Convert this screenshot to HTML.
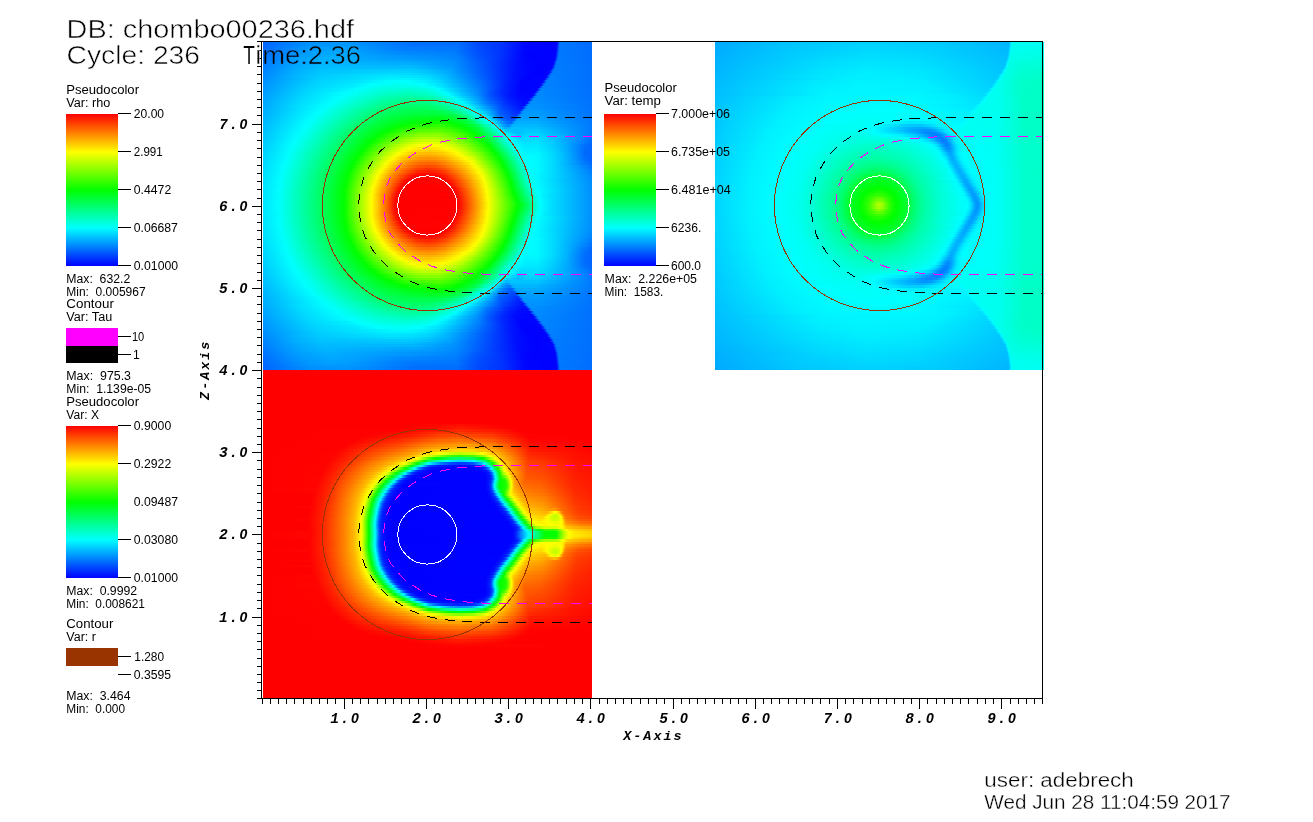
<!DOCTYPE html>
<html><head><meta charset="utf-8"><title>VisIt</title>
<style>
html,body{margin:0;padding:0;background:#fff}
body{width:1313px;height:822px;position:relative;overflow:hidden;font-family:"Liberation Sans",sans-serif}
.f{position:absolute;width:329px;height:328px;overflow:hidden}
.f i{position:absolute;left:0;width:329px;display:block}
svg{position:absolute;left:0;top:0;will-change:transform}
.s{font-family:"Liberation Sans",sans-serif;fill:#000}
.z{font-family:"Liberation Sans",sans-serif;font-size:14px;letter-spacing:0}
.m{font-family:"Liberation Mono",monospace;font-weight:bold;font-style:italic;fill:#000;letter-spacing:1.6px}
</style></head><body>
<div class="f" style="left:263px;top:42px"><i style="top:0px;height:3px;background:linear-gradient(90deg,#0067ff 0.5px,#0093ff 48.5px,#0096ff 85.5px,#006fff 151.5px,#006eff 194.5px,#0048ff 216.5px,#0032ff 239.5px,#0006ff 261.5px,#0000ff 291.5px,#0004ff 293.5px,#0019ff 294.5px,#006cff 296.5px,#0077ff 297.5px,#006dff 328.5px)"></i><i style="top:3px;height:2px;background:linear-gradient(90deg,#0068ff 0.5px,#0096ff 47.5px,#009aff 85.5px,#0073ff 148.5px,#0072ff 194.5px,#004bff 215.5px,#0033ff 238.5px,#0005ff 262.5px,#0000ff 291.5px,#0006ff 293.5px,#001eff 294.5px,#004dff 295.5px,#006eff 296.5px,#0078ff 297.5px,#006dff 328.5px)"></i><i style="top:5px;height:3px;background:linear-gradient(90deg,#006aff 0.5px,#009aff 46.5px,#00a1ff 66.5px,#009eff 85.5px,#007bff 141.5px,#0076ff 193.5px,#004eff 214.5px,#0034ff 237.5px,#0004ff 262.5px,#0000ff 290.5px,#0001ff 292.5px,#000aff 293.5px,#002bff 294.5px,#0059ff 295.5px,#0073ff 296.5px,#0078ff 297.5px,#006eff 328.5px)"></i><i style="top:8px;height:2px;background:linear-gradient(90deg,#006dff 0.5px,#0097ff 37.5px,#00a5ff 66.5px,#00a0ff 90.5px,#0082ff 142.5px,#007bff 191.5px,#0051ff 213.5px,#0034ff 237.5px,#0005ff 261.5px,#0000ff 290.5px,#0002ff 292.5px,#0010ff 293.5px,#0065ff 295.5px,#0077ff 296.5px,#006eff 328.5px)"></i><i style="top:10px;height:3px;background:linear-gradient(90deg,#0070ff 0.5px,#009bff 37.5px,#00a9ff 66.5px,#00a5ff 87.5px,#008cff 135.5px,#007fff 191.5px,#0053ff 213.5px,#0034ff 237.5px,#0007ff 259.5px,#0000ff 268.5px,#0004ff 292.5px,#001aff 293.5px,#006dff 295.5px,#0079ff 296.5px,#006eff 328.5px)"></i><i style="top:13px;height:2px;background:linear-gradient(90deg,#0073ff 0.5px,#009dff 35.5px,#00adff 65.5px,#0085ff 186.5px,#007eff 195.5px,#0058ff 212.5px,#0039ff 234.5px,#0006ff 259.5px,#0000ff 267.5px,#0001ff 291.5px,#0008ff 292.5px,#0027ff 293.5px,#0056ff 294.5px,#0073ff 295.5px,#0079ff 296.5px,#006eff 328.5px)"></i><i style="top:15px;height:3px;background:linear-gradient(90deg,#0076ff 0.5px,#00a2ff 36.5px,#00b1ff 65.5px,#008dff 180.5px,#0083ff 194.5px,#005dff 211.5px,#003eff 232.5px,#0008ff 258.5px,#0000ff 270.5px,#0003ff 291.5px,#0015ff 292.5px,#0068ff 294.5px,#0078ff 295.5px,#007aff 296.5px,#006eff 328.5px)"></i><i style="top:18px;height:2px;background:linear-gradient(90deg,#0079ff 0.5px,#00a3ff 34.5px,#00b4ff 61.5px,#009fff 157.5px,#008aff 192.5px,#0009ff 257.5px,#0000ff 272.5px,#0002ff 290.5px,#000eff 291.5px,#0061ff 293.5px,#0077ff 294.5px,#007bff 295.5px,#006eff 328.5px)"></i><i style="top:20px;height:3px;background:linear-gradient(90deg,#007cff 0.5px,#00a7ff 34.5px,#00b8ff 60.5px,#00abff 153.5px,#008fff 191.5px,#000aff 256.5px,#0000ff 273.5px,#0001ff 289.5px,#000aff 290.5px,#002aff 291.5px,#0058ff 292.5px,#0074ff 293.5px,#007bff 294.5px,#006eff 328.5px)"></i><i style="top:23px;height:3px;background:linear-gradient(90deg,#0080ff 0.5px,#00abff 34.5px,#00bcff 58.5px,#00b9ff 150.5px,#0095ff 190.5px,#000dff 254.5px,#0000ff 273.5px,#0001ff 288.5px,#000aff 289.5px,#0028ff 290.5px,#0056ff 291.5px,#0074ff 292.5px,#007cff 293.5px,#006fff 328.5px)"></i><i style="top:26px;height:2px;background:linear-gradient(90deg,#0083ff 0.5px,#00afff 35.5px,#00c0ff 57.5px,#00c4ff 149.5px,#009eff 187.5px,#000eff 253.5px,#0000ff 272.5px,#0002ff 287.5px,#000eff 288.5px,#002fff 289.5px,#005bff 290.5px,#0075ff 291.5px,#007cff 292.5px,#006fff 328.5px)"></i><i style="top:28px;height:3px;background:linear-gradient(90deg,#0086ff 0.5px,#00b2ff 35.5px,#00c3ff 56.5px,#00d2ff 130.5px,#00cfff 148.5px,#00c0ff 167.5px,#00a8ff 185.5px,#000fff 252.5px,#0000ff 271.5px,#0001ff 285.5px,#0008ff 286.5px,#001fff 287.5px,#006aff 289.5px,#007aff 290.5px,#007eff 291.5px,#006fff 328.5px)"></i><i style="top:31px;height:2px;background:linear-gradient(90deg,#0088ff 0.5px,#00b7ff 36.5px,#00c7ff 56.5px,#00ddff 128.5px,#00d9ff 149.5px,#00cbff 166.5px,#00b0ff 184.5px,#0011ff 251.5px,#0000ff 269.5px,#0002ff 284.5px,#0010ff 285.5px,#005dff 287.5px,#0077ff 288.5px,#007eff 289.5px,#006fff 328.5px)"></i><i style="top:33px;height:3px;background:linear-gradient(90deg,#008bff 0.5px,#00baff 36.5px,#00cbff 55.5px,#00e7ff 126.5px,#00e5ff 148.5px,#00d7ff 165.5px,#00bbff 182.5px,#0014ff 249.5px,#0000ff 267.5px,#0002ff 282.5px,#000bff 283.5px,#0025ff 284.5px,#006eff 286.5px,#007dff 287.5px,#0080ff 288.5px,#006fff 328.5px)"></i><i style="top:36px;height:2px;background:linear-gradient(90deg,#008eff 0.5px,#00ceff 54.5px,#00dfff 99.5px,#00f2ff 126.5px,#00f1ff 148.5px,#00e3ff 164.5px,#00ceff 176.5px,#00adff 191.5px,#0018ff 247.5px,#0006ff 257.5px,#0000ff 266.5px,#0005ff 281.5px,#0019ff 282.5px,#0068ff 284.5px,#007cff 285.5px,#0081ff 286.5px,#006fff 328.5px)"></i><i style="top:38px;height:3px;background:linear-gradient(90deg,#0091ff 0.5px,#00d1ff 53.5px,#00e4ff 95.5px,#00fdff 123.5px,#00ffff 143.5px,#00f1ff 161.5px,#00dcff 174.5px,#006eff 217.5px,#001fff 244.5px,#0002ff 259.5px,#0004ff 279.5px,#0013ff 280.5px,#005cff 282.5px,#0077ff 283.5px,#0081ff 284.5px,#006fff 328.5px)"></i><i style="top:41px;height:3px;background:linear-gradient(90deg,#0094ff 0.5px,#00d1ff 48.5px,#00e9ff 90.5px,#00ffff 109.5px,#00fff0 135.5px,#00fffe 160.5px,#00dcff 179.5px,#0076ff 216.5px,#0022ff 242.5px,#0002ff 258.5px,#0005ff 277.5px,#0015ff 278.5px,#005fff 280.5px,#0079ff 281.5px,#0082ff 282.5px,#0070ff 328.5px)"></i><i style="top:44px;height:2px;background:linear-gradient(90deg,#0097ff 0.5px,#00d4ff 47.5px,#00eeff 87.5px,#00fffe 100.5px,#00ffea 120.5px,#00ffe4 134.5px,#00ffea 154.5px,#00fffd 169.5px,#007eff 215.5px,#0024ff 241.5px,#0001ff 257.5px,#0003ff 275.5px,#0010ff 276.5px,#005cff 278.5px,#0079ff 279.5px,#0083ff 280.5px,#0070ff 328.5px)"></i><i style="top:46px;height:3px;background:linear-gradient(90deg,#0099ff 0.5px,#00d6ff 46.5px,#00f1ff 83.5px,#00fffe 93.5px,#00ffdf 119.5px,#00ffd5 144.5px,#00ffe1 163.5px,#00fffd 175.5px,#0082ff 215.5px,#002bff 238.5px,#0002ff 257.5px,#0004ff 273.5px,#0011ff 274.5px,#0076ff 277.5px,#0083ff 278.5px,#0086ff 279.5px,#0070ff 328.5px)"></i><i style="top:49px;height:2px;background:linear-gradient(90deg,#009cff 0.5px,#00d7ff 44.5px,#00fffe 87.5px,#00ffd8 114.5px,#00ffc4 144.5px,#00ffd2 165.5px,#00fffe 180.5px,#00b8ff 199.5px,#0086ff 215.5px,#0057ff 225.5px,#0029ff 238.5px,#0005ff 255.5px,#0002ff 271.5px,#000dff 272.5px,#002aff 273.5px,#0056ff 274.5px,#0078ff 275.5px,#0085ff 276.5px,#0087ff 277.5px,#0070ff 328.5px)"></i><i style="top:51px;height:3px;background:linear-gradient(90deg,#009eff 0.5px,#00d8ff 42.5px,#00fffe 82.5px,#00ffd0 111.5px,#00ffba 131.5px,#00ffb4 146.5px,#00ffc4 167.5px,#00fffe 185.5px,#00c8ff 198.5px,#0093ff 213.5px,#0051ff 227.5px,#0025ff 240.5px,#0008ff 253.5px,#0003ff 269.5px,#000dff 270.5px,#0029ff 271.5px,#0074ff 273.5px,#0084ff 274.5px,#0088ff 275.5px,#0070ff 328.5px)"></i><i style="top:54px;height:2px;background:linear-gradient(90deg,#00a1ff 0.5px,#00d7ff 39.5px,#00ffff 77.5px,#00ffb5 122.5px,#00ffa4 147.5px,#00ffb4 168.5px,#00ffd0 178.5px,#00fffc 189.5px,#00d1ff 199.5px,#009dff 213.5px,#005bff 226.5px,#0020ff 243.5px,#000aff 253.5px,#0002ff 267.5px,#000bff 268.5px,#0025ff 269.5px,#0075ff 271.5px,#0087ff 272.5px,#008bff 273.5px,#0070ff 328.5px)"></i><i style="top:56px;height:3px;background:linear-gradient(90deg,#00a3ff 0.5px,#00d8ff 37.5px,#00ffff 73.5px,#00ffab 119.5px,#00ff9a 135.5px,#00ff94 149.5px,#00ff99 162.5px,#00ffa6 170.5px,#00ffcf 183.5px,#00fffb 193.5px,#00a7ff 213.5px,#006aff 224.5px,#0023ff 244.5px,#000aff 256.5px,#0006ff 265.5px,#0011ff 266.5px,#002cff 267.5px,#0075ff 269.5px,#0087ff 270.5px,#008cff 271.5px,#0071ff 328.5px)"></i><i style="top:59px;height:3px;background:linear-gradient(90deg,#00a6ff 0.5px,#00d9ff 35.5px,#00ffff 68.5px,#00ff9d 118.5px,#00ff87 136.5px,#00ff80 152.5px,#00ff86 164.5px,#00ff95 172.5px,#00ffc3 186.5px,#00fdff 199.5px,#0072ff 225.5px,#0027ff 245.5px,#0009ff 260.5px,#000eff 263.5px,#0020ff 264.5px,#0068ff 266.5px,#0083ff 267.5px,#0090ff 269.5px,#0072ff 328.5px)"></i><i style="top:62px;height:2px;background:linear-gradient(90deg,#00a8ff 0.5px,#00daff 33.5px,#00ffff 65.5px,#00ff92 117.5px,#00ff77 137.5px,#00ff6f 153.5px,#00ff75 165.5px,#00ff88 174.5px,#00ffba 189.5px,#00fdff 203.5px,#00d0ff 210.5px,#0086ff 224.5px,#003eff 240.5px,#0020ff 250.5px,#000dff 260.5px,#0010ff 261.5px,#0021ff 262.5px,#0070ff 264.5px,#0089ff 265.5px,#0091ff 266.5px,#0092ff 275.5px,#0073ff 328.5px)"></i><i style="top:64px;height:3px;background:linear-gradient(90deg,#00aaff 0.5px,#00daff 31.5px,#00fffe 62.5px,#00ff85 117.5px,#00ff68 137.5px,#00ff60 153.5px,#00ff66 167.5px,#00ff7b 177.5px,#00ffb1 192.5px,#00fffc 206.5px,#00c7ff 215.5px,#0048ff 239.5px,#0017ff 257.5px,#001bff 259.5px,#002dff 260.5px,#0073ff 262.5px,#008aff 263.5px,#0095ff 265.5px,#0073ff 328.5px)"></i><i style="top:67px;height:2px;background:linear-gradient(90deg,#00adff 0.5px,#00ffff 58.5px,#00ff9c 100.5px,#00ff6a 125.5px,#00ff58 139.5px,#00ff52 155.5px,#00ff58 171.5px,#00ff6f 182.5px,#00ff9c 193.5px,#00fffe 210.5px,#00ceff 217.5px,#0092ff 228.5px,#0056ff 237.5px,#001eff 256.5px,#0020ff 257.5px,#002fff 258.5px,#007aff 260.5px,#0090ff 261.5px,#0096ff 262.5px,#0096ff 275.5px,#0074ff 328.5px)"></i><i style="top:69px;height:3px;background:linear-gradient(90deg,#00afff 0.5px,#00ffff 55.5px,#00ff91 100.5px,#00ff59 127.5px,#00ff4a 141.5px,#00ff43 168.5px,#00ff4b 179.5px,#00ff68 189.5px,#00ff8d 196.5px,#00fffc 213.5px,#00a0ff 228.5px,#0060ff 236.5px,#002aff 254.5px,#002bff 255.5px,#0037ff 256.5px,#0078ff 258.5px,#0090ff 259.5px,#0099ff 261.5px,#0099ff 275.5px,#0074ff 328.5px)"></i><i style="top:72px;height:2px;background:linear-gradient(90deg,#00b1ff 0.5px,#00ffff 52.5px,#00ff51 124.5px,#00ff38 150.5px,#00ff30 173.5px,#00ff3c 184.5px,#00ff58 193.5px,#00ff75 198.5px,#00ffcd 209.5px,#00feff 217.5px,#00aeff 228.5px,#0066ff 236.5px,#0038ff 252.5px,#003fff 254.5px,#0093ff 257.5px,#009cff 259.5px,#009bff 275.5px,#0075ff 328.5px)"></i><i style="top:74px;height:3px;background:linear-gradient(90deg,#00b3ff 0.5px,#00fffe 50.5px,#00ff4a 121.5px,#00ff29 148.5px,#00ff1b 175.5px,#00ff2a 186.5px,#00ff4b 197.5px,#00ff72 203.5px,#00ffd1 213.5px,#00fbff 221.5px,#0070ff 237.5px,#005aff 242.5px,#0045ff 250.5px,#004bff 252.5px,#0093ff 255.5px,#009fff 257.5px,#009fff 274.5px,#0076ff 328.5px)"></i><i style="top:77px;height:2px;background:linear-gradient(90deg,#00b5ff 0.5px,#00ffff 47.5px,#00ff44 118.5px,#00ff1c 145.5px,#00ff05 176.5px,#00ff1c 189.5px,#00ff46 202.5px,#00ff62 206.5px,#00ffca 216.5px,#00feff 224.5px,#0078ff 239.5px,#005dff 244.5px,#0052ff 248.5px,#0055ff 250.5px,#0066ff 251.5px,#009bff 253.5px,#00a6ff 255.5px,#00a6ff 274.5px,#0077ff 328.5px)"></i><i style="top:79px;height:3px;background:linear-gradient(90deg,#00b7ff 0.5px,#00fffe 45.5px,#00fff3 51.5px,#00ff42 114.5px,#00ff14 139.5px,#00ff00 157.5px,#03ff00 166.5px,#12ff00 176.5px,#01ff00 186.5px,#00ff28 200.5px,#00ff4d 208.5px,#00ffca 220.5px,#00fffc 227.5px,#00f8ff 228.5px,#0096ff 238.5px,#0073ff 243.5px,#0062ff 247.5px,#0067ff 248.5px,#0077ff 249.5px,#00a2ff 251.5px,#00abff 252.5px,#00aeff 254.5px,#00aeff 274.5px,#0079ff 328.5px)"></i><i style="top:82px;height:3px;background:linear-gradient(90deg,#00baff 0.5px,#00ffff 42.5px,#00fff8 46.5px,#00ff41 109.5px,#03ff00 140.5px,#1cff00 154.5px,#2eff00 176.5px,#21ff00 184.5px,#00ff02 196.5px,#00ff30 208.5px,#00ff4b 213.5px,#00ffa4 221.5px,#00ffc8 226.5px,#00fffe 231.5px,#00a0ff 240.5px,#0086ff 245.5px,#0089ff 246.5px,#00b3ff 249.5px,#00b7ff 250.5px,#00b8ff 273.5px,#007aff 328.5px)"></i><i style="top:85px;height:2px;background:linear-gradient(90deg,#00bcff 0.5px,#00fffd 41.5px,#00ffc8 61.5px,#00ff36 109.5px,#00ff00 131.5px,#1aff00 140.5px,#37ff00 154.5px,#46ff00 176.5px,#2eff00 188.5px,#01ff00 201.5px,#00ff44 216.5px,#00ff88 222.5px,#00ffb9 228.5px,#00feff 234.5px,#00bbff 240.5px,#00a6ff 243.5px,#00c0ff 248.5px,#00bfff 274.5px,#007aff 328.5px)"></i><i style="top:87px;height:3px;background:linear-gradient(90deg,#00bfff 0.5px,#00fffd 39.5px,#00ffee 46.5px,#00ff39 104.5px,#00ff00 125.5px,#34ff00 140.5px,#53ff00 155.5px,#5eff00 176.5px,#3eff00 190.5px,#00ff00 206.5px,#00ff3a 217.5px,#00ff78 223.5px,#00ffb0 230.5px,#00faff 237.5px,#00dbff 240.5px,#00c7ff 243.5px,#00bfff 254.5px,#00c7ff 262.5px,#00c8ff 274.5px,#0079ff 328.5px)"></i><i style="top:90px;height:2px;background:linear-gradient(90deg,#00c1ff 0.5px,#00fffe 37.5px,#00ffc4 58.5px,#00ff00 120.5px,#4dff00 140.5px,#70ff00 156.5px,#77ff00 175.5px,#4eff00 192.5px,#01ff00 210.5px,#00ff1b 215.5px,#00ffa0 231.5px,#00fffb 239.5px,#00f9ff 240.5px,#00daff 245.5px,#00b9ff 254.5px,#00ceff 262.5px,#00d0ff 274.5px,#0078ff 328.5px)"></i><i style="top:92px;height:3px;background:linear-gradient(90deg,#00c3ff 0.5px,#00fdff 34.5px,#00fff4 40.5px,#00ff03 115.5px,#66ff00 140.5px,#8dff00 157.5px,#91ff00 175.5px,#5cff00 194.5px,#03ff00 213.5px,#00ff93 232.5px,#00ffec 240.5px,#00fcff 243.5px,#00c7ff 255.5px,#00d7ff 263.5px,#00d7ff 274.5px,#00b3ff 297.5px,#0076ff 328.5px)"></i><i style="top:95px;height:2px;background:linear-gradient(90deg,#00c5ff 0.5px,#00feff 33.5px,#00fff2 39.5px,#00ff01 112.5px,#4eff00 128.5px,#7fff00 140.5px,#a9ff00 157.5px,#afff00 167.5px,#abff00 175.5px,#93ff00 185.5px,#66ff00 197.5px,#2dff00 209.5px,#00ff01 216.5px,#00ff76 231.5px,#00ffe2 241.5px,#00fdff 246.5px,#00e0ff 252.5px,#00d2ff 257.5px,#00ddff 263.5px,#00dcff 275.5px,#00b6ff 297.5px,#0072ff 328.5px)"></i><i style="top:97px;height:3px;background:linear-gradient(90deg,#00c7ff 0.5px,#00ffff 32.5px,#00ffbe 54.5px,#01ff00 109.5px,#5fff00 127.5px,#9fff00 142.5px,#c2ff00 155.5px,#cbff00 166.5px,#c3ff00 176.5px,#9eff00 189.5px,#4bff00 207.5px,#00ff01 219.5px,#00ff46 228.5px,#00ffda 242.5px,#00fffe 248.5px,#00dcff 258.5px,#00e1ff 274.5px,#00c8ff 289.5px,#006dff 328.5px)"></i><i style="top:100px;height:2px;background:linear-gradient(90deg,#00caff 0.5px,#00fffe 31.5px,#00ff68 78.5px,#00ff00 106.5px,#11ff00 109.5px,#70ff00 126.5px,#b8ff00 142.5px,#deff00 155.5px,#e8ff00 166.5px,#dbff00 177.5px,#b2ff00 190.5px,#64ff00 206.5px,#00ff02 223.5px,#00ff3a 229.5px,#00ffd0 243.5px,#00fffd 250.5px,#00e3ff 260.5px,#00e5ff 274.5px,#00c9ff 290.5px,#0068ff 328.5px)"></i><i style="top:102px;height:3px;background:linear-gradient(90deg,#00ccff 0.5px,#00ffff 29.5px,#00ffe7 38.5px,#00ff68 76.5px,#00ff02 103.5px,#22ff00 109.5px,#9aff00 130.5px,#e2ff00 146.5px,#ffff00 158.5px,#ffff00 170.5px,#eeff00 180.5px,#c2ff00 192.5px,#89ff00 203.5px,#02ff00 225.5px,#00ff06 226.5px,#00ffc4 244.5px,#00ffdc 247.5px,#00fcff 253.5px,#00e9ff 261.5px,#00e9ff 274.5px,#00ceff 289.5px,#00afff 302.5px,#0071ff 321.5px,#0066ff 328.5px)"></i><i style="top:105px;height:3px;background:linear-gradient(90deg,#00ceff 0.5px,#00fffe 28.5px,#00ff64 75.5px,#00ff03 100.5px,#37ff00 109.5px,#afff00 129.5px,#fdff00 145.5px,#ffe900 155.5px,#ffe200 164.5px,#ffea00 174.5px,#fffd00 183.5px,#e8ff00 190.5px,#b5ff00 200.5px,#01ff00 228.5px,#00ffaa 244.5px,#00ffd6 249.5px,#00feff 255.5px,#00eeff 262.5px,#00eeff 274.5px,#00d4ff 288.5px,#00b3ff 301.5px,#006aff 322.5px,#0066ff 328.5px)"></i><i style="top:108px;height:2px;background:linear-gradient(90deg,#00d0ff 0.5px,#00fffd 27.5px,#00ff65 73.5px,#03ff00 99.5px,#a1ff00 123.5px,#fffe00 140.5px,#ffda00 152.5px,#ffce00 164.5px,#ffd900 176.5px,#fffb00 189.5px,#ecff00 194.5px,#b4ff00 204.5px,#02ff00 230.5px,#00ff07 231.5px,#00ff95 244.5px,#00fffd 256.5px,#00f2ff 262.5px,#00f2ff 274.5px,#00d7ff 288.5px,#00b2ff 302.5px,#006cff 321.5px,#0066ff 328.5px)"></i><i style="top:110px;height:3px;background:linear-gradient(90deg,#00d2ff 0.5px,#00fffd 26.5px,#00ff62 72.5px,#00ff02 96.5px,#11ff00 99.5px,#a2ff00 120.5px,#fdff00 135.5px,#ffca00 150.5px,#ffb900 164.5px,#ffcb00 179.5px,#fffc00 194.5px,#a4ff00 210.5px,#02ff00 232.5px,#00ff95 246.5px,#00ffe1 254.5px,#00ffff 258.5px,#00f6ff 262.5px,#00f6ff 274.5px,#00daff 288.5px,#00b8ff 301.5px,#0069ff 322.5px,#0066ff 328.5px)"></i><i style="top:113px;height:2px;background:linear-gradient(90deg,#00d3ff 0.5px,#00fffd 25.5px,#00ff64 70.5px,#00ff03 94.5px,#1fff00 99.5px,#aeff00 119.5px,#fffd00 132.5px,#ffd700 140.5px,#ffbb00 148.5px,#ffaa00 156.5px,#ffa500 164.5px,#ffaa00 172.5px,#ffba00 180.5px,#fffc00 198.5px,#bcff00 210.5px,#00ff00 234.5px,#00ff82 246.5px,#00ffd3 254.5px,#00fffd 259.5px,#00f9ff 274.5px,#00ddff 288.5px,#00baff 301.5px,#006bff 322.5px,#0066ff 328.5px)"></i><i style="top:115px;height:3px;background:linear-gradient(90deg,#00d5ff 0.5px,#00fffd 24.5px,#00ff63 69.5px,#01ff00 93.5px,#2dff00 99.5px,#bfff00 119.5px,#fffc00 129.5px,#ffcc00 138.5px,#ffaa00 147.5px,#ff9600 156.5px,#ff9000 164.5px,#ff9600 172.5px,#ffa900 181.5px,#fffc00 202.5px,#e1ff00 208.5px,#6aff00 222.5px,#00ff02 236.5px,#00ffcf 255.5px,#00ffff 261.5px,#00f9ff 274.5px,#00dbff 289.5px,#00b7ff 302.5px,#0071ff 321.5px,#0066ff 328.5px)"></i><i style="top:118px;height:2px;background:linear-gradient(90deg,#00d7ff 0.5px,#00fffd 23.5px,#00ff61 68.5px,#00ff02 91.5px,#3aff00 99.5px,#fffd00 126.5px,#ffc300 136.5px,#ff9c00 145.5px,#ff8300 155.5px,#ff7b00 164.5px,#ff8100 172.5px,#ff9900 182.5px,#fffb00 206.5px,#efff00 209.5px,#6bff00 224.5px,#04ff00 237.5px,#00ff07 238.5px,#00ffcb 256.5px,#00fffe 262.5px,#00f9ff 274.5px,#00d6ff 291.5px,#00b8ff 302.5px,#0076ff 321.5px,#0067ff 328.5px)"></i><i style="top:120px;height:3px;background:linear-gradient(90deg,#00d8ff 0.5px,#00fffe 22.5px,#00ff61 67.5px,#00ff00 90.5px,#47ff00 99.5px,#feff00 123.5px,#ffbb00 134.5px,#ff8c00 144.5px,#ff6c00 155.5px,#ff6300 164.5px,#ff6c00 173.5px,#ff8500 182.5px,#ffdd00 203.5px,#fffd00 209.5px,#00ff02 239.5px,#00ffbf 256.5px,#00fffd 263.5px,#00f9ff 274.5px,#00d6ff 291.5px,#007eff 320.5px,#006cff 328.5px)"></i><i style="top:123px;height:3px;background:linear-gradient(90deg,#00daff 0.5px,#00fffe 21.5px,#00ff5f 66.5px,#00ff02 88.5px,#56ff00 99.5px,#fffb00 121.5px,#ffab00 133.5px,#ff7900 143.5px,#ff5400 154.5px,#ff4700 164.5px,#ff4f00 172.5px,#ff6900 181.5px,#ffc200 201.5px,#fff900 211.5px,#f6ff00 213.5px,#05ff00 240.5px,#00ff06 241.5px,#00ffd0 259.5px,#00fff6 263.5px,#00feff 265.5px,#00f9ff 274.5px,#00d7ff 291.5px,#0074ff 328.5px)"></i><i style="top:126px;height:2px;background:linear-gradient(90deg,#00dbff 0.5px,#00ffff 20.5px,#00ff5f 65.5px,#00ff01 87.5px,#61ff00 99.5px,#fffc00 119.5px,#ffa000 132.5px,#ff6a00 142.5px,#ff3e00 154.5px,#ff3000 164.5px,#ff3800 172.5px,#ff5300 181.5px,#ffaf00 200.5px,#fff900 213.5px,#f5ff00 215.5px,#00ff03 242.5px,#00ffc5 259.5px,#00ffed 263.5px,#00feff 266.5px,#00f9ff 274.5px,#00d9ff 290.5px,#007aff 328.5px)"></i><i style="top:128px;height:3px;background:linear-gradient(90deg,#00ddff 0.5px,#00fffc 20.5px,#00ff5f 64.5px,#00ff01 86.5px,#6cff00 99.5px,#fffe00 117.5px,#ff9500 131.5px,#ff5e00 141.5px,#ff2700 154.5px,#ff1a00 164.5px,#ff2500 173.5px,#ff4200 182.5px,#ffad00 202.5px,#fffb00 215.5px,#f3ff00 217.5px,#00ff01 243.5px,#00ffc5 260.5px,#00ffee 264.5px,#00feff 267.5px,#00f8ff 275.5px,#00dcff 289.5px,#007fff 328.5px)"></i><i style="top:131px;height:2px;background:linear-gradient(90deg,#00deff 0.5px,#00fffe 19.5px,#00ff5f 63.5px,#00ff01 85.5px,#77ff00 99.5px,#fdff00 115.5px,#fff900 116.5px,#ff8500 131.5px,#ff2c00 147.5px,#ff1000 154.5px,#ff0700 161.5px,#ff0e00 172.5px,#ff2f00 182.5px,#ff5300 189.5px,#fffe00 217.5px,#f8ff00 218.5px,#00ff00 244.5px,#00ffbc 260.5px,#00fffc 267.5px,#00e2ff 286.5px,#0084ff 328.5px)"></i><i style="top:133px;height:3px;background:linear-gradient(90deg,#00dfff 0.5px,#00ffff 18.5px,#00ff60 62.5px,#00ff01 84.5px,#80ff00 99.5px,#fffe00 114.5px,#ff8400 129.5px,#ff1f00 145.5px,#ff0800 150.5px,#ff0100 155.5px,#ff0100 172.5px,#ff0f00 179.5px,#ff4100 189.5px,#fbff00 219.5px,#01ff00 245.5px,#00ffb2 260.5px,#00ffe7 265.5px,#00fffd 268.5px,#00e8ff 283.5px,#0088ff 328.5px)"></i><i style="top:136px;height:2px;background:linear-gradient(90deg,#00e0ff 0.5px,#00fffd 18.5px,#00ff5d 62.5px,#00ff03 83.5px,#13ff00 86.5px,#89ff00 99.5px,#fffc00 113.5px,#ff7e00 128.5px,#ff0f00 144.5px,#ff0000 149.5px,#ff0000 177.5px,#ff0600 181.5px,#ff3d00 191.5px,#fcff00 220.5px,#00ff00 246.5px,#00ffb5 261.5px,#00ffe9 266.5px,#00fffe 269.5px,#008aff 328.5px)"></i><i style="top:138px;height:3px;background:linear-gradient(90deg,#00e1ff 0.5px,#00ffff 17.5px,#00ff62 60.5px,#00ff04 82.5px,#11ff00 85.5px,#91ff00 99.5px,#fffc00 112.5px,#ff8900 125.5px,#ff4a00 134.5px,#ff0f00 141.5px,#ff0100 145.5px,#ff0500 184.5px,#ff3400 192.5px,#fbff00 221.5px,#00ff01 247.5px,#00ffb6 262.5px,#00ffea 267.5px,#00ffff 270.5px,#008cff 328.5px)"></i><i style="top:141px;height:3px;background:linear-gradient(90deg,#00e2ff 0.5px,#00fffd 17.5px,#00ff5b 61.5px,#00ff00 82.5px,#9aff00 99.5px,#fffb00 111.5px,#ff1100 138.5px,#ff0000 142.5px,#ff0500 187.5px,#faff00 222.5px,#00ff02 248.5px,#00ffaa 262.5px,#00ffe9 268.5px,#00fffe 271.5px,#008eff 328.5px)"></i><i style="top:144px;height:2px;background:linear-gradient(90deg,#00e3ff 0.5px,#00fffc 17.5px,#00ff5d 60.5px,#00ff03 81.5px,#13ff00 84.5px,#a1ff00 99.5px,#fffd00 110.5px,#ff0900 137.5px,#ff0000 140.5px,#ff0400 189.5px,#fffe00 222.5px,#f7ff00 223.5px,#00ff04 249.5px,#00ffaa 263.5px,#00ffe0 268.5px,#00ffff 272.5px,#008fff 328.5px)"></i><i style="top:146px;height:3px;background:linear-gradient(90deg,#00e3ff 0.5px,#00fffe 16.5px,#00ff5f 59.5px,#00ff01 81.5px,#a6ff00 99.5px,#feff00 109.5px,#ff4b00 129.5px,#ff0d00 135.5px,#ff0000 138.5px,#ff0200 190.5px,#ff1300 193.5px,#fdff00 223.5px,#7dff00 237.5px,#04ff00 249.5px,#00ff06 250.5px,#00ffd5 268.5px,#00ffff 273.5px,#008fff 328.5px)"></i><i style="top:149px;height:2px;background:linear-gradient(90deg,#00e4ff 0.5px,#00fffd 16.5px,#00ff62 58.5px,#01ff00 81.5px,#aaff00 99.5px,#fffb00 109.5px,#ff4b00 128.5px,#ff0b00 134.5px,#ff0000 137.5px,#ff0100 191.5px,#ff1200 194.5px,#fffd00 223.5px,#f8ff00 224.5px,#79ff00 238.5px,#02ff00 250.5px,#00ff3d 256.5px,#00ffd6 269.5px,#00ffff 274.5px,#008fff 328.5px)"></i><i style="top:151px;height:3px;background:linear-gradient(90deg,#00e4ff 0.5px,#00fffc 16.5px,#00ff64 57.5px,#00ff03 80.5px,#0aff00 82.5px,#aeff00 99.5px,#fdff00 108.5px,#ff5600 126.5px,#ff0b00 133.5px,#ff0000 136.5px,#ff0400 193.5px,#fcff00 224.5px,#00ff00 251.5px,#00ff3e 257.5px,#00ffe1 271.5px,#00feff 275.5px,#00eeff 280.5px,#0090ff 328.5px)"></i><i style="top:154px;height:2px;background:linear-gradient(90deg,#00e4ff 0.5px,#00fffc 16.5px,#00ff63 57.5px,#00ff02 80.5px,#0cff00 82.5px,#b1ff00 99.5px,#ffff00 108.5px,#ffbf00 115.5px,#ff0d00 132.5px,#ff0000 135.5px,#ff0100 193.5px,#ff0b00 195.5px,#ffff00 224.5px,#00ff02 252.5px,#00ff8b 265.5px,#00ffe3 272.5px,#00fcff 276.5px,#00e8ff 283.5px,#0090ff 328.5px)"></i><i style="top:156px;height:3px;background:linear-gradient(90deg,#00e5ff 0.5px,#00ffff 15.5px,#00ff66 56.5px,#00ff02 80.5px,#0cff00 82.5px,#b2ff00 99.5px,#fffd00 108.5px,#ffbe00 115.5px,#ff0700 132.5px,#ff0000 134.5px,#ff0200 194.5px,#ff8200 210.5px,#fffc00 224.5px,#f9ff00 225.5px,#00ff03 253.5px,#00ff7e 265.5px,#00ffdc 272.5px,#00fffe 276.5px,#00e4ff 285.5px,#0090ff 328.5px)"></i><i style="top:159px;height:2px;background:linear-gradient(90deg,#00e5ff 0.5px,#00fffe 15.5px,#00ff66 56.5px,#00ff03 80.5px,#0cff00 82.5px,#b3ff00 99.5px,#fffd00 108.5px,#ffbe00 115.5px,#ff0d00 131.5px,#ff0000 134.5px,#ff0100 194.5px,#ff0c00 196.5px,#faff00 225.5px,#00ff04 254.5px,#00ff7c 266.5px,#00ffd5 272.5px,#00fdff 277.5px,#00e0ff 287.5px,#0090ff 328.5px)"></i><i style="top:161px;height:3px;background:linear-gradient(90deg,#00e5ff 0.5px,#00fffe 15.5px,#00ff66 56.5px,#00ff03 80.5px,#0cff00 82.5px,#b4ff00 99.5px,#fffe00 108.5px,#ffbf00 115.5px,#ff0c00 131.5px,#ff0000 133.5px,#ff0000 194.5px,#ff0a00 196.5px,#fbff00 225.5px,#76ff00 240.5px,#00ff05 255.5px,#00ff64 265.5px,#00ffce 272.5px,#00ffff 277.5px,#00deff 288.5px,#0090ff 328.5px)"></i><i style="top:164px;height:3px;background:linear-gradient(90deg,#00e5ff 0.5px,#00fffe 15.5px,#00ff66 56.5px,#00ff03 80.5px,#0cff00 82.5px,#b4ff00 99.5px,#fffd00 108.5px,#ffbe00 115.5px,#ff0c00 131.5px,#ff0000 133.5px,#ff0100 194.5px,#ff0b00 196.5px,#faff00 225.5px,#01ff00 254.5px,#00ff68 265.5px,#00ffd1 272.5px,#00feff 277.5px,#00deff 288.5px,#0090ff 328.5px)"></i><i style="top:167px;height:2px;background:linear-gradient(90deg,#00e5ff 0.5px,#00fffe 15.5px,#00ff66 56.5px,#00ff02 80.5px,#0cff00 82.5px,#b3ff00 99.5px,#fffd00 108.5px,#ffbe00 115.5px,#ff0f00 131.5px,#ff0000 134.5px,#ff0100 194.5px,#ff8000 210.5px,#fffc00 224.5px,#faff00 225.5px,#02ff00 253.5px,#00ff76 265.5px,#00ffd8 272.5px,#00fffc 276.5px,#00e2ff 286.5px,#0090ff 328.5px)"></i><i style="top:169px;height:3px;background:linear-gradient(90deg,#00e5ff 0.5px,#00fffc 16.5px,#00ff63 57.5px,#00ff02 80.5px,#0cff00 82.5px,#b2ff00 99.5px,#fffe00 108.5px,#ffbe00 115.5px,#ff0900 132.5px,#ff0000 134.5px,#ff0200 194.5px,#fffd00 224.5px,#f8ff00 225.5px,#03ff00 252.5px,#00ff06 253.5px,#00ff83 265.5px,#00ffdf 272.5px,#00ffff 276.5px,#00e4ff 285.5px,#0090ff 328.5px)"></i><i style="top:172px;height:2px;background:linear-gradient(90deg,#00e4ff 0.5px,#00fffc 16.5px,#00ff64 57.5px,#00ff03 80.5px,#0bff00 82.5px,#b0ff00 99.5px,#ffff00 108.5px,#ff5300 126.5px,#ff1000 132.5px,#ff0000 135.5px,#ff0200 193.5px,#feff00 224.5px,#00ff05 252.5px,#00ff91 265.5px,#00ffdc 271.5px,#00fffd 275.5px,#00eaff 282.5px,#0090ff 328.5px)"></i><i style="top:174px;height:3px;background:linear-gradient(90deg,#00e4ff 0.5px,#00fffd 16.5px,#00ff61 58.5px,#00ff04 80.5px,#12ff00 83.5px,#adff00 99.5px,#fcff00 108.5px,#fff900 109.5px,#ff5000 127.5px,#ff0e00 133.5px,#ff0000 136.5px,#ff0100 192.5px,#fbff00 224.5px,#00ff03 251.5px,#00ffda 270.5px,#00fffc 274.5px,#0090ff 328.5px)"></i><i style="top:177px;height:2px;background:linear-gradient(90deg,#00e4ff 0.5px,#00fffe 16.5px,#00ff5e 59.5px,#00ff00 81.5px,#a9ff00 99.5px,#fffd00 109.5px,#ff4e00 128.5px,#ff0f00 134.5px,#ff0000 137.5px,#ff0200 191.5px,#fffe00 223.5px,#80ff00 237.5px,#00ff01 250.5px,#00ffda 269.5px,#00fffc 273.5px,#008fff 328.5px)"></i><i style="top:179px;height:3px;background:linear-gradient(90deg,#00e3ff 0.5px,#00fffe 16.5px,#00ff60 59.5px,#00ff02 81.5px,#16ff00 84.5px,#a4ff00 99.5px,#fcff00 109.5px,#fff900 110.5px,#ff4f00 129.5px,#ff0a00 136.5px,#ff0000 139.5px,#ff0400 190.5px,#fbff00 223.5px,#7aff00 237.5px,#01ff00 249.5px,#00ffda 268.5px,#00fdff 273.5px,#008fff 328.5px)"></i><i style="top:182px;height:2px;background:linear-gradient(90deg,#00e3ff 0.5px,#00fffc 17.5px,#00ff5e 60.5px,#00ff04 81.5px,#11ff00 84.5px,#9eff00 99.5px,#ffff00 110.5px,#ff0f00 137.5px,#ff0000 140.5px,#ff0300 188.5px,#feff00 222.5px,#7dff00 236.5px,#03ff00 248.5px,#00ff08 249.5px,#00ffd9 267.5px,#00fdff 272.5px,#008eff 328.5px)"></i><i style="top:184px;height:3px;background:linear-gradient(90deg,#00e2ff 0.5px,#00fffe 17.5px,#00ff5c 61.5px,#00ff02 82.5px,#15ff00 85.5px,#98ff00 99.5px,#fffe00 111.5px,#ff8900 124.5px,#ff4e00 132.5px,#ff0f00 139.5px,#ff0000 143.5px,#ff0400 186.5px,#ff3700 194.5px,#fffe00 221.5px,#f8ff00 222.5px,#06ff00 247.5px,#00ff05 248.5px,#00ffae 262.5px,#00ffe3 267.5px,#00feff 271.5px,#008eff 328.5px)"></i><i style="top:187px;height:3px;background:linear-gradient(90deg,#00e1ff 0.5px,#00fffc 18.5px,#00ff5b 62.5px,#00ff00 83.5px,#8eff00 99.5px,#ffff00 112.5px,#ff8600 126.5px,#ff1000 142.5px,#ff0000 147.5px,#ff0000 179.5px,#ff0600 183.5px,#ff3a00 192.5px,#fffd00 220.5px,#f8ff00 221.5px,#06ff00 246.5px,#00ff05 247.5px,#00ffba 262.5px,#00ffed 267.5px,#00feff 270.5px,#008cff 328.5px)"></i><i style="top:190px;height:2px;background:linear-gradient(90deg,#00e0ff 0.5px,#00fffe 18.5px,#00ff5e 62.5px,#00ff04 83.5px,#11ff00 86.5px,#86ff00 99.5px,#feff00 113.5px,#ff8300 128.5px,#ff1800 144.5px,#ff0700 147.5px,#ff0100 151.5px,#ff0000 175.5px,#ff0800 180.5px,#ff3d00 190.5px,#fffd00 219.5px,#f8ff00 220.5px,#00ff04 246.5px,#00ffb8 261.5px,#00ffec 266.5px,#00feff 269.5px,#00eaff 282.5px,#0089ff 328.5px)"></i><i style="top:192px;height:3px;background:linear-gradient(90deg,#00dfff 0.5px,#00fffc 19.5px,#00ff5d 63.5px,#00ff03 84.5px,#12ff00 87.5px,#7cff00 99.5px,#fffa00 115.5px,#ff8300 130.5px,#ff2300 146.5px,#ff0c00 151.5px,#ff0300 157.5px,#ff0400 172.5px,#ff1b00 180.5px,#ff4800 189.5px,#ffff00 218.5px,#00ff04 245.5px,#00ffb6 260.5px,#00ffea 265.5px,#00ffff 268.5px,#00e0ff 287.5px,#0086ff 328.5px)"></i><i style="top:195px;height:2px;background:linear-gradient(90deg,#00ddff 0.5px,#00fffe 19.5px,#00ff61 63.5px,#00ff03 85.5px,#13ff00 88.5px,#73ff00 99.5px,#fffe00 116.5px,#ff9900 129.5px,#ff6800 137.5px,#ff2300 151.5px,#ff0e00 161.5px,#ff1400 171.5px,#ff3600 182.5px,#fbff00 217.5px,#00ff04 244.5px,#00ffc0 260.5px,#00ffe9 264.5px,#00fffe 267.5px,#00f8ff 275.5px,#00deff 288.5px,#0082ff 328.5px)"></i><i style="top:197px;height:3px;background:linear-gradient(90deg,#00dcff 0.5px,#00fffd 20.5px,#00ff60 64.5px,#00ff03 86.5px,#0aff00 88.5px,#68ff00 99.5px,#fffb00 118.5px,#ff9c00 131.5px,#ff6500 141.5px,#ff3000 154.5px,#ff2300 164.5px,#ff2d00 173.5px,#ff4b00 182.5px,#ffad00 201.5px,#fff900 214.5px,#f6ff00 216.5px,#05ff00 242.5px,#00ff06 243.5px,#00ffbf 259.5px,#00fff1 264.5px,#00fffe 266.5px,#00f8ff 275.5px,#00dbff 289.5px,#007dff 328.5px)"></i><i style="top:200px;height:2px;background:linear-gradient(90deg,#00dbff 0.5px,#00fffc 21.5px,#00ff60 65.5px,#00ff04 87.5px,#09ff00 89.5px,#5dff00 99.5px,#fdff00 119.5px,#ffa700 132.5px,#ff7200 142.5px,#ff4700 154.5px,#ff3900 164.5px,#ff4300 173.5px,#ff6000 182.5px,#ffb500 200.5px,#fffe00 213.5px,#03ff00 241.5px,#00ff08 242.5px,#00ffbf 258.5px,#00fff1 263.5px,#00fffe 265.5px,#00f9ff 274.5px,#00d9ff 290.5px,#0077ff 328.5px)"></i><i style="top:202px;height:3px;background:linear-gradient(90deg,#00d9ff 0.5px,#00ffff 21.5px,#00ff61 66.5px,#00ff05 88.5px,#08ff00 90.5px,#51ff00 99.5px,#fcff00 121.5px,#ffb200 133.5px,#ff8100 143.5px,#ff5d00 154.5px,#ff5000 164.5px,#ff5800 172.5px,#ff7100 181.5px,#ffc800 201.5px,#ffff00 211.5px,#00ff01 240.5px,#00ffc0 257.5px,#00fffe 264.5px,#00f9ff 274.5px,#00d7ff 291.5px,#0071ff 328.5px)"></i><i style="top:205px;height:3px;background:linear-gradient(90deg,#00d8ff 0.5px,#00ffff 22.5px,#00ff62 67.5px,#00ff03 90.5px,#42ff00 99.5px,#feff00 124.5px,#ffbd00 135.5px,#ff9400 144.5px,#ff7500 155.5px,#ff6d00 164.5px,#ff7400 172.5px,#ff8d00 182.5px,#fffd00 208.5px,#03ff00 238.5px,#00ff08 239.5px,#00ffce 257.5px,#00fff4 261.5px,#00ffff 263.5px,#00f9ff 274.5px,#00d6ff 291.5px,#00b6ff 303.5px,#007cff 320.5px,#006aff 328.5px)"></i><i style="top:208px;height:2px;background:linear-gradient(90deg,#00d6ff 0.5px,#00fffe 23.5px,#00ff63 68.5px,#00ff00 92.5px,#35ff00 99.5px,#fffd00 127.5px,#ffc500 137.5px,#ffa100 146.5px,#ff8b00 155.5px,#ff8300 164.5px,#ff8900 172.5px,#ff9d00 181.5px,#fffd00 205.5px,#efff00 208.5px,#6cff00 223.5px,#00ff03 237.5px,#00ffd1 256.5px,#00fff5 260.5px,#00feff 262.5px,#00f9ff 274.5px,#00d8ff 290.5px,#00b8ff 302.5px,#0074ff 321.5px,#0066ff 328.5px)"></i><i style="top:210px;height:3px;background:linear-gradient(90deg,#00d4ff 0.5px,#00fffe 24.5px,#00ff61 70.5px,#00ff03 93.5px,#28ff00 99.5px,#b1ff00 118.5px,#fffd00 130.5px,#ffcf00 139.5px,#ffb200 147.5px,#ff9f00 155.5px,#ff9800 164.5px,#ff9e00 172.5px,#ffb100 181.5px,#ffff00 201.5px,#d1ff00 209.5px,#63ff00 222.5px,#01ff00 235.5px,#00ffca 254.5px,#00fffd 260.5px,#00f9ff 274.5px,#00dbff 289.5px,#00b7ff 302.5px,#0070ff 321.5px,#0066ff 328.5px)"></i><i style="top:213px;height:2px;background:linear-gradient(90deg,#00d3ff 0.5px,#00fffe 25.5px,#00ff63 71.5px,#00ff02 95.5px,#1aff00 99.5px,#a0ff00 118.5px,#feff00 133.5px,#ffda00 141.5px,#ffc000 149.5px,#ffad00 164.5px,#ffc100 180.5px,#ffff00 197.5px,#b2ff00 210.5px,#03ff00 233.5px,#00ff07 234.5px,#00ff8a 246.5px,#00ffe1 255.5px,#00ffff 259.5px,#00f8ff 262.5px,#00f8ff 274.5px,#00dcff 288.5px,#00b9ff 301.5px,#006aff 322.5px,#0066ff 328.5px)"></i><i style="top:215px;height:3px;background:linear-gradient(90deg,#00d1ff 0.5px,#00fffe 26.5px,#00ff65 72.5px,#00ff01 97.5px,#0bff00 99.5px,#a1ff00 121.5px,#ffff00 137.5px,#ffd000 151.5px,#ffc100 164.5px,#ffd100 178.5px,#fffb00 192.5px,#efff00 196.5px,#aeff00 207.5px,#04ff00 231.5px,#00ff06 232.5px,#00ff89 244.5px,#00fffd 257.5px,#00f4ff 262.5px,#00f4ff 274.5px,#00d9ff 288.5px,#00b3ff 302.5px,#006cff 321.5px,#0066ff 328.5px)"></i><i style="top:218px;height:2px;background:linear-gradient(90deg,#00cfff 0.5px,#00ffff 27.5px,#00ff63 74.5px,#00ff01 99.5px,#41ff00 109.5px,#b7ff00 128.5px,#ffff00 142.5px,#ffe000 153.5px,#ffd600 164.5px,#ffdf00 175.5px,#fffd00 187.5px,#e8ff00 193.5px,#b1ff00 203.5px,#03ff00 229.5px,#00ff06 230.5px,#00ff9d 244.5px,#00ffd4 250.5px,#00feff 256.5px,#00f0ff 262.5px,#00f0ff 274.5px,#00d6ff 288.5px,#00b4ff 301.5px,#0069ff 322.5px,#0066ff 328.5px)"></i><i style="top:220px;height:3px;background:linear-gradient(90deg,#00cdff 0.5px,#00ffff 28.5px,#00ffe7 37.5px,#00ff66 75.5px,#00ff02 101.5px,#30ff00 109.5px,#b1ff00 131.5px,#fdff00 148.5px,#ffea00 164.5px,#fffd00 180.5px,#e6ff00 188.5px,#b7ff00 198.5px,#01ff00 227.5px,#00ffa9 243.5px,#00ffd6 248.5px,#00ffff 254.5px,#00edff 261.5px,#00ecff 274.5px,#00d0ff 289.5px,#00b0ff 302.5px,#006eff 321.5px,#0066ff 328.5px)"></i><i style="top:223px;height:3px;background:linear-gradient(90deg,#00cbff 0.5px,#00fffe 30.5px,#00ff67 77.5px,#00ff02 104.5px,#1bff00 109.5px,#87ff00 128.5px,#c8ff00 142.5px,#edff00 154.5px,#f8ff00 165.5px,#ebff00 177.5px,#c1ff00 190.5px,#70ff00 206.5px,#02ff00 224.5px,#00ff06 225.5px,#00ffc3 243.5px,#00ffdc 246.5px,#00fdff 252.5px,#00e8ff 260.5px,#00e8ff 274.5px,#00cdff 289.5px,#00aeff 302.5px,#0072ff 321.5px,#0066ff 328.5px)"></i><i style="top:226px;height:2px;background:linear-gradient(90deg,#00c9ff 0.5px,#00ffff 31.5px,#00ffbb 54.5px,#00ff01 107.5px,#0aff00 109.5px,#67ff00 126.5px,#aeff00 142.5px,#d3ff00 155.5px,#ddff00 166.5px,#d1ff00 177.5px,#a8ff00 190.5px,#57ff00 207.5px,#01ff00 221.5px,#00ff38 228.5px,#00ffd8 243.5px,#00fcff 250.5px,#00e1ff 259.5px,#00e4ff 274.5px,#00caff 289.5px,#006aff 328.5px)"></i><i style="top:228px;height:3px;background:linear-gradient(90deg,#00c7ff 0.5px,#00fffe 33.5px,#00ffbe 55.5px,#00ff00 110.5px,#57ff00 127.5px,#8dff00 140.5px,#aaff00 149.5px,#bbff00 158.5px,#c0ff00 168.5px,#b9ff00 176.5px,#9bff00 187.5px,#6aff00 199.5px,#39ff00 209.5px,#03ff00 217.5px,#00ff35 225.5px,#00ff75 232.5px,#00ffd8 241.5px,#00fffe 247.5px,#00daff 257.5px,#00deff 275.5px,#00b7ff 297.5px,#006fff 328.5px)"></i><i style="top:231px;height:2px;background:linear-gradient(90deg,#00c4ff 0.5px,#00ffff 34.5px,#00fff1 40.5px,#00ff02 113.5px,#75ff00 140.5px,#9eff00 157.5px,#a0ff00 175.5px,#8bff00 184.5px,#61ff00 196.5px,#2bff00 208.5px,#00ff01 215.5px,#00ff7e 231.5px,#00ffe9 241.5px,#00fdff 245.5px,#00ceff 256.5px,#00dbff 263.5px,#00daff 275.5px,#00b5ff 297.5px,#0074ff 328.5px)"></i><i style="top:233px;height:3px;background:linear-gradient(90deg,#00c2ff 0.5px,#00feff 35.5px,#00fff3 41.5px,#00ff01 117.5px,#5cff00 140.5px,#81ff00 156.5px,#86ff00 175.5px,#57ff00 193.5px,#02ff00 212.5px,#00ff12 215.5px,#00ff9b 232.5px,#00fffe 241.5px,#00d6ff 249.5px,#00c1ff 255.5px,#00d4ff 263.5px,#00d4ff 274.5px,#0077ff 328.5px)"></i><i style="top:236px;height:2px;background:linear-gradient(90deg,#00c0ff 0.5px,#00fffd 38.5px,#00ffc7 58.5px,#00ff00 122.5px,#43ff00 140.5px,#65ff00 156.5px,#6cff00 176.5px,#48ff00 191.5px,#00ff02 209.5px,#00ff31 217.5px,#00ff6a 223.5px,#00ffa9 231.5px,#00fffc 238.5px,#00f7ff 239.5px,#00d4ff 244.5px,#00b7ff 254.5px,#00cbff 262.5px,#00ccff 274.5px,#0079ff 328.5px)"></i><i style="top:238px;height:3px;background:linear-gradient(90deg,#00beff 0.5px,#00ffff 39.5px,#00ffee 47.5px,#00ff3b 105.5px,#00ff00 127.5px,#29ff00 140.5px,#49ff00 155.5px,#54ff00 176.5px,#38ff00 189.5px,#01ff00 204.5px,#00ff40 217.5px,#00ff81 223.5px,#00ffb1 229.5px,#00faff 236.5px,#00cfff 240.5px,#00baff 243.5px,#00c4ff 247.5px,#00c4ff 274.5px,#007aff 328.5px)"></i><i style="top:241px;height:2px;background:linear-gradient(90deg,#00bcff 0.5px,#00ffff 41.5px,#00fff1 48.5px,#00ff3a 109.5px,#00ff02 133.5px,#10ff00 140.5px,#2cff00 154.5px,#3dff00 176.5px,#27ff00 187.5px,#00ff00 199.5px,#00ff47 215.5px,#00ff8c 221.5px,#00ffbc 227.5px,#00fdff 233.5px,#00afff 240.5px,#0099ff 244.5px,#009bff 245.5px,#00bbff 248.5px,#00bcff 249.5px,#00bcff 274.5px,#007aff 328.5px)"></i><i style="top:243px;height:3px;background:linear-gradient(90deg,#00b9ff 0.5px,#00ffff 43.5px,#00fff1 50.5px,#00ff3d 112.5px,#00ff01 142.5px,#0cff00 150.5px,#25ff00 176.5px,#00ff04 194.5px,#00ff2b 205.5px,#00ff49 211.5px,#00ff64 214.5px,#00ffb4 221.5px,#00ffd7 226.5px,#00fdff 230.5px,#00a0ff 239.5px,#0084ff 243.5px,#007aff 246.5px,#0080ff 247.5px,#00a5ff 249.5px,#00b4ff 251.5px,#00b5ff 271.5px,#0079ff 328.5px)"></i><i style="top:246px;height:3px;background:linear-gradient(90deg,#00b6ff 0.5px,#00fffe 46.5px,#00ff42 116.5px,#00ff13 144.5px,#01ff00 170.5px,#09ff00 176.5px,#00ff01 183.5px,#00ff1d 194.5px,#00ff40 204.5px,#00ff65 209.5px,#00ffc6 218.5px,#00ffff 226.5px,#008dff 238.5px,#006bff 243.5px,#005bff 247.5px,#0062ff 249.5px,#00a1ff 252.5px,#00abff 254.5px,#00abff 274.5px,#0078ff 328.5px)"></i><i style="top:249px;height:2px;background:linear-gradient(90deg,#00b4ff 0.5px,#00ffff 48.5px,#00ff45 120.5px,#00ff20 147.5px,#00ff0e 176.5px,#00ff22 188.5px,#00ff47 200.5px,#00ff6a 205.5px,#00ffc7 214.5px,#00fbff 223.5px,#006fff 239.5px,#004dff 249.5px,#0053ff 251.5px,#009bff 254.5px,#00a3ff 256.5px,#00a3ff 274.5px,#0076ff 328.5px)"></i><i style="top:251px;height:3px;background:linear-gradient(90deg,#00b2ff 0.5px,#00fffe 51.5px,#00ff4b 123.5px,#00ff2f 149.5px,#00ff24 175.5px,#00ff35 187.5px,#00ff53 196.5px,#00ff7b 202.5px,#00ffcd 211.5px,#00ffff 219.5px,#0068ff 237.5px,#0040ff 251.5px,#0049ff 253.5px,#0095ff 256.5px,#009dff 258.5px,#009dff 275.5px,#0075ff 328.5px)"></i><i style="top:254px;height:2px;background:linear-gradient(90deg,#00b0ff 0.5px,#00fffe 54.5px,#00ff8f 98.5px,#00ff54 125.5px,#00ff3e 150.5px,#00ff38 172.5px,#00ff41 182.5px,#00ff5c 191.5px,#00ff7d 197.5px,#00ffc8 207.5px,#00fbff 216.5px,#00a8ff 228.5px,#0063ff 236.5px,#0032ff 253.5px,#0033ff 254.5px,#003eff 255.5px,#0081ff 257.5px,#0095ff 258.5px,#009aff 259.5px,#009bff 274.5px,#0075ff 328.5px)"></i><i style="top:256px;height:3px;background:linear-gradient(90deg,#00aeff 0.5px,#00fffe 57.5px,#00ff97 99.5px,#00ff60 126.5px,#00ff4f 140.5px,#00ff4a 161.5px,#00ff4f 175.5px,#00ff69 186.5px,#00ff8e 194.5px,#00fffe 212.5px,#00cdff 219.5px,#009aff 228.5px,#005eff 236.5px,#0025ff 255.5px,#0028ff 256.5px,#003aff 257.5px,#007eff 259.5px,#0092ff 260.5px,#0098ff 261.5px,#0098ff 275.5px,#0074ff 328.5px)"></i><i style="top:259px;height:2px;background:linear-gradient(90deg,#00acff 0.5px,#00fffe 60.5px,#00ff7e 117.5px,#00ff60 136.5px,#00ff57 153.5px,#00ff5e 169.5px,#00ff74 180.5px,#00ffac 194.5px,#00fdff 209.5px,#00ccff 216.5px,#0050ff 238.5px,#001aff 257.5px,#001fff 258.5px,#0034ff 259.5px,#007fff 261.5px,#0091ff 262.5px,#0096ff 263.5px,#0095ff 275.5px,#0074ff 328.5px)"></i><i style="top:261px;height:3px;background:linear-gradient(90deg,#00aaff 0.5px,#00daff 32.5px,#00ffff 63.5px,#00ff8a 117.5px,#00ff6d 138.5px,#00ff66 153.5px,#00ff6c 166.5px,#00ff81 176.5px,#00ffb5 191.5px,#00ffff 205.5px,#00c5ff 214.5px,#0046ff 239.5px,#0013ff 258.5px,#0019ff 260.5px,#002fff 261.5px,#0077ff 263.5px,#008cff 264.5px,#0093ff 265.5px,#0093ff 275.5px,#0073ff 328.5px)"></i><i style="top:264px;height:2px;background:linear-gradient(90deg,#00a7ff 0.5px,#00daff 34.5px,#00ffff 66.5px,#00ff97 117.5px,#00ff7e 136.5px,#00ff76 152.5px,#00ff7c 165.5px,#00ff8d 173.5px,#00ffbe 188.5px,#00ffff 201.5px,#00ceff 209.5px,#0072ff 227.5px,#002eff 244.5px,#000bff 260.5px,#0010ff 262.5px,#0025ff 263.5px,#0075ff 265.5px,#008aff 266.5px,#0091ff 267.5px,#0072ff 328.5px)"></i><i style="top:266px;height:3px;background:linear-gradient(90deg,#00a5ff 0.5px,#00d9ff 36.5px,#00ffff 70.5px,#00ffa2 118.5px,#00ff8e 135.5px,#00ff87 151.5px,#00ff8d 164.5px,#00ff9c 172.5px,#00ffcb 186.5px,#00ffff 197.5px,#00d2ff 205.5px,#00a6ff 215.5px,#0071ff 224.5px,#0025ff 245.5px,#000aff 258.5px,#0008ff 263.5px,#000eff 264.5px,#0023ff 265.5px,#006dff 267.5px,#0085ff 268.5px,#008fff 270.5px,#0072ff 328.5px)"></i><i style="top:269px;height:3px;background:linear-gradient(90deg,#00a2ff 0.5px,#00d8ff 38.5px,#00feff 74.5px,#00ffae 121.5px,#00ff9b 149.5px,#00ffa0 162.5px,#00ffad 170.5px,#00ffd3 182.5px,#00ffff 192.5px,#00d1ff 201.5px,#00a3ff 213.5px,#0067ff 224.5px,#0020ff 244.5px,#000aff 255.5px,#0006ff 266.5px,#0013ff 267.5px,#0078ff 270.5px,#0088ff 271.5px,#008cff 272.5px,#0071ff 328.5px)"></i><i style="top:272px;height:2px;background:linear-gradient(90deg,#00a0ff 0.5px,#00d7ff 40.5px,#00feff 78.5px,#00ffb8 124.5px,#00ffab 147.5px,#00ffbb 168.5px,#00fffb 187.5px,#009dff 212.5px,#0054ff 227.5px,#0021ff 242.5px,#000aff 252.5px,#0002ff 268.5px,#000eff 269.5px,#007bff 272.5px,#0088ff 273.5px,#008aff 274.5px,#0070ff 328.5px)"></i><i style="top:274px;height:3px;background:linear-gradient(90deg,#009eff 0.5px,#00d8ff 43.5px,#00fffe 84.5px,#00ffd3 112.5px,#00ffbb 145.5px,#00ffc9 166.5px,#00fffe 183.5px,#00bfff 199.5px,#008dff 214.5px,#0050ff 227.5px,#0024ff 240.5px,#0008ff 253.5px,#0004ff 270.5px,#0012ff 271.5px,#0079ff 274.5px,#0085ff 275.5px,#0088ff 276.5px,#0070ff 328.5px)"></i><i style="top:277px;height:2px;background:linear-gradient(90deg,#009bff 0.5px,#00d7ff 45.5px,#00ffff 89.5px,#00ffdb 115.5px,#00ffcb 144.5px,#00ffd8 164.5px,#00fffe 178.5px,#00b8ff 198.5px,#0085ff 215.5px,#0058ff 225.5px,#0029ff 238.5px,#0003ff 256.5px,#0003ff 272.5px,#0012ff 273.5px,#0060ff 275.5px,#007cff 276.5px,#0086ff 277.5px,#0070ff 328.5px)"></i><i style="top:279px;height:3px;background:linear-gradient(90deg,#0098ff 0.5px,#00d6ff 47.5px,#00efff 84.5px,#00ffff 95.5px,#00ffe3 120.5px,#00ffdc 143.5px,#00ffe5 160.5px,#00fffe 173.5px,#0081ff 215.5px,#0028ff 239.5px,#0001ff 257.5px,#0006ff 274.5px,#0017ff 275.5px,#0060ff 277.5px,#007aff 278.5px,#0085ff 280.5px,#0070ff 328.5px)"></i><i style="top:282px;height:2px;background:linear-gradient(90deg,#0096ff 0.5px,#00d2ff 47.5px,#00ecff 88.5px,#00ffff 103.5px,#00ffe9 134.5px,#00ffef 152.5px,#00fffe 166.5px,#00e3ff 179.5px,#007cff 215.5px,#0022ff 242.5px,#0002ff 257.5px,#0005ff 276.5px,#0016ff 277.5px,#0064ff 279.5px,#007cff 280.5px,#0084ff 281.5px,#0070ff 328.5px)"></i><i style="top:284px;height:3px;background:linear-gradient(90deg,#0093ff 0.5px,#00d0ff 48.5px,#00e8ff 92.5px,#00ffff 113.5px,#00fff4 135.5px,#00ffff 156.5px,#00ddff 177.5px,#0074ff 216.5px,#0020ff 243.5px,#0002ff 258.5px,#0001ff 277.5px,#0008ff 278.5px,#001dff 279.5px,#0069ff 281.5px,#007dff 282.5px,#0083ff 283.5px,#006fff 328.5px)"></i><i style="top:287px;height:3px;background:linear-gradient(90deg,#0090ff 0.5px,#00cfff 52.5px,#00fbff 138.5px,#00f2ff 156.5px,#00dcff 172.5px,#00aeff 192.5px,#001cff 245.5px,#0002ff 260.5px,#0001ff 279.5px,#0007ff 280.5px,#001bff 281.5px,#0067ff 283.5px,#007bff 284.5px,#0081ff 285.5px,#006fff 328.5px)"></i><i style="top:290px;height:2px;background:linear-gradient(90deg,#008dff 0.5px,#00cdff 55.5px,#00eeff 126.5px,#00ecff 148.5px,#00deff 164.5px,#00c7ff 178.5px,#0016ff 248.5px,#0006ff 257.5px,#0000ff 266.5px,#0001ff 281.5px,#0009ff 282.5px,#0023ff 283.5px,#0070ff 285.5px,#007eff 286.5px,#0081ff 287.5px,#006fff 328.5px)"></i><i style="top:292px;height:3px;background:linear-gradient(90deg,#008aff 0.5px,#00b9ff 36.5px,#00caff 56.5px,#00e3ff 127.5px,#00e0ff 149.5px,#00d1ff 166.5px,#00b6ff 183.5px,#0012ff 250.5px,#0000ff 268.5px,#0003ff 283.5px,#0011ff 284.5px,#0059ff 286.5px,#0075ff 287.5px,#007eff 288.5px,#006fff 328.5px)"></i><i style="top:295px;height:2px;background:linear-gradient(90deg,#0087ff 0.5px,#00b4ff 35.5px,#00c6ff 56.5px,#00d9ff 129.5px,#00d5ff 148.5px,#00c6ff 167.5px,#00acff 185.5px,#0011ff 251.5px,#0000ff 270.5px,#0006ff 285.5px,#001aff 286.5px,#006aff 288.5px,#007bff 289.5px,#007eff 290.5px,#006fff 328.5px)"></i><i style="top:297px;height:3px;background:linear-gradient(90deg,#0084ff 0.5px,#00b1ff 35.5px,#00c2ff 57.5px,#00cbff 148.5px,#00bbff 168.5px,#00a4ff 186.5px,#000fff 252.5px,#0000ff 271.5px,#0002ff 286.5px,#000eff 287.5px,#0072ff 290.5px,#007cff 291.5px,#006fff 328.5px)"></i><i style="top:300px;height:2px;background:linear-gradient(90deg,#0081ff 0.5px,#00adff 34.5px,#00beff 57.5px,#00c0ff 149.5px,#009aff 188.5px,#000dff 254.5px,#0000ff 273.5px,#0005ff 288.5px,#001aff 289.5px,#006bff 291.5px,#007aff 292.5px,#007dff 293.5px,#006fff 328.5px)"></i><i style="top:302px;height:3px;background:linear-gradient(90deg,#007fff 0.5px,#00a9ff 34.5px,#00bbff 59.5px,#00b5ff 151.5px,#0093ff 190.5px,#000cff 255.5px,#0000ff 273.5px,#0005ff 289.5px,#001bff 290.5px,#006dff 292.5px,#007aff 293.5px,#006fff 328.5px)"></i><i style="top:305px;height:3px;background:linear-gradient(90deg,#007bff 0.5px,#00a5ff 34.5px,#00b7ff 60.5px,#00a7ff 154.5px,#008cff 192.5px,#000aff 256.5px,#0000ff 273.5px,#0006ff 290.5px,#001dff 291.5px,#006eff 293.5px,#007aff 294.5px,#006eff 328.5px)"></i><i style="top:308px;height:2px;background:linear-gradient(90deg,#0078ff 0.5px,#00a3ff 35.5px,#00b3ff 64.5px,#0094ff 174.5px,#0087ff 193.5px,#0009ff 257.5px,#0000ff 271.5px,#0001ff 290.5px,#0008ff 291.5px,#0026ff 292.5px,#0054ff 293.5px,#0072ff 294.5px,#007aff 295.5px,#006eff 328.5px)"></i><i style="top:310px;height:3px;background:linear-gradient(90deg,#0075ff 0.5px,#009fff 35.5px,#00afff 65.5px,#008aff 182.5px,#0082ff 194.5px,#005cff 211.5px,#003dff 232.5px,#0008ff 258.5px,#0000ff 269.5px,#0002ff 291.5px,#000eff 292.5px,#0060ff 294.5px,#0076ff 295.5px,#007aff 296.5px,#006eff 328.5px)"></i><i style="top:313px;height:2px;background:linear-gradient(90deg,#0072ff 0.5px,#009cff 36.5px,#00abff 66.5px,#0082ff 190.5px,#0079ff 197.5px,#0055ff 213.5px,#0035ff 236.5px,#0006ff 259.5px,#0000ff 267.5px,#0000ff 291.5px,#0007ff 292.5px,#0021ff 293.5px,#0050ff 294.5px,#0071ff 295.5px,#0079ff 296.5px,#006eff 328.5px)"></i><i style="top:315px;height:3px;background:linear-gradient(90deg,#006fff 0.5px,#0099ff 37.5px,#00a7ff 66.5px,#00a3ff 88.5px,#0087ff 139.5px,#007dff 191.5px,#0052ff 213.5px,#0034ff 237.5px,#0007ff 259.5px,#0000ff 269.5px,#0003ff 292.5px,#0016ff 293.5px,#006aff 295.5px,#0078ff 296.5px,#006eff 328.5px)"></i><i style="top:318px;height:2px;background:linear-gradient(90deg,#006cff 0.5px,#0095ff 37.5px,#00a3ff 66.5px,#009eff 91.5px,#007fff 142.5px,#0079ff 191.5px,#004fff 214.5px,#0034ff 237.5px,#0005ff 261.5px,#0000ff 290.5px,#0001ff 292.5px,#000dff 293.5px,#0061ff 295.5px,#0075ff 296.5px,#0079ff 297.5px,#006eff 328.5px)"></i><i style="top:320px;height:3px;background:linear-gradient(90deg,#006aff 0.5px,#0098ff 46.5px,#009fff 66.5px,#009cff 85.5px,#0077ff 145.5px,#0075ff 193.5px,#004dff 214.5px,#0033ff 238.5px,#0005ff 262.5px,#0000ff 291.5px,#0008ff 293.5px,#0026ff 294.5px,#0054ff 295.5px,#0071ff 296.5px,#0078ff 297.5px,#006eff 328.5px)"></i><i style="top:323px;height:2px;background:linear-gradient(90deg,#0068ff 0.5px,#0094ff 47.5px,#0098ff 85.5px,#0071ff 150.5px,#0070ff 194.5px,#004aff 215.5px,#0032ff 239.5px,#0005ff 262.5px,#0000ff 291.5px,#0005ff 293.5px,#001bff 294.5px,#0049ff 295.5px,#006dff 296.5px,#0077ff 297.5px,#006dff 328.5px)"></i><i style="top:325px;height:3px;background:linear-gradient(90deg,#0066ff 0.5px,#0090ff 47.5px,#0095ff 85.5px,#006eff 151.5px,#006dff 194.5px,#0047ff 216.5px,#0032ff 239.5px,#0006ff 261.5px,#0000ff 291.5px,#0003ff 293.5px,#0017ff 294.5px,#006bff 296.5px,#0077ff 297.5px,#006dff 328.5px)"></i></div>
<div class="f" style="left:715px;top:42px"><i style="top:0px;height:3px;background:linear-gradient(90deg,#00abff 0.5px,#00c8ff 83.5px,#00d3ff 154.5px,#00ccff 220.5px,#00b7ff 292.5px,#00b8ff 293.5px,#00c5ff 294.5px,#00fffc 296.5px,#00fff1 298.5px,#00fff1 328.5px)"></i><i style="top:3px;height:2px;background:linear-gradient(90deg,#00acff 0.5px,#00c8ff 81.5px,#00d5ff 154.5px,#00cdff 221.5px,#00b8ff 292.5px,#00baff 293.5px,#00caff 294.5px,#00eaff 295.5px,#00fff9 296.5px,#00fff0 298.5px,#00ffef 328.5px)"></i><i style="top:5px;height:3px;background:linear-gradient(90deg,#00adff 0.5px,#00c9ff 79.5px,#00d7ff 153.5px,#00cfff 221.5px,#00b9ff 292.5px,#00beff 293.5px,#00d3ff 294.5px,#00f5ff 295.5px,#00fff5 296.5px,#00ffef 298.5px,#00ffed 328.5px)"></i><i style="top:8px;height:2px;background:linear-gradient(90deg,#00aeff 0.5px,#00caff 78.5px,#00daff 154.5px,#00d5ff 201.5px,#00baff 291.5px,#00c3ff 293.5px,#00ffff 295.5px,#00fff1 296.5px,#00ffee 297.5px,#00ffea 328.5px)"></i><i style="top:10px;height:3px;background:linear-gradient(90deg,#00afff 0.5px,#00cbff 76.5px,#00dcff 154.5px,#00d7ff 202.5px,#00bcff 291.5px,#00bdff 292.5px,#00caff 293.5px,#00eaff 294.5px,#00fff7 295.5px,#00ffec 297.5px,#00ffe7 328.5px)"></i><i style="top:13px;height:2px;background:linear-gradient(90deg,#00b0ff 0.5px,#00ccff 74.5px,#00deff 153.5px,#00d9ff 202.5px,#00bdff 291.5px,#00c1ff 292.5px,#00d4ff 293.5px,#00f5ff 294.5px,#00fff2 295.5px,#00ffeb 296.5px,#00ffe6 305.5px,#00ffe4 328.5px)"></i><i style="top:15px;height:3px;background:linear-gradient(90deg,#00b1ff 0.5px,#00d8ff 107.5px,#00e0ff 153.5px,#00dbff 203.5px,#00beff 290.5px,#00caff 292.5px,#00fffa 294.5px,#00ffec 295.5px,#00ffe8 297.5px,#00ffe0 328.5px)"></i><i style="top:18px;height:2px;background:linear-gradient(90deg,#00b2ff 0.5px,#00daff 106.5px,#00e2ff 153.5px,#00ddff 204.5px,#00c0ff 289.5px,#00c7ff 291.5px,#00ffff 293.5px,#00ffed 294.5px,#00ffe7 296.5px,#00ffdd 310.5px,#00ffdd 328.5px)"></i><i style="top:20px;height:3px;background:linear-gradient(90deg,#00b3ff 0.5px,#00dcff 106.5px,#00e5ff 153.5px,#00dfff 204.5px,#00c1ff 289.5px,#00c6ff 290.5px,#00daff 291.5px,#00f9ff 292.5px,#00ffef 293.5px,#00ffe6 295.5px,#00ffdb 307.5px,#00ffd9 328.5px)"></i><i style="top:23px;height:3px;background:linear-gradient(90deg,#00b4ff 0.5px,#00deff 105.5px,#00e7ff 153.5px,#00e2ff 204.5px,#00c3ff 288.5px,#00c8ff 289.5px,#00daff 290.5px,#00f9ff 291.5px,#00ffef 292.5px,#00ffe5 294.5px,#00ffd7 307.5px,#00ffd5 328.5px)"></i><i style="top:26px;height:2px;background:linear-gradient(90deg,#00b5ff 0.5px,#00e0ff 105.5px,#00eaff 153.5px,#00e3ff 206.5px,#00c5ff 286.5px,#00cbff 288.5px,#00fcff 290.5px,#00ffee 291.5px,#00ffe5 293.5px,#00ffd4 307.5px,#00ffd1 328.5px)"></i><i style="top:28px;height:3px;background:linear-gradient(90deg,#00b6ff 0.5px,#00e2ff 104.5px,#00ecff 152.5px,#00e6ff 205.5px,#00c6ff 285.5px,#00d6ff 287.5px,#00fff8 289.5px,#00ffe7 291.5px,#00ffd4 305.5px,#00ffce 328.5px)"></i><i style="top:31px;height:2px;background:linear-gradient(90deg,#00b7ff 0.5px,#00e3ff 103.5px,#00eeff 152.5px,#00e8ff 206.5px,#00c8ff 283.5px,#00cfff 285.5px,#00fcff 287.5px,#00fff0 288.5px,#00ffe7 290.5px,#00ffcf 307.5px,#00ffcc 328.5px)"></i><i style="top:33px;height:3px;background:linear-gradient(90deg,#00b8ff 0.5px,#00e5ff 101.5px,#00f0ff 148.5px,#00eaff 204.5px,#00caff 281.5px,#00ceff 283.5px,#00f1ff 285.5px,#00fff8 286.5px,#00ffe9 288.5px,#00ffd0 304.5px,#00ffc9 328.5px)"></i><i style="top:36px;height:2px;background:linear-gradient(90deg,#00b9ff 0.5px,#00efff 130.5px,#00eeff 197.5px,#00cbff 280.5px,#00d6ff 282.5px,#00eaff 283.5px,#00fffe 284.5px,#00ffec 286.5px,#00ffcd 305.5px,#00ffc7 328.5px)"></i><i style="top:38px;height:3px;background:linear-gradient(90deg,#00baff 0.5px,#00e9ff 101.5px,#00f2ff 144.5px,#00efff 204.5px,#00cdff 278.5px,#00d4ff 280.5px,#00f9ff 282.5px,#00ffec 285.5px,#00ffcc 305.5px,#00ffc6 328.5px)"></i><i style="top:41px;height:3px;background:linear-gradient(90deg,#00bbff 0.5px,#00ebff 101.5px,#00f4ff 143.5px,#00efff 209.5px,#00d0ff 276.5px,#00d7ff 278.5px,#00f9ff 280.5px,#00ffef 283.5px,#00ffca 306.5px,#00ffc5 328.5px)"></i><i style="top:44px;height:2px;background:linear-gradient(90deg,#00bcff 0.5px,#00eeff 102.5px,#00f5ff 142.5px,#00f0ff 214.5px,#00d1ff 274.5px,#00d6ff 276.5px,#00f7ff 278.5px,#00fff2 280.5px,#00ffca 306.5px,#00ffc5 328.5px)"></i><i style="top:46px;height:3px;background:linear-gradient(90deg,#00bdff 0.5px,#00eeff 99.5px,#00f6ff 141.5px,#00f0ff 218.5px,#00d4ff 272.5px,#00d9ff 274.5px,#00f5ff 276.5px,#00fffb 277.5px,#00fff2 279.5px,#00ffc9 307.5px,#00ffc5 328.5px)"></i><i style="top:49px;height:2px;background:linear-gradient(90deg,#00bdff 0.5px,#00f3ff 112.5px,#00f4ff 203.5px,#00d7ff 271.5px,#00daff 272.5px,#00f5ff 274.5px,#00fffb 275.5px,#00ffc9 307.5px,#00ffc5 328.5px)"></i><i style="top:51px;height:3px;background:linear-gradient(90deg,#00beff 0.5px,#00f5ff 114.5px,#00f6ff 201.5px,#00efff 230.5px,#00daff 268.5px,#00ddff 270.5px,#00f5ff 272.5px,#00fffc 273.5px,#00fff3 275.5px,#00ffec 285.5px,#00ffc9 307.5px,#00ffc5 328.5px)"></i><i style="top:54px;height:2px;background:linear-gradient(90deg,#00bfff 0.5px,#00eeff 87.5px,#00f6ff 115.5px,#00f8ff 198.5px,#00efff 233.5px,#00ddff 267.5px,#00e6ff 269.5px,#00f5ff 270.5px,#00fffc 271.5px,#00fff3 273.5px,#00ffed 284.5px,#00ffc8 308.5px,#00ffc5 328.5px)"></i><i style="top:56px;height:3px;background:linear-gradient(90deg,#00c0ff 0.5px,#00efff 84.5px,#00f7ff 115.5px,#00f9ff 195.5px,#00f0ff 235.5px,#00e0ff 264.5px,#00e2ff 266.5px,#00f7ff 268.5px,#00fffc 269.5px,#00fff3 271.5px,#00ffed 284.5px,#00ffc8 308.5px,#00ffc5 328.5px)"></i><i style="top:59px;height:3px;background:linear-gradient(90deg,#00c1ff 0.5px,#00efff 80.5px,#00f7ff 109.5px,#00fcff 188.5px,#00f0ff 238.5px,#00e3ff 262.5px,#00e9ff 264.5px,#00feff 266.5px,#00fff4 268.5px,#00ffef 283.5px,#00ffc8 308.5px,#00ffc5 328.5px)"></i><i style="top:62px;height:2px;background:linear-gradient(90deg,#00c2ff 0.5px,#00efff 78.5px,#00fbff 120.5px,#00fcff 192.5px,#00e6ff 260.5px,#00f5ff 263.5px,#00fffd 264.5px,#00fff3 266.5px,#00ffed 284.5px,#00ffc8 308.5px,#00ffc5 328.5px)"></i><i style="top:64px;height:3px;background:linear-gradient(90deg,#00c3ff 0.5px,#00efff 75.5px,#00fbff 118.5px,#00feff 187.5px,#00e9ff 258.5px,#00f8ff 261.5px,#00fff3 264.5px,#00ffed 284.5px,#00ffc7 309.5px,#00ffc5 328.5px)"></i><i style="top:67px;height:2px;background:linear-gradient(90deg,#00c3ff 0.5px,#00f0ff 73.5px,#00fdff 118.5px,#00ffff 191.5px,#00ecff 256.5px,#00faff 259.5px,#00fff3 262.5px,#00ffef 283.5px,#00ffc7 309.5px,#00ffc5 328.5px)"></i><i style="top:69px;height:3px;background:linear-gradient(90deg,#00c4ff 0.5px,#00efff 70.5px,#00feff 119.5px,#00ffff 198.5px,#00efff 254.5px,#00faff 257.5px,#00fff3 260.5px,#00ffef 283.5px,#00ffc7 309.5px,#00ffc5 328.5px)"></i><i style="top:72px;height:2px;background:linear-gradient(90deg,#00c5ff 0.5px,#00f0ff 68.5px,#00ffff 118.5px,#00fff9 159.5px,#00ffff 202.5px,#00f1ff 252.5px,#00fbff 255.5px,#00fff3 258.5px,#00ffef 283.5px,#00ffc7 309.5px,#00ffc5 328.5px)"></i><i style="top:74px;height:3px;background:linear-gradient(90deg,#00c6ff 0.5px,#00efff 65.5px,#00ffff 113.5px,#00fff8 155.5px,#00ffff 196.5px,#00f2ff 250.5px,#00fcff 253.5px,#00fff3 256.5px,#00fff0 282.5px,#00ffc7 309.5px,#00ffc5 328.5px)"></i><i style="top:77px;height:2px;background:linear-gradient(90deg,#00c6ff 0.5px,#00f0ff 63.5px,#00ffff 109.5px,#00fff7 151.5px,#00ffff 179.5px,#00f4ff 248.5px,#00fcff 251.5px,#00fff3 254.5px,#00fff0 282.5px,#00ffc7 309.5px,#00ffc5 328.5px)"></i><i style="top:79px;height:3px;background:linear-gradient(90deg,#00c7ff 0.5px,#00f0ff 61.5px,#00ffff 105.5px,#00fff6 145.5px,#00ffff 168.5px,#00e8ff 195.5px,#00e9ff 207.5px,#00faff 226.5px,#00f6ff 246.5px,#00feff 249.5px,#00fff3 253.5px,#00fff0 282.5px,#00ffc6 310.5px,#00ffc5 328.5px)"></i><i style="top:82px;height:3px;background:linear-gradient(90deg,#00c8ff 0.5px,#00efff 58.5px,#00faff 87.5px,#00fff4 142.5px,#00fffe 159.5px,#00cbff 192.5px,#00c6ff 206.5px,#00f6ff 227.5px,#00feff 245.5px,#00fff3 250.5px,#00fff1 281.5px,#00ffc6 310.5px,#00ffc5 328.5px)"></i><i style="top:85px;height:2px;background:linear-gradient(90deg,#00c8ff 0.5px,#00f0ff 57.5px,#00fcff 90.5px,#00fff3 142.5px,#00ffff 158.5px,#00b5ff 192.5px,#00a5ff 207.5px,#00b4ff 215.5px,#00eaff 227.5px,#00fffe 235.5px,#00fff3 244.5px,#00fff1 280.5px,#00ffc8 308.5px,#00ffc5 328.5px)"></i><i style="top:87px;height:3px;background:linear-gradient(90deg,#00c9ff 0.5px,#00f0ff 55.5px,#00ffff 94.5px,#00ffef 142.5px,#00ffff 158.5px,#00c6ff 185.5px,#00aeff 193.5px,#008eff 211.5px,#009bff 218.5px,#00e5ff 230.5px,#00feff 237.5px,#00fff3 247.5px,#00fff2 280.5px,#00ffc8 308.5px,#00ffc5 328.5px)"></i><i style="top:90px;height:2px;background:linear-gradient(90deg,#00caff 0.5px,#00f0ff 53.5px,#00ffff 92.5px,#00ffea 142.5px,#00ffff 160.5px,#00d6ff 185.5px,#00aeff 200.5px,#008bff 210.5px,#0081ff 217.5px,#008fff 222.5px,#00e4ff 233.5px,#00ffff 240.5px,#00fff4 249.5px,#00fff2 280.5px,#00ffc9 308.5px,#00ffc6 328.5px)"></i><i style="top:92px;height:3px;background:linear-gradient(90deg,#00caff 0.5px,#00f0ff 52.5px,#00ffff 89.5px,#00ffe5 143.5px,#00ffff 172.5px,#00eeff 186.5px,#00cfff 199.5px,#0085ff 217.5px,#007cff 221.5px,#008cff 226.5px,#00e1ff 235.5px,#00f3ff 238.5px,#00ffff 242.5px,#00fff5 251.5px,#00fff3 280.5px,#00ffca 308.5px,#00ffc7 328.5px)"></i><i style="top:95px;height:2px;background:linear-gradient(90deg,#00cbff 0.5px,#00f0ff 50.5px,#00ffff 87.5px,#00ffe0 144.5px,#00ffec 172.5px,#00ffff 191.5px,#00eeff 200.5px,#00d5ff 207.5px,#00b9ff 213.5px,#0086ff 221.5px,#0079ff 225.5px,#008aff 229.5px,#00e8ff 238.5px,#00ffff 244.5px,#00fff6 253.5px,#00fff4 280.5px,#00ffcb 308.5px,#00ffc8 328.5px)"></i><i style="top:97px;height:3px;background:linear-gradient(90deg,#00cbff 0.5px,#00efff 48.5px,#00ffff 85.5px,#00fff2 114.5px,#00ffdd 140.5px,#00ffdb 156.5px,#00ffe5 185.5px,#00ffff 203.5px,#00d9ff 214.5px,#008aff 224.5px,#007bff 228.5px,#0089ff 231.5px,#00e5ff 239.5px,#00f6ff 242.5px,#00ffff 246.5px,#00fff7 255.5px,#00fff5 280.5px,#00ffcc 308.5px,#00ffc9 328.5px)"></i><i style="top:100px;height:2px;background:linear-gradient(90deg,#00ccff 0.5px,#00f0ff 47.5px,#00ffff 83.5px,#00ffd1 159.5px,#00ffdf 189.5px,#00fffd 210.5px,#00e6ff 217.5px,#00d0ff 220.5px,#0089ff 227.5px,#007dff 230.5px,#008eff 233.5px,#00e3ff 240.5px,#00f6ff 243.5px,#00fcff 246.5px,#00fff6 280.5px,#00ffcd 308.5px,#00ffc9 328.5px)"></i><i style="top:102px;height:3px;background:linear-gradient(90deg,#00cdff 0.5px,#00f0ff 46.5px,#00ffff 81.5px,#00fff3 107.5px,#00ffd1 142.5px,#00ffc9 161.5px,#00ffdd 194.5px,#00fffd 215.5px,#00f7ff 218.5px,#00e4ff 221.5px,#0096ff 228.5px,#0083ff 231.5px,#008fff 234.5px,#00dbff 240.5px,#00edff 242.5px,#00fcff 247.5px,#00fff7 280.5px,#00ffcd 308.5px,#00ffca 328.5px)"></i><i style="top:105px;height:3px;background:linear-gradient(90deg,#00cdff 0.5px,#00efff 44.5px,#00ffff 79.5px,#00fff3 104.5px,#00ffca 141.5px,#00ffc1 161.5px,#00ffcd 184.5px,#00ffea 210.5px,#00fffc 219.5px,#00ecff 223.5px,#0099ff 230.5px,#008bff 233.5px,#00a0ff 236.5px,#00e8ff 242.5px,#00fcff 247.5px,#00fff7 280.5px,#00ffce 308.5px,#00ffcb 328.5px)"></i><i style="top:108px;height:2px;background:linear-gradient(90deg,#00ceff 0.5px,#00f0ff 43.5px,#00ffff 77.5px,#00fff3 102.5px,#00ffc4 140.5px,#00ffba 161.5px,#00ffc9 186.5px,#00ffed 215.5px,#00ffff 222.5px,#00eaff 225.5px,#00a4ff 231.5px,#0099ff 234.5px,#00a4ff 236.5px,#00e8ff 242.5px,#00fcff 247.5px,#00fff7 280.5px,#00ffce 308.5px,#00ffcb 328.5px)"></i><i style="top:110px;height:3px;background:linear-gradient(90deg,#00ceff 0.5px,#00f0ff 42.5px,#00ffff 76.5px,#00fff2 100.5px,#00ffbf 139.5px,#00ffb3 161.5px,#00ffc2 186.5px,#00ffeb 216.5px,#00fffc 223.5px,#00efff 226.5px,#00abff 233.5px,#00a3ff 235.5px,#00aeff 237.5px,#00f1ff 243.5px,#00fdff 247.5px,#00fff7 280.5px,#00ffce 308.5px,#00ffcb 328.5px)"></i><i style="top:113px;height:2px;background:linear-gradient(90deg,#00cfff 0.5px,#00f0ff 42.5px,#00ffff 74.5px,#00fff4 96.5px,#00ffb9 139.5px,#00ffab 161.5px,#00ffbf 188.5px,#00ffec 219.5px,#00fffe 225.5px,#00deff 230.5px,#00b0ff 234.5px,#00a8ff 236.5px,#00b2ff 238.5px,#00ebff 243.5px,#00fdff 247.5px,#00fff7 280.5px,#00ffce 308.5px,#00ffcb 328.5px)"></i><i style="top:115px;height:3px;background:linear-gradient(90deg,#00cfff 0.5px,#00f0ff 41.5px,#00ffff 73.5px,#00fff3 95.5px,#00ffb5 137.5px,#00ffa2 161.5px,#00ffba 189.5px,#00ffea 220.5px,#00fffe 227.5px,#00efff 230.5px,#00b3ff 235.5px,#00abff 237.5px,#00b4ff 239.5px,#00f2ff 245.5px,#00fdff 249.5px,#00fff7 280.5px,#00ffce 308.5px,#00ffcb 328.5px)"></i><i style="top:118px;height:2px;background:linear-gradient(90deg,#00cfff 0.5px,#00f0ff 40.5px,#00ffff 71.5px,#00fff4 93.5px,#00ffa6 143.5px,#00ff99 159.5px,#00ffa6 179.5px,#00ffeb 222.5px,#00fffe 229.5px,#00f1ff 231.5px,#00b7ff 236.5px,#00aeff 238.5px,#00b5ff 240.5px,#00f0ff 246.5px,#00fdff 250.5px,#00fff7 280.5px,#00ffce 308.5px,#00ffcb 328.5px)"></i><i style="top:120px;height:3px;background:linear-gradient(90deg,#00d0ff 0.5px,#00f0ff 39.5px,#00ffff 70.5px,#00fff3 92.5px,#00ff9d 143.5px,#00ff8e 160.5px,#00ff9e 180.5px,#00ffed 225.5px,#00fbff 231.5px,#00bcff 237.5px,#00b0ff 240.5px,#00bbff 242.5px,#00edff 247.5px,#00fcff 251.5px,#00fff7 280.5px,#00ffce 308.5px,#00ffcb 328.5px)"></i><i style="top:123px;height:3px;background:linear-gradient(90deg,#00d0ff 0.5px,#00f0ff 38.5px,#00ffff 69.5px,#00fff3 90.5px,#00ffd6 109.5px,#00ff8a 148.5px,#00ff7d 161.5px,#00ff8c 176.5px,#00ffed 227.5px,#00fffe 232.5px,#00f9ff 233.5px,#00b9ff 239.5px,#00afff 241.5px,#00b5ff 243.5px,#00eeff 249.5px,#00fdff 253.5px,#00fff7 280.5px,#00ffce 308.5px,#00ffcb 328.5px)"></i><i style="top:126px;height:2px;background:linear-gradient(90deg,#00d1ff 0.5px,#00f0ff 37.5px,#00ffff 68.5px,#00fff3 89.5px,#00ffd4 108.5px,#00ff7b 149.5px,#00ff6f 161.5px,#00ff7c 175.5px,#00ffaf 196.5px,#00ffee 229.5px,#00fcff 234.5px,#00bbff 240.5px,#00aeff 243.5px,#00b8ff 245.5px,#00f1ff 251.5px,#00fdff 255.5px,#00fff6 282.5px,#00ffcc 310.5px,#00ffcb 328.5px)"></i><i style="top:128px;height:3px;background:linear-gradient(90deg,#00d1ff 0.5px,#00f0ff 37.5px,#00ffff 67.5px,#00fff3 88.5px,#00ffd5 106.5px,#00ff70 148.5px,#00ff5c 161.5px,#00ff6a 173.5px,#00ffae 198.5px,#00ffee 230.5px,#00feff 235.5px,#00b5ff 242.5px,#00adff 244.5px,#00b4ff 246.5px,#00eeff 252.5px,#00fcff 256.5px,#00fff6 282.5px,#00ffcc 310.5px,#00ffcb 328.5px)"></i><i style="top:131px;height:2px;background:linear-gradient(90deg,#00d1ff 0.5px,#00f0ff 36.5px,#00ffff 66.5px,#00fff3 87.5px,#00ffb0 121.5px,#00ff4f 153.5px,#00ff42 162.5px,#00ff4f 171.5px,#00ffad 200.5px,#00ffed 231.5px,#00fffe 236.5px,#00faff 237.5px,#00b8ff 243.5px,#00acff 246.5px,#00b7ff 248.5px,#00f0ff 254.5px,#00fcff 258.5px,#00fff6 282.5px,#00ffcc 310.5px,#00ffcb 328.5px)"></i><i style="top:133px;height:3px;background:linear-gradient(90deg,#00d2ff 0.5px,#00f1ff 36.5px,#00ffff 65.5px,#00fff2 87.5px,#00ffae 120.5px,#00ff8b 132.5px,#00ff3e 151.5px,#00ff30 161.5px,#00ff3b 172.5px,#00ff8a 191.5px,#00ffaa 201.5px,#00fcff 238.5px,#00b3ff 245.5px,#00aaff 247.5px,#00b1ff 249.5px,#00ecff 255.5px,#00fbff 259.5px,#00fff6 282.5px,#00ffcd 309.5px,#00ffcb 328.5px)"></i><i style="top:136px;height:2px;background:linear-gradient(90deg,#00d2ff 0.5px,#00f0ff 35.5px,#00ffff 64.5px,#00fff2 86.5px,#00ffd5 102.5px,#00ffaf 118.5px,#00ff89 130.5px,#00ff36 148.5px,#00ff25 161.5px,#00ff32 175.5px,#00ff89 193.5px,#00ffab 203.5px,#00ffff 239.5px,#00e5ff 242.5px,#00b5ff 246.5px,#00a8ff 249.5px,#00b3ff 251.5px,#00efff 257.5px,#00fbff 261.5px,#00fff5 283.5px,#00ffcd 309.5px,#00ffcb 328.5px)"></i><i style="top:138px;height:3px;background:linear-gradient(90deg,#00d2ff 0.5px,#00f1ff 35.5px,#00ffff 64.5px,#00fff2 85.5px,#00ffd5 101.5px,#00ff94 125.5px,#00ff6b 135.5px,#00ff2f 146.5px,#00ff1b 162.5px,#00ff1f 170.5px,#00ff2e 178.5px,#00ff89 195.5px,#00ffaa 204.5px,#00fbff 241.5px,#00afff 248.5px,#00a5ff 250.5px,#00adff 252.5px,#00ebff 258.5px,#00fcff 263.5px,#00fff5 283.5px,#00ffcd 309.5px,#00ffcb 328.5px)"></i><i style="top:141px;height:3px;background:linear-gradient(90deg,#00d3ff 0.5px,#00f0ff 34.5px,#00ffff 63.5px,#00fff2 84.5px,#00ffd5 100.5px,#00ff92 124.5px,#00ff69 133.5px,#00ff39 140.5px,#00ff2d 143.5px,#00ff17 153.5px,#00ff0e 162.5px,#00ff15 171.5px,#00ff2b 181.5px,#00ff37 184.5px,#00ff64 190.5px,#00ff84 196.5px,#00ffab 206.5px,#00ffff 242.5px,#00e6ff 245.5px,#00abff 250.5px,#00a4ff 252.5px,#00adff 254.5px,#00ebff 260.5px,#00fdff 266.5px,#00fff4 284.5px,#00ffcd 309.5px,#00ffcb 328.5px)"></i><i style="top:144px;height:2px;background:linear-gradient(90deg,#00d3ff 0.5px,#00f1ff 34.5px,#00ffff 63.5px,#00fff1 84.5px,#00ffd5 99.5px,#00ffac 115.5px,#00ff8d 124.5px,#00ff6b 131.5px,#00ff2f 140.5px,#00ff10 152.5px,#00ff03 162.5px,#00ff0b 171.5px,#00ff2d 184.5px,#00ff72 194.5px,#00ff91 200.5px,#00ffae 208.5px,#00ffd5 223.5px,#00fcff 244.5px,#00ebff 246.5px,#00adff 251.5px,#00a1ff 253.5px,#00afff 256.5px,#00eeff 262.5px,#00ffff 268.5px,#00fff4 284.5px,#00ffcd 309.5px,#00ffcb 328.5px)"></i><i style="top:146px;height:3px;background:linear-gradient(90deg,#00d3ff 0.5px,#00f0ff 33.5px,#00ffff 62.5px,#00fff2 83.5px,#00ffd6 98.5px,#00ffac 114.5px,#00ff90 122.5px,#00ff6e 129.5px,#00ff2f 138.5px,#01ff00 155.5px,#0aff00 163.5px,#00ff00 171.5px,#00ff07 174.5px,#00ff32 187.5px,#00ff70 195.5px,#00ff91 201.5px,#00ffab 208.5px,#00ffd6 224.5px,#00feff 245.5px,#00e4ff 248.5px,#00a7ff 253.5px,#009fff 255.5px,#00a8ff 257.5px,#00e9ff 263.5px,#00ffff 269.5px,#00fff4 284.5px,#00ffcd 309.5px,#00ffcb 328.5px)"></i><i style="top:149px;height:2px;background:linear-gradient(90deg,#00d4ff 0.5px,#00f0ff 33.5px,#00ffff 62.5px,#00fff1 83.5px,#00ffd5 98.5px,#00ff94 120.5px,#00ff68 129.5px,#00ff31 136.5px,#00ff00 151.5px,#1bff00 163.5px,#17ff00 167.5px,#00ff01 175.5px,#00ff2f 188.5px,#00ff70 196.5px,#00ff91 202.5px,#00ffac 209.5px,#00ffd7 225.5px,#00fffe 246.5px,#00e9ff 249.5px,#00a9ff 254.5px,#009dff 256.5px,#00abff 259.5px,#00edff 265.5px,#00feff 269.5px,#00fff4 284.5px,#00ffcd 309.5px,#00ffcb 328.5px)"></i><i style="top:151px;height:3px;background:linear-gradient(90deg,#00d4ff 0.5px,#00f0ff 33.5px,#00ffff 62.5px,#00fff0 83.5px,#00ffd3 98.5px,#00ff91 120.5px,#00ff68 128.5px,#00ff31 135.5px,#01ff00 149.5px,#26ff00 158.5px,#30ff00 163.5px,#28ff00 168.5px,#01ff00 177.5px,#00ff2f 189.5px,#00ff70 197.5px,#00ff8d 202.5px,#00ffad 210.5px,#00ffd6 225.5px,#00fcff 248.5px,#00e2ff 251.5px,#00a3ff 256.5px,#009bff 258.5px,#00a5ff 260.5px,#00ebff 266.5px,#00feff 270.5px,#00fff2 285.5px,#00ffce 308.5px,#00ffcb 328.5px)"></i><i style="top:154px;height:2px;background:linear-gradient(90deg,#00d4ff 0.5px,#00f1ff 33.5px,#00ffff 61.5px,#00fff0 83.5px,#00ffd2 98.5px,#00ff93 119.5px,#00ff6a 127.5px,#00ff31 134.5px,#00ff00 147.5px,#44ff00 160.5px,#4dff00 163.5px,#43ff00 167.5px,#00ff01 179.5px,#00ff2f 190.5px,#00ff6c 197.5px,#00ff8f 203.5px,#00ffab 210.5px,#00ffd7 226.5px,#00feff 249.5px,#00e7ff 252.5px,#00a5ff 257.5px,#0099ff 259.5px,#00a0ff 261.5px,#00eaff 267.5px,#00ffff 271.5px,#00fff2 285.5px,#00ffce 308.5px,#00ffcb 328.5px)"></i><i style="top:156px;height:3px;background:linear-gradient(90deg,#00d4ff 0.5px,#00f1ff 33.5px,#00ffff 61.5px,#00fff1 82.5px,#00ffd4 97.5px,#00ff91 119.5px,#00ff67 127.5px,#00ff33 133.5px,#00ff00 146.5px,#2fff00 154.5px,#68ff00 161.5px,#71ff00 164.5px,#63ff00 167.5px,#2dff00 173.5px,#00ff00 180.5px,#00ff31 191.5px,#00ff6f 198.5px,#00ff8d 203.5px,#00ffaa 210.5px,#00ffd7 226.5px,#00ffff 250.5px,#00e9ff 253.5px,#00a5ff 258.5px,#0097ff 260.5px,#009eff 262.5px,#00ebff 268.5px,#00fffe 272.5px,#00fff2 285.5px,#00ffce 308.5px,#00ffcb 328.5px)"></i><i style="top:159px;height:2px;background:linear-gradient(90deg,#00d4ff 0.5px,#00f0ff 32.5px,#00ffff 61.5px,#00fff1 82.5px,#00ffd4 97.5px,#00ff94 118.5px,#00ff64 127.5px,#00ff31 133.5px,#04ff00 146.5px,#31ff00 153.5px,#89ff00 161.5px,#98ff00 164.5px,#83ff00 167.5px,#2eff00 174.5px,#0eff00 178.5px,#00ff02 181.5px,#00ff2f 191.5px,#00ff6d 198.5px,#00ff91 204.5px,#00ffa9 210.5px,#00ffd6 226.5px,#00fff2 241.5px,#00faff 252.5px,#00deff 255.5px,#00a2ff 259.5px,#0094ff 261.5px,#009dff 263.5px,#00eeff 269.5px,#00ffff 272.5px,#00fff2 285.5px,#00ffce 308.5px,#00ffcb 328.5px)"></i><i style="top:161px;height:3px;background:linear-gradient(90deg,#00d4ff 0.5px,#00f0ff 32.5px,#00ffff 61.5px,#00fff1 82.5px,#00ffd4 97.5px,#00ff94 118.5px,#00ff6a 126.5px,#00ff30 133.5px,#00ff00 145.5px,#35ff00 153.5px,#9eff00 161.5px,#adff00 164.5px,#99ff00 167.5px,#33ff00 174.5px,#11ff00 178.5px,#00ff00 181.5px,#00ff33 192.5px,#00ff6c 198.5px,#00ff90 204.5px,#00ffa5 209.5px,#00ffd6 226.5px,#00fff2 241.5px,#00feff 252.5px,#00e4ff 255.5px,#009bff 260.5px,#0093ff 262.5px,#00a2ff 264.5px,#00eaff 269.5px,#00feff 272.5px,#00fff1 286.5px,#00ffce 308.5px,#00ffcb 328.5px)"></i><i style="top:164px;height:3px;background:linear-gradient(90deg,#00d4ff 0.5px,#00f0ff 32.5px,#00ffff 61.5px,#00fff1 82.5px,#00ffd4 97.5px,#00ff94 118.5px,#00ff6a 126.5px,#00ff30 133.5px,#00ff00 145.5px,#34ff00 153.5px,#98ff00 161.5px,#a7ff00 164.5px,#92ff00 167.5px,#32ff00 174.5px,#10ff00 178.5px,#00ff01 181.5px,#00ff34 192.5px,#00ff6c 198.5px,#00ff90 204.5px,#00ffa9 210.5px,#00ffd6 226.5px,#00fff2 241.5px,#00fdff 252.5px,#00e2ff 255.5px,#009aff 260.5px,#0094ff 262.5px,#00a4ff 264.5px,#00ebff 269.5px,#00ffff 272.5px,#00fff1 286.5px,#00ffce 308.5px,#00ffcb 328.5px)"></i><i style="top:167px;height:2px;background:linear-gradient(90deg,#00d4ff 0.5px,#00f1ff 33.5px,#00ffff 61.5px,#00fff1 82.5px,#00ffd4 97.5px,#00ff94 118.5px,#00ff65 127.5px,#00ff32 133.5px,#03ff00 146.5px,#36ff00 154.5px,#7cff00 161.5px,#88ff00 164.5px,#77ff00 167.5px,#2bff00 174.5px,#0dff00 178.5px,#00ff03 181.5px,#00ff2f 191.5px,#00ff6e 198.5px,#00ff91 204.5px,#00ffad 211.5px,#00ffd8 227.5px,#00feff 251.5px,#00e6ff 254.5px,#009fff 259.5px,#0095ff 261.5px,#00a1ff 263.5px,#00e6ff 268.5px,#00fffe 272.5px,#00fff2 285.5px,#00ffce 308.5px,#00ffcb 328.5px)"></i><i style="top:169px;height:3px;background:linear-gradient(90deg,#00d4ff 0.5px,#00f1ff 33.5px,#00ffff 61.5px,#00fff1 82.5px,#00ffd4 97.5px,#00ff92 119.5px,#00ff68 127.5px,#00ff34 133.5px,#03ff00 147.5px,#17ff00 151.5px,#56ff00 160.5px,#62ff00 164.5px,#56ff00 167.5px,#13ff00 176.5px,#00ff02 180.5px,#00ff32 191.5px,#00ff70 198.5px,#00ff8e 203.5px,#00ffab 210.5px,#00ffd7 226.5px,#00fdff 250.5px,#00e4ff 253.5px,#00a1ff 258.5px,#0097ff 260.5px,#00a2ff 262.5px,#00eeff 268.5px,#00feff 271.5px,#00fff2 285.5px,#00ffce 308.5px,#00ffcb 328.5px)"></i><i style="top:172px;height:2px;background:linear-gradient(90deg,#00d4ff 0.5px,#00f1ff 33.5px,#00ffff 61.5px,#00fff0 83.5px,#00ffd3 98.5px,#00ff94 119.5px,#00ff65 128.5px,#00ff33 134.5px,#02ff00 148.5px,#35ff00 159.5px,#3fff00 163.5px,#38ff00 167.5px,#01ff00 178.5px,#00ff31 190.5px,#00ff6e 197.5px,#00ff90 203.5px,#00ffac 210.5px,#00ffd7 226.5px,#00fbff 249.5px,#00e1ff 252.5px,#00a0ff 257.5px,#0099ff 259.5px,#00a5ff 261.5px,#00edff 267.5px,#00fffe 271.5px,#00fff2 285.5px,#00ffce 308.5px,#00ffcb 328.5px)"></i><i style="top:174px;height:3px;background:linear-gradient(90deg,#00d4ff 0.5px,#00f0ff 33.5px,#00ffff 62.5px,#00fff1 83.5px,#00ffd4 98.5px,#00ff92 120.5px,#00ff6a 128.5px,#00ff33 135.5px,#02ff00 150.5px,#1fff00 158.5px,#28ff00 163.5px,#20ff00 168.5px,#00ff03 177.5px,#00ff31 189.5px,#00ff6c 196.5px,#00ff8f 202.5px,#00ffab 209.5px,#00ffd6 225.5px,#00ffff 247.5px,#00e8ff 250.5px,#00a8ff 255.5px,#009cff 257.5px,#00aaff 260.5px,#00eeff 266.5px,#00ffff 270.5px,#00fff2 285.5px,#00ffce 308.5px,#00ffcb 328.5px)"></i><i style="top:177px;height:2px;background:linear-gradient(90deg,#00d3ff 0.5px,#00f0ff 33.5px,#00ffff 62.5px,#00fff1 83.5px,#00ffd5 98.5px,#00ffaa 114.5px,#00ff8e 122.5px,#00ff6a 129.5px,#00ff2f 137.5px,#02ff00 153.5px,#14ff00 163.5px,#00ff01 174.5px,#00ff32 188.5px,#00ff6c 195.5px,#00ff8e 201.5px,#00ffad 209.5px,#00ffd5 224.5px,#00fdff 246.5px,#00e3ff 249.5px,#00a5ff 254.5px,#009dff 256.5px,#00a7ff 258.5px,#00eaff 264.5px,#00ffff 269.5px,#00fff4 284.5px,#00ffcd 309.5px,#00ffcb 328.5px)"></i><i style="top:179px;height:3px;background:linear-gradient(90deg,#00d3ff 0.5px,#00f1ff 34.5px,#00ffff 62.5px,#00fff1 84.5px,#00ffd7 98.5px,#00ffaa 115.5px,#00ff8e 123.5px,#00ff6c 130.5px,#00ff32 138.5px,#00ff00 157.5px,#05ff00 163.5px,#00ff00 169.5px,#00ff19 179.5px,#00ff30 186.5px,#00ff6e 194.5px,#00ff8e 200.5px,#00ffac 208.5px,#00ffd7 224.5px,#00fbff 245.5px,#00eaff 247.5px,#00acff 252.5px,#00a0ff 254.5px,#00adff 257.5px,#00edff 263.5px,#00feff 268.5px,#00fff4 284.5px,#00ffcd 309.5px,#00ffcb 328.5px)"></i><i style="top:182px;height:2px;background:linear-gradient(90deg,#00d3ff 0.5px,#00f0ff 34.5px,#00ffff 63.5px,#00fff2 84.5px,#00ffd6 99.5px,#00ffad 115.5px,#00ff8f 124.5px,#00ff6e 131.5px,#00ff2e 141.5px,#00ff13 152.5px,#00ff08 162.5px,#00ff11 172.5px,#00ff30 184.5px,#00ff70 193.5px,#00ff8f 199.5px,#00ffac 207.5px,#00ffff 243.5px,#00e5ff 246.5px,#00a9ff 251.5px,#00a2ff 253.5px,#00abff 255.5px,#00ebff 261.5px,#00feff 267.5px,#00fff4 284.5px,#00ffcd 309.5px,#00ffcb 328.5px)"></i><i style="top:184px;height:3px;background:linear-gradient(90deg,#00d3ff 0.5px,#00f0ff 34.5px,#00ffff 63.5px,#00fff1 85.5px,#00ffd3 101.5px,#00ff94 124.5px,#00ff68 134.5px,#00ff39 141.5px,#00ff2d 144.5px,#00ff19 154.5px,#00ff12 162.5px,#00ff19 171.5px,#00ff2c 180.5px,#00ff37 183.5px,#00ff6f 191.5px,#00ffaa 205.5px,#00fcff 242.5px,#00ebff 244.5px,#00afff 249.5px,#00a4ff 251.5px,#00b2ff 254.5px,#00efff 260.5px,#00fdff 265.5px,#00fff5 283.5px,#00ffcd 309.5px,#00ffcb 328.5px)"></i><i style="top:187px;height:3px;background:linear-gradient(90deg,#00d2ff 0.5px,#00f0ff 35.5px,#00ffff 64.5px,#00fff2 85.5px,#00ffd4 102.5px,#00ff93 126.5px,#00ff6b 136.5px,#00ff31 147.5px,#00ff1f 162.5px,#00ff30 177.5px,#00ff71 189.5px,#00ffa8 203.5px,#00feff 240.5px,#00e4ff 243.5px,#00b3ff 247.5px,#00a6ff 250.5px,#00b2ff 252.5px,#00efff 258.5px,#00fbff 262.5px,#00fff5 283.5px,#00ffcd 309.5px,#00ffcb 328.5px)"></i><i style="top:190px;height:2px;background:linear-gradient(90deg,#00d2ff 0.5px,#00f0ff 35.5px,#00ffff 65.5px,#00fff2 86.5px,#00ffd6 102.5px,#00ffae 119.5px,#00ff89 131.5px,#00ff39 149.5px,#00ff29 161.5px,#00ff35 174.5px,#00ff89 192.5px,#00ffaa 202.5px,#00fcff 239.5px,#00b1ff 246.5px,#00a8ff 248.5px,#00afff 250.5px,#00ecff 256.5px,#00fbff 260.5px,#00fff6 282.5px,#00ffcd 309.5px,#00ffcb 328.5px)"></i><i style="top:192px;height:3px;background:linear-gradient(90deg,#00d2ff 0.5px,#00f0ff 36.5px,#00ffff 66.5px,#00fff2 87.5px,#00ffad 121.5px,#00ff8e 132.5px,#00ff44 152.5px,#00ff36 162.5px,#00ff43 172.5px,#00ff8e 191.5px,#00ffad 201.5px,#00ffee 232.5px,#00ffff 237.5px,#00f0ff 239.5px,#00b7ff 244.5px,#00abff 247.5px,#00b6ff 249.5px,#00f0ff 255.5px,#00fcff 259.5px,#00fff6 282.5px,#00ffcd 309.5px,#00ffcb 328.5px)"></i><i style="top:195px;height:2px;background:linear-gradient(90deg,#00d1ff 0.5px,#00f0ff 36.5px,#00ffff 66.5px,#00fff2 88.5px,#00ffaf 122.5px,#00ff59 153.5px,#00ff4d 162.5px,#00ff56 170.5px,#00ffad 199.5px,#00ffee 231.5px,#00fdff 236.5px,#00b4ff 243.5px,#00acff 245.5px,#00b3ff 247.5px,#00eeff 253.5px,#00fcff 257.5px,#00fff6 282.5px,#00ffcc 310.5px,#00ffcb 328.5px)"></i><i style="top:197px;height:3px;background:linear-gradient(90deg,#00d1ff 0.5px,#00f0ff 37.5px,#00ffff 67.5px,#00fff2 89.5px,#00ffd4 107.5px,#00ff73 149.5px,#00ff64 161.5px,#00ff74 175.5px,#00ffad 197.5px,#00ffed 229.5px,#00faff 235.5px,#00b9ff 241.5px,#00adff 244.5px,#00b8ff 246.5px,#00f1ff 252.5px,#00fcff 256.5px,#00fff6 282.5px,#00ffcc 310.5px,#00ffcb 328.5px)"></i><i style="top:200px;height:2px;background:linear-gradient(90deg,#00d0ff 0.5px,#00f0ff 38.5px,#00ffff 68.5px,#00fff3 90.5px,#00ffd6 108.5px,#00ff81 149.5px,#00ff75 161.5px,#00ff82 175.5px,#00ffed 228.5px,#00feff 233.5px,#00b7ff 240.5px,#00aeff 242.5px,#00b5ff 244.5px,#00efff 250.5px,#00fcff 254.5px,#00fff6 282.5px,#00ffcc 310.5px,#00ffcb 328.5px)"></i><i style="top:202px;height:3px;background:linear-gradient(90deg,#00d0ff 0.5px,#00f1ff 39.5px,#00ffff 69.5px,#00fff3 91.5px,#00ff98 142.5px,#00ff83 160.5px,#00ff87 169.5px,#00ff99 181.5px,#00ffec 226.5px,#00fcff 232.5px,#00bdff 238.5px,#00b0ff 241.5px,#00baff 243.5px,#00f2ff 249.5px,#00fdff 253.5px,#00fff7 280.5px,#00ffce 308.5px,#00ffcb 328.5px)"></i><i style="top:205px;height:3px;background:linear-gradient(90deg,#00d0ff 0.5px,#00f1ff 40.5px,#00ffff 71.5px,#00fff4 92.5px,#00ffa1 143.5px,#00ff93 160.5px,#00ffa2 180.5px,#00ffec 224.5px,#00ffff 230.5px,#00b7ff 237.5px,#00afff 239.5px,#00b8ff 241.5px,#00f1ff 247.5px,#00fdff 251.5px,#00fff7 280.5px,#00ffce 308.5px,#00ffcb 328.5px)"></i><i style="top:208px;height:2px;background:linear-gradient(90deg,#00cfff 0.5px,#00f1ff 41.5px,#00ffff 72.5px,#00fff3 94.5px,#00ffb4 135.5px,#00ff9c 159.5px,#00ffa1 172.5px,#00ffb5 188.5px,#00ffea 221.5px,#00fffb 228.5px,#00f6ff 230.5px,#00b3ff 236.5px,#00adff 238.5px,#00b9ff 240.5px,#00edff 245.5px,#00fdff 249.5px,#00fff7 280.5px,#00ffce 308.5px,#00ffcb 328.5px)"></i><i style="top:210px;height:3px;background:linear-gradient(90deg,#00cfff 0.5px,#00f0ff 41.5px,#00ffff 73.5px,#00fff4 95.5px,#00ffb6 138.5px,#00ffa6 161.5px,#00ffbb 188.5px,#00ffec 220.5px,#00fffd 226.5px,#00eaff 230.5px,#00b8ff 234.5px,#00abff 236.5px,#00b0ff 238.5px,#00eeff 244.5px,#00fdff 248.5px,#00fff7 280.5px,#00ffce 308.5px,#00ffcb 328.5px)"></i><i style="top:213px;height:2px;background:linear-gradient(90deg,#00ceff 0.5px,#00efff 41.5px,#00ffff 75.5px,#00fff2 99.5px,#00ffbb 139.5px,#00ffaf 161.5px,#00ffc0 187.5px,#00ffec 218.5px,#00fffc 224.5px,#00f0ff 227.5px,#00a7ff 235.5px,#00adff 237.5px,#00efff 243.5px,#00fdff 247.5px,#00fff7 280.5px,#00ffce 308.5px,#00ffcb 328.5px)"></i><i style="top:215px;height:3px;background:linear-gradient(90deg,#00ceff 0.5px,#00efff 42.5px,#00ffff 77.5px,#00fff2 101.5px,#00ffc0 140.5px,#00ffb6 161.5px,#00ffc6 187.5px,#00ffec 216.5px,#00ffff 223.5px,#00e9ff 226.5px,#00b3ff 231.5px,#00a1ff 234.5px,#00a7ff 236.5px,#00f1ff 243.5px,#00fdff 247.5px,#00fff7 280.5px,#00ffce 308.5px,#00ffcb 328.5px)"></i><i style="top:218px;height:2px;background:linear-gradient(90deg,#00cdff 0.5px,#00efff 43.5px,#00ffff 78.5px,#00fff3 103.5px,#00ffc6 141.5px,#00ffbc 161.5px,#00ffca 185.5px,#00ffec 213.5px,#00fffd 221.5px,#00edff 224.5px,#00a6ff 230.5px,#0093ff 233.5px,#00a3ff 236.5px,#00e8ff 242.5px,#00fcff 247.5px,#00fff7 280.5px,#00ffce 308.5px,#00ffcb 328.5px)"></i><i style="top:220px;height:3px;background:linear-gradient(90deg,#00cdff 0.5px,#00f0ff 45.5px,#00ffff 80.5px,#00fff3 105.5px,#00ffcb 142.5px,#00ffc3 161.5px,#00ffd0 185.5px,#00ffea 209.5px,#00ffff 219.5px,#00e6ff 223.5px,#009cff 229.5px,#0089ff 232.5px,#0096ff 235.5px,#00eaff 242.5px,#00fcff 247.5px,#00fff7 280.5px,#00ffce 308.5px,#00ffcb 328.5px)"></i><i style="top:223px;height:3px;background:linear-gradient(90deg,#00ccff 0.5px,#00efff 46.5px,#00ffff 82.5px,#00fff3 108.5px,#00ffd3 142.5px,#00ffcc 160.5px,#00ffdd 192.5px,#00fffd 214.5px,#00e5ff 220.5px,#008eff 228.5px,#0081ff 231.5px,#0092ff 234.5px,#00e8ff 241.5px,#00fcff 246.5px,#00fff6 280.5px,#00ffcd 308.5px,#00ffca 328.5px)"></i><i style="top:226px;height:2px;background:linear-gradient(90deg,#00ccff 0.5px,#00f0ff 48.5px,#00ffff 83.5px,#00fff3 112.5px,#00ffda 140.5px,#00ffd4 159.5px,#00ffe1 188.5px,#00ffff 209.5px,#00e0ff 217.5px,#008aff 226.5px,#007cff 229.5px,#0088ff 232.5px,#00e7ff 240.5px,#00fdff 246.5px,#00fff7 256.5px,#00fff6 280.5px,#00ffcc 308.5px,#00ffc9 328.5px)"></i><i style="top:228px;height:3px;background:linear-gradient(90deg,#00cbff 0.5px,#00f0ff 49.5px,#00ffff 85.5px,#00ffdd 146.5px,#00ffe7 182.5px,#00fffe 200.5px,#00d6ff 213.5px,#0084ff 224.5px,#007aff 227.5px,#008eff 231.5px,#00e8ff 239.5px,#00feff 245.5px,#00fff6 254.5px,#00fff5 280.5px,#00ffcb 308.5px,#00ffc8 328.5px)"></i><i style="top:231px;height:2px;background:linear-gradient(90deg,#00cbff 0.5px,#00f0ff 51.5px,#00ffff 88.5px,#00ffe2 143.5px,#00fffe 187.5px,#00dcff 203.5px,#00bbff 211.5px,#0081ff 221.5px,#007aff 224.5px,#0089ff 228.5px,#00e5ff 237.5px,#00feff 243.5px,#00fff5 252.5px,#00fff4 280.5px,#00ffca 308.5px,#00ffc7 328.5px)"></i><i style="top:233px;height:3px;background:linear-gradient(90deg,#00caff 0.5px,#00efff 52.5px,#00ffff 90.5px,#00ffe7 142.5px,#00ffff 166.5px,#00e5ff 187.5px,#00c4ff 200.5px,#0089ff 215.5px,#007dff 220.5px,#008cff 225.5px,#00e6ff 235.5px,#00feff 241.5px,#00fff4 250.5px,#00fff3 280.5px,#00ffc9 308.5px,#00ffc6 328.5px)"></i><i style="top:236px;height:2px;background:linear-gradient(90deg,#00c9ff 0.5px,#00f0ff 54.5px,#00ffff 93.5px,#00ffec 142.5px,#00ffff 159.5px,#00d0ff 185.5px,#008dff 208.5px,#0083ff 215.5px,#0091ff 221.5px,#00e3ff 232.5px,#00ffff 239.5px,#00fff4 248.5px,#00fff2 280.5px,#00ffc9 308.5px,#00ffc5 328.5px)"></i><i style="top:238px;height:3px;background:linear-gradient(90deg,#00c9ff 0.5px,#00efff 55.5px,#00fdff 91.5px,#00fff0 142.5px,#00fffe 157.5px,#00adff 193.5px,#0092ff 210.5px,#009fff 217.5px,#00eaff 230.5px,#00fffe 237.5px,#00fff3 246.5px,#00fff1 280.5px,#00ffc8 308.5px,#00ffc5 328.5px)"></i><i style="top:241px;height:2px;background:linear-gradient(90deg,#00c8ff 0.5px,#00efff 57.5px,#00fbff 87.5px,#00fff4 141.5px,#00fffe 157.5px,#00b6ff 193.5px,#00acff 207.5px,#00b9ff 214.5px,#00ebff 226.5px,#00ffff 234.5px,#00fff3 248.5px,#00fff1 280.5px,#00ffc8 308.5px,#00ffc5 328.5px)"></i><i style="top:243px;height:3px;background:linear-gradient(90deg,#00c8ff 0.5px,#00efff 59.5px,#00ffff 103.5px,#00fff5 142.5px,#00ffff 160.5px,#00d0ff 192.5px,#00cdff 205.5px,#00f7ff 227.5px,#00feff 247.5px,#00fff3 251.5px,#00fff0 282.5px,#00ffc6 310.5px,#00ffc5 328.5px)"></i><i style="top:246px;height:3px;background:linear-gradient(90deg,#00c7ff 0.5px,#00f0ff 62.5px,#00ffff 106.5px,#00fff6 146.5px,#00ffff 169.5px,#00ecff 196.5px,#00faff 225.5px,#00f5ff 247.5px,#00ffff 250.5px,#00fff3 253.5px,#00fff0 282.5px,#00ffc6 310.5px,#00ffc5 328.5px)"></i><i style="top:249px;height:2px;background:linear-gradient(90deg,#00c6ff 0.5px,#00f0ff 64.5px,#00ffff 110.5px,#00fff7 152.5px,#00ffff 182.5px,#00f3ff 249.5px,#00fdff 252.5px,#00fff3 255.5px,#00fff0 282.5px,#00ffc7 309.5px,#00ffc5 328.5px)"></i><i style="top:251px;height:3px;background:linear-gradient(90deg,#00c5ff 0.5px,#00efff 66.5px,#00ffff 115.5px,#00fff9 156.5px,#00ffff 198.5px,#00f2ff 251.5px,#00fdff 254.5px,#00fff3 257.5px,#00fff0 282.5px,#00ffc7 309.5px,#00ffc5 328.5px)"></i><i style="top:254px;height:2px;background:linear-gradient(90deg,#00c5ff 0.5px,#00f0ff 69.5px,#00ffff 120.5px,#00fffa 160.5px,#00ffff 200.5px,#00f0ff 253.5px,#00fdff 256.5px,#00fff3 259.5px,#00ffef 283.5px,#00ffc7 309.5px,#00ffc5 328.5px)"></i><i style="top:256px;height:3px;background:linear-gradient(90deg,#00c4ff 0.5px,#00efff 71.5px,#00fdff 117.5px,#00ffff 195.5px,#00edff 255.5px,#00fcff 258.5px,#00fff3 261.5px,#00ffef 283.5px,#00ffc7 309.5px,#00ffc5 328.5px)"></i><i style="top:259px;height:2px;background:linear-gradient(90deg,#00c3ff 0.5px,#00f0ff 74.5px,#00fcff 116.5px,#00ffff 188.5px,#00ebff 257.5px,#00fbff 260.5px,#00fff3 263.5px,#00ffef 283.5px,#00ffc7 309.5px,#00ffc5 328.5px)"></i><i style="top:261px;height:3px;background:linear-gradient(90deg,#00c2ff 0.5px,#00efff 76.5px,#00fbff 117.5px,#00feff 188.5px,#00e8ff 259.5px,#00f9ff 262.5px,#00fff3 265.5px,#00ffed 284.5px,#00ffc7 309.5px,#00ffc5 328.5px)"></i><i style="top:264px;height:2px;background:linear-gradient(90deg,#00c1ff 0.5px,#00efff 79.5px,#00faff 118.5px,#00fcff 192.5px,#00e5ff 261.5px,#00ebff 263.5px,#00f6ff 264.5px,#00fffc 265.5px,#00fff3 267.5px,#00ffed 284.5px,#00ffc8 308.5px,#00ffc5 328.5px)"></i><i style="top:266px;height:3px;background:linear-gradient(90deg,#00c1ff 0.5px,#00efff 82.5px,#00f9ff 119.5px,#00faff 195.5px,#00f0ff 238.5px,#00e2ff 263.5px,#00f4ff 266.5px,#00ffff 267.5px,#00fff4 269.5px,#00ffef 283.5px,#00ffc8 308.5px,#00ffc5 328.5px)"></i><i style="top:269px;height:3px;background:linear-gradient(90deg,#00c0ff 0.5px,#00efff 85.5px,#00f6ff 113.5px,#00f9ff 195.5px,#00f0ff 234.5px,#00dfff 265.5px,#00e2ff 267.5px,#00f8ff 269.5px,#00fff3 272.5px,#00ffed 284.5px,#00ffc8 308.5px,#00ffc5 328.5px)"></i><i style="top:272px;height:2px;background:linear-gradient(90deg,#00bfff 0.5px,#00f5ff 111.5px,#00f7ff 197.5px,#00f0ff 231.5px,#00dcff 268.5px,#00dfff 269.5px,#00f8ff 271.5px,#00fff4 273.5px,#00ffec 285.5px,#00ffc8 308.5px,#00ffc5 328.5px)"></i><i style="top:274px;height:3px;background:linear-gradient(90deg,#00beff 0.5px,#00f3ff 110.5px,#00f6ff 200.5px,#00efff 229.5px,#00d9ff 269.5px,#00ddff 271.5px,#00f8ff 273.5px,#00fff4 275.5px,#00ffeb 286.5px,#00ffc9 307.5px,#00ffc5 328.5px)"></i><i style="top:277px;height:2px;background:linear-gradient(90deg,#00bdff 0.5px,#00efff 97.5px,#00f7ff 140.5px,#00f0ff 220.5px,#00d6ff 271.5px,#00dbff 273.5px,#00f9ff 275.5px,#00fff4 277.5px,#00ffc9 307.5px,#00ffc5 328.5px)"></i><i style="top:279px;height:3px;background:linear-gradient(90deg,#00bcff 0.5px,#00eeff 100.5px,#00f5ff 141.5px,#00f0ff 216.5px,#00d3ff 273.5px,#00daff 275.5px,#00f9ff 277.5px,#00fff3 279.5px,#00ffc9 307.5px,#00ffc5 328.5px)"></i><i style="top:282px;height:2px;background:linear-gradient(90deg,#00bbff 0.5px,#00edff 102.5px,#00f4ff 143.5px,#00f0ff 212.5px,#00d1ff 275.5px,#00d8ff 277.5px,#00fbff 279.5px,#00fff1 281.5px,#00ffca 306.5px,#00ffc5 328.5px)"></i><i style="top:284px;height:3px;background:linear-gradient(90deg,#00baff 0.5px,#00eaff 101.5px,#00f3ff 143.5px,#00efff 207.5px,#00cfff 277.5px,#00daff 279.5px,#00ffff 281.5px,#00ffef 283.5px,#00ffca 306.5px,#00ffc5 328.5px)"></i><i style="top:287px;height:3px;background:linear-gradient(90deg,#00b9ff 0.5px,#00e8ff 101.5px,#00f2ff 144.5px,#00eeff 202.5px,#00cdff 279.5px,#00d8ff 281.5px,#00ffff 283.5px,#00ffed 285.5px,#00ffcd 305.5px,#00ffc6 328.5px)"></i><i style="top:290px;height:2px;background:linear-gradient(90deg,#00b8ff 0.5px,#00e5ff 100.5px,#00f0ff 145.5px,#00ecff 202.5px,#00cbff 281.5px,#00dbff 283.5px,#00f2ff 284.5px,#00fff8 285.5px,#00ffea 287.5px,#00ffce 305.5px,#00ffc8 328.5px)"></i><i style="top:292px;height:3px;background:linear-gradient(90deg,#00b7ff 0.5px,#00e4ff 102.5px,#00efff 150.5px,#00e9ff 205.5px,#00c9ff 282.5px,#00d0ff 284.5px,#00f9ff 286.5px,#00ffea 288.5px,#00ffe8 289.5px,#00ffd1 304.5px,#00ffca 328.5px)"></i><i style="top:295px;height:2px;background:linear-gradient(90deg,#00b7ff 0.5px,#00e3ff 103.5px,#00edff 152.5px,#00e7ff 206.5px,#00c7ff 284.5px,#00d4ff 286.5px,#00fff9 288.5px,#00ffe7 290.5px,#00ffd2 305.5px,#00ffcd 328.5px)"></i><i style="top:297px;height:3px;background:linear-gradient(90deg,#00b6ff 0.5px,#00e1ff 104.5px,#00ebff 153.5px,#00e5ff 206.5px,#00c6ff 285.5px,#00ccff 287.5px,#00f8ff 289.5px,#00fff1 290.5px,#00ffe5 292.5px,#00ffd4 306.5px,#00ffd0 328.5px)"></i><i style="top:300px;height:2px;background:linear-gradient(90deg,#00b5ff 0.5px,#00dfff 105.5px,#00e9ff 153.5px,#00e3ff 205.5px,#00c4ff 287.5px,#00d2ff 289.5px,#00fff6 291.5px,#00ffe5 293.5px,#00ffd8 304.5px,#00ffd3 328.5px)"></i><i style="top:302px;height:3px;background:linear-gradient(90deg,#00b4ff 0.5px,#00ddff 105.5px,#00e6ff 153.5px,#00e1ff 205.5px,#00c2ff 288.5px,#00c4ff 289.5px,#00d1ff 290.5px,#00eeff 291.5px,#00fff4 292.5px,#00ffe6 294.5px,#00ffda 305.5px,#00ffd6 328.5px)"></i><i style="top:305px;height:3px;background:linear-gradient(90deg,#00b2ff 0.5px,#00dbff 106.5px,#00e4ff 153.5px,#00deff 204.5px,#00c1ff 289.5px,#00c3ff 290.5px,#00d1ff 291.5px,#00efff 292.5px,#00fff4 293.5px,#00ffe7 295.5px,#00ffdf 304.5px,#00ffda 328.5px)"></i><i style="top:308px;height:2px;background:linear-gradient(90deg,#00b1ff 0.5px,#00d9ff 107.5px,#00e2ff 153.5px,#00dcff 203.5px,#00bfff 290.5px,#00c3ff 291.5px,#00d5ff 292.5px,#00f6ff 293.5px,#00fff1 294.5px,#00ffe8 296.5px,#00ffe0 306.5px,#00ffde 328.5px)"></i><i style="top:310px;height:3px;background:linear-gradient(90deg,#00b0ff 0.5px,#00d7ff 107.5px,#00dfff 153.5px,#00daff 203.5px,#00beff 290.5px,#00c5ff 292.5px,#00feff 294.5px,#00ffee 295.5px,#00ffe9 297.5px,#00ffe1 328.5px)"></i><i style="top:313px;height:2px;background:linear-gradient(90deg,#00afff 0.5px,#00cbff 75.5px,#00ddff 154.5px,#00d8ff 202.5px,#00bcff 291.5px,#00bfff 292.5px,#00d0ff 293.5px,#00f1ff 294.5px,#00fff4 295.5px,#00ffec 296.5px,#00ffe8 303.5px,#00ffe5 328.5px)"></i><i style="top:315px;height:3px;background:linear-gradient(90deg,#00aeff 0.5px,#00cbff 77.5px,#00dbff 154.5px,#00d6ff 202.5px,#00bbff 291.5px,#00c7ff 293.5px,#00fffa 295.5px,#00ffed 297.5px,#00ffe8 328.5px)"></i><i style="top:318px;height:2px;background:linear-gradient(90deg,#00adff 0.5px,#00caff 79.5px,#00d9ff 154.5px,#00d4ff 201.5px,#00baff 291.5px,#00c1ff 293.5px,#00fbff 295.5px,#00fff2 296.5px,#00ffeb 328.5px)"></i><i style="top:320px;height:3px;background:linear-gradient(90deg,#00acff 0.5px,#00c9ff 80.5px,#00d6ff 154.5px,#00ceff 222.5px,#00b9ff 292.5px,#00bdff 293.5px,#00cfff 294.5px,#00f0ff 295.5px,#00fff7 296.5px,#00fff0 298.5px,#00ffee 328.5px)"></i><i style="top:323px;height:2px;background:linear-gradient(90deg,#00abff 0.5px,#00c8ff 82.5px,#00d4ff 154.5px,#00cdff 220.5px,#00b7ff 292.5px,#00b9ff 293.5px,#00c7ff 294.5px,#00fffb 296.5px,#00fff1 298.5px,#00fff0 328.5px)"></i><i style="top:325px;height:3px;background:linear-gradient(90deg,#00aaff 0.5px,#00c7ff 83.5px,#00d2ff 153.5px,#00ccff 219.5px,#00b6ff 292.5px,#00b8ff 293.5px,#00c4ff 294.5px,#00fffd 296.5px,#00fff2 298.5px,#00fff1 328.5px)"></i></div>
<div class="f" style="left:263px;top:370px"><i style="top:0px;height:3px;background:linear-gradient(90deg,#ff0000 0.5px,#ff0000 328.5px)"></i><i style="top:3px;height:2px;background:linear-gradient(90deg,#ff0000 0.5px,#ff0000 328.5px)"></i><i style="top:5px;height:3px;background:linear-gradient(90deg,#ff0000 0.5px,#ff0000 328.5px)"></i><i style="top:8px;height:2px;background:linear-gradient(90deg,#ff0000 0.5px,#ff0000 328.5px)"></i><i style="top:10px;height:3px;background:linear-gradient(90deg,#ff0000 0.5px,#ff0000 328.5px)"></i><i style="top:13px;height:2px;background:linear-gradient(90deg,#ff0000 0.5px,#ff0000 328.5px)"></i><i style="top:15px;height:3px;background:linear-gradient(90deg,#ff0000 0.5px,#ff0000 328.5px)"></i><i style="top:18px;height:2px;background:linear-gradient(90deg,#ff0000 0.5px,#ff0000 328.5px)"></i><i style="top:20px;height:3px;background:linear-gradient(90deg,#ff0000 0.5px,#ff0000 328.5px)"></i><i style="top:23px;height:3px;background:linear-gradient(90deg,#ff0000 0.5px,#ff0000 328.5px)"></i><i style="top:26px;height:2px;background:linear-gradient(90deg,#ff0000 0.5px,#ff0000 328.5px)"></i><i style="top:28px;height:3px;background:linear-gradient(90deg,#ff0000 0.5px,#ff0000 328.5px)"></i><i style="top:31px;height:2px;background:linear-gradient(90deg,#ff0000 0.5px,#ff0000 328.5px)"></i><i style="top:33px;height:3px;background:linear-gradient(90deg,#ff0000 0.5px,#ff0000 328.5px)"></i><i style="top:36px;height:2px;background:linear-gradient(90deg,#ff0000 0.5px,#ff0000 328.5px)"></i><i style="top:38px;height:3px;background:linear-gradient(90deg,#ff0000 0.5px,#ff0000 328.5px)"></i><i style="top:41px;height:3px;background:linear-gradient(90deg,#ff0000 0.5px,#ff0000 328.5px)"></i><i style="top:44px;height:2px;background:linear-gradient(90deg,#ff0000 0.5px,#ff0000 328.5px)"></i><i style="top:46px;height:3px;background:linear-gradient(90deg,#ff0000 0.5px,#ff0000 328.5px)"></i><i style="top:49px;height:2px;background:linear-gradient(90deg,#ff0000 0.5px,#ff0000 328.5px)"></i><i style="top:51px;height:3px;background:linear-gradient(90deg,#ff0000 0.5px,#ff0000 328.5px)"></i><i style="top:54px;height:2px;background:linear-gradient(90deg,#ff0000 0.5px,#ff0000 155.5px,#ff0d00 196.5px,#ff0000 239.5px,#ff0000 328.5px)"></i><i style="top:56px;height:3px;background:linear-gradient(90deg,#ff0000 0.5px,#ff0000 148.5px,#ff1800 196.5px,#ff0000 248.5px,#ff0000 328.5px)"></i><i style="top:59px;height:3px;background:linear-gradient(90deg,#ff0000 0.5px,#ff0200 134.5px,#ff2800 196.5px,#ff1800 231.5px,#ff0000 256.5px,#ff0000 328.5px)"></i><i style="top:62px;height:2px;background:linear-gradient(90deg,#ff0000 0.5px,#ff0100 114.5px,#ff0f00 145.5px,#ff2e00 174.5px,#ff3900 196.5px,#ff2700 229.5px,#ff0000 260.5px,#ff0000 328.5px)"></i><i style="top:64px;height:3px;background:linear-gradient(90deg,#ff0000 0.5px,#ff0100 103.5px,#ff1a00 145.5px,#ff3f00 174.5px,#ff4b00 196.5px,#ff3800 229.5px,#ff0100 263.5px,#ff0000 328.5px)"></i><i style="top:67px;height:2px;background:linear-gradient(90deg,#ff0000 0.5px,#ff0100 95.5px,#ff1f00 137.5px,#ff5200 174.5px,#ff5e00 196.5px,#ff4900 229.5px,#ff0200 265.5px,#ff0000 328.5px)"></i><i style="top:69px;height:3px;background:linear-gradient(90deg,#ff0000 0.5px,#ff0100 90.5px,#ff2e00 137.5px,#ff6700 175.5px,#ff7200 196.5px,#ff5e00 228.5px,#ff0400 267.5px,#ff0100 328.5px)"></i><i style="top:72px;height:2px;background:linear-gradient(90deg,#ff0000 0.5px,#ff0100 86.5px,#ff4000 139.5px,#ff6d00 163.5px,#ff8800 196.5px,#ff8300 210.5px,#ff7100 228.5px,#ff0800 268.5px,#ff0200 328.5px)"></i><i style="top:74px;height:3px;background:linear-gradient(90deg,#ff0000 0.5px,#ff0200 82.5px,#ff5000 139.5px,#ff8100 163.5px,#ff9300 177.5px,#ff9f00 196.5px,#ff9a00 210.5px,#ff8900 226.5px,#ff6500 240.5px,#ff2000 260.5px,#ff0d00 268.5px,#ff0300 328.5px)"></i><i style="top:77px;height:2px;background:linear-gradient(90deg,#ff0000 0.5px,#ff0100 78.5px,#ff6300 140.5px,#ff9800 163.5px,#ffb900 196.5px,#ffb200 210.5px,#ff9e00 226.5px,#ff7100 241.5px,#ff1400 267.5px,#ff0500 328.5px)"></i><i style="top:79px;height:3px;background:linear-gradient(90deg,#ff0000 0.5px,#ff0200 76.5px,#ff7700 141.5px,#ffb000 163.5px,#ffc800 176.5px,#ffdf00 196.5px,#ffd700 210.5px,#ffbf00 223.5px,#ff9000 237.5px,#ff1a00 267.5px,#ff0600 328.5px)"></i><i style="top:82px;height:3px;background:linear-gradient(90deg,#ff0000 0.5px,#ff0300 73.5px,#ff9000 142.5px,#ffb000 154.5px,#ffd900 163.5px,#fcff00 175.5px,#d2ff00 186.5px,#bcff00 196.5px,#cfff00 205.5px,#d1ff00 210.5px,#feff00 219.5px,#ffba00 232.5px,#ff2400 266.5px,#ff0900 328.5px)"></i><i style="top:85px;height:2px;background:linear-gradient(90deg,#ff0000 0.5px,#ff0400 71.5px,#ff1f00 86.5px,#ffa700 143.5px,#ffd000 154.5px,#ffff00 161.5px,#f4ff00 162.5px,#79ff00 177.5px,#47ff00 186.5px,#29ff00 196.5px,#42ff00 205.5px,#46ff00 210.5px,#a4ff00 221.5px,#e6ff00 225.5px,#fffd00 227.5px,#ffb000 238.5px,#ff2d00 265.5px,#ff0f00 311.5px,#ff0b00 328.5px)"></i><i style="top:87px;height:3px;background:linear-gradient(90deg,#ff0000 0.5px,#ff0300 68.5px,#ff2100 84.5px,#ffb200 139.5px,#ffcf00 146.5px,#fffb00 153.5px,#f0ff00 155.5px,#d4ff00 157.5px,#49ff00 165.5px,#01ff00 173.5px,#00ff08 174.5px,#00ff2a 178.5px,#00ff5b 186.5px,#00ff7b 196.5px,#00ff62 205.5px,#00ff61 209.5px,#02ff00 219.5px,#1dff00 221.5px,#baff00 228.5px,#fffd00 232.5px,#ffb400 240.5px,#ff3400 265.5px,#ff1100 311.5px,#ff0d00 328.5px)"></i><i style="top:90px;height:2px;background:linear-gradient(90deg,#ff0000 0.5px,#ff0300 66.5px,#ff2000 81.5px,#ffaf00 131.5px,#ffd800 141.5px,#fff700 146.5px,#fdff00 147.5px,#f0ff00 148.5px,#afff00 152.5px,#00ff02 161.5px,#00ff43 164.5px,#00ff61 166.5px,#00ffcd 177.5px,#00fffe 184.5px,#00ecff 187.5px,#00d1ff 196.5px,#00d8ff 201.5px,#00e7ff 204.5px,#00e9ff 208.5px,#00fbff 210.5px,#00ff95 219.5px,#00ff6c 221.5px,#00ff02 225.5px,#62ff00 229.5px,#d7ff00 233.5px,#fffb00 235.5px,#ffd000 239.5px,#ffb100 243.5px,#ff3a00 265.5px,#ff3300 280.5px,#ff1300 312.5px,#ff0e00 328.5px)"></i><i style="top:92px;height:3px;background:linear-gradient(90deg,#ff0000 0.5px,#ff0300 64.5px,#ff2500 80.5px,#ffb200 126.5px,#ffd600 134.5px,#fffe00 140.5px,#ecff00 142.5px,#ceff00 144.5px,#0eff00 153.5px,#00ff07 154.5px,#00feff 165.5px,#00ccff 169.5px,#0074ff 178.5px,#0048ff 187.5px,#003aff 196.5px,#003cff 201.5px,#0050ff 209.5px,#00acff 217.5px,#00cdff 219.5px,#00e8ff 220.5px,#00fff7 221.5px,#00ff07 229.5px,#1bff00 230.5px,#c8ff00 235.5px,#faff00 237.5px,#fff400 238.5px,#ffb000 245.5px,#ff4100 264.5px,#ff3800 280.5px,#ff1600 311.5px,#ff1000 328.5px)"></i><i style="top:95px;height:2px;background:linear-gradient(90deg,#ff0000 0.5px,#ff0400 63.5px,#ff2200 77.5px,#ff9c00 115.5px,#ffbb00 123.5px,#fff900 134.5px,#fbff00 135.5px,#ccff00 138.5px,#56ff00 144.5px,#0fff00 147.5px,#00ff0a 148.5px,#00ff3e 150.5px,#00ff8c 153.5px,#00fbff 158.5px,#0069ff 164.5px,#0048ff 166.5px,#003fff 167.5px,#0023ff 173.5px,#0017ff 178.5px,#000bff 194.5px,#000fff 208.5px,#002eff 217.5px,#0047ff 219.5px,#005dff 220.5px,#00fbff 225.5px,#00ffba 227.5px,#00ff1a 231.5px,#0dff00 232.5px,#dfff00 238.5px,#f9ff00 239.5px,#fff300 240.5px,#ffb300 246.5px,#ff4400 264.5px,#ff3c00 280.5px,#ff1600 312.5px,#ff1100 328.5px)"></i><i style="top:97px;height:3px;background:linear-gradient(90deg,#ff0000 0.5px,#ff0300 61.5px,#ff2200 75.5px,#ffad00 116.5px,#ffc500 121.5px,#fffd00 129.5px,#eaff00 131.5px,#caff00 133.5px,#00ff01 142.5px,#00ff61 146.5px,#00ffd6 150.5px,#00fff5 151.5px,#00e9ff 152.5px,#00afff 154.5px,#007fff 156.5px,#003bff 160.5px,#0019ff 164.5px,#000cff 168.5px,#0003ff 179.5px,#0001ff 205.5px,#0011ff 218.5px,#0026ff 221.5px,#0045ff 223.5px,#0080ff 225.5px,#00dbff 227.5px,#00fff4 228.5px,#00ff4c 232.5px,#05ff00 234.5px,#ccff00 239.5px,#edff00 240.5px,#fff900 241.5px,#ffb300 247.5px,#ff7b00 255.5px,#ff4800 264.5px,#ff3f00 280.5px,#ff1800 312.5px,#ff1200 328.5px)"></i><i style="top:100px;height:2px;background:linear-gradient(90deg,#ff0000 0.5px,#ff0400 60.5px,#ff2100 73.5px,#ff8100 101.5px,#ffbd00 116.5px,#fffc00 125.5px,#f4ff00 126.5px,#ceff00 128.5px,#4eff00 134.5px,#05ff00 137.5px,#00ff4d 140.5px,#00fff4 146.5px,#00ebff 147.5px,#0069ff 151.5px,#003cff 153.5px,#002dff 154.5px,#0013ff 158.5px,#0002ff 165.5px,#0000ff 214.5px,#000dff 221.5px,#0018ff 223.5px,#0033ff 225.5px,#0050ff 226.5px,#0076ff 227.5px,#00fffa 230.5px,#00ff10 235.5px,#1eff00 236.5px,#cdff00 240.5px,#efff00 241.5px,#fffa00 242.5px,#ffc300 246.5px,#ffb000 248.5px,#ff7900 256.5px,#ff4c00 264.5px,#ff4300 280.5px,#ff1900 312.5px,#ff1300 328.5px)"></i><i style="top:102px;height:3px;background:linear-gradient(90deg,#ff0000 0.5px,#ff0300 58.5px,#ff2300 72.5px,#ff7f00 98.5px,#ffba00 112.5px,#fff700 121.5px,#fcff00 122.5px,#d9ff00 124.5px,#29ff00 131.5px,#00ff07 133.5px,#00ff54 136.5px,#00ffcb 140.5px,#00ffec 141.5px,#00f0ff 142.5px,#00acff 144.5px,#0072ff 146.5px,#0033ff 149.5px,#0015ff 152.5px,#0003ff 158.5px,#0000ff 217.5px,#0006ff 222.5px,#0018ff 225.5px,#0036ff 227.5px,#0056ff 228.5px,#0085ff 229.5px,#00f8ff 231.5px,#00ffd0 232.5px,#00ff03 236.5px,#82ff00 239.5px,#a5ff00 240.5px,#ffff00 244.5px,#ffc400 247.5px,#ffad00 249.5px,#ff5200 263.5px,#ff4800 280.5px,#ff1b00 312.5px,#ff1400 328.5px)"></i><i style="top:105px;height:3px;background:linear-gradient(90deg,#ff0000 0.5px,#ff0400 57.5px,#ff2300 70.5px,#ff8200 96.5px,#ffb500 108.5px,#fff600 117.5px,#fdff00 118.5px,#dcff00 120.5px,#94ff00 123.5px,#0eff00 128.5px,#00ff0f 129.5px,#00fbff 137.5px,#0094ff 140.5px,#0056ff 142.5px,#003fff 143.5px,#0021ff 145.5px,#000eff 148.5px,#0002ff 152.5px,#0001ff 222.5px,#0015ff 226.5px,#0020ff 227.5px,#0036ff 228.5px,#005cff 229.5px,#00ceff 231.5px,#00fff6 232.5px,#00ff25 236.5px,#09ff00 237.5px,#2bff00 238.5px,#82ff00 242.5px,#feff00 246.5px,#ffcc00 248.5px,#ffaa00 250.5px,#ff7e00 256.5px,#ff5600 263.5px,#ff4e00 279.5px,#ff1d00 312.5px,#ff1600 328.5px)"></i><i style="top:108px;height:2px;background:linear-gradient(90deg,#ff0000 0.5px,#ff0400 56.5px,#ff2400 69.5px,#ff7e00 93.5px,#ffb700 106.5px,#fffd00 115.5px,#dcff00 117.5px,#0eff00 125.5px,#00ff0e 126.5px,#00ff2c 127.5px,#00fff4 133.5px,#00e4ff 134.5px,#007bff 137.5px,#0032ff 140.5px,#0014ff 143.5px,#0001ff 149.5px,#0002ff 223.5px,#0013ff 226.5px,#002eff 228.5px,#004eff 229.5px,#007eff 230.5px,#00f5ff 232.5px,#00ffd1 233.5px,#00ff35 236.5px,#00ff09 237.5px,#10ff00 238.5px,#2cff00 241.5px,#43ff00 242.5px,#fcff00 247.5px,#ffc800 249.5px,#ffa400 251.5px,#ff5c00 262.5px,#ff5300 279.5px,#ff1f00 312.5px,#ff1700 328.5px)"></i><i style="top:110px;height:3px;background:linear-gradient(90deg,#ff0000 0.5px,#ff0400 55.5px,#ff2200 67.5px,#ff8100 92.5px,#ffb800 104.5px,#fcff00 113.5px,#d3ff00 115.5px,#10ff00 122.5px,#00ff0d 123.5px,#00ff86 127.5px,#00ffe9 130.5px,#00efff 131.5px,#0078ff 134.5px,#003dff 136.5px,#0020ff 138.5px,#0013ff 140.5px,#0003ff 144.5px,#0000ff 147.5px,#0001ff 222.5px,#0011ff 225.5px,#0028ff 227.5px,#0044ff 228.5px,#006eff 229.5px,#00deff 231.5px,#00ffe9 232.5px,#00ff24 236.5px,#00ff03 237.5px,#0cff00 238.5px,#19ff00 241.5px,#24ff00 242.5px,#3bff00 243.5px,#e5ff00 247.5px,#fff700 248.5px,#ffbc00 250.5px,#ff9b00 252.5px,#ff6200 261.5px,#ff5a00 277.5px,#ff2300 310.5px,#ff1800 328.5px)"></i><i style="top:113px;height:2px;background:linear-gradient(90deg,#ff0000 0.5px,#ff0400 54.5px,#ff2200 66.5px,#ff7f00 90.5px,#ffb800 102.5px,#fbff00 111.5px,#cfff00 113.5px,#04ff00 120.5px,#00fdff 128.5px,#0064ff 132.5px,#0030ff 134.5px,#0018ff 136.5px,#0005ff 140.5px,#0002ff 222.5px,#0014ff 225.5px,#0032ff 227.5px,#0057ff 228.5px,#00fff9 231.5px,#00ff2e 235.5px,#00ff0b 236.5px,#04ff00 237.5px,#14ff00 241.5px,#29ff00 243.5px,#4aff00 244.5px,#d6ff00 247.5px,#fcff00 248.5px,#ffe100 249.5px,#ffa900 251.5px,#ff9b00 252.5px,#ff6700 261.5px,#ff6000 277.5px,#ff2500 310.5px,#ff1a00 328.5px)"></i><i style="top:115px;height:3px;background:linear-gradient(90deg,#ff0000 0.5px,#ff0300 53.5px,#ff2200 65.5px,#ff8100 89.5px,#ffbb00 101.5px,#fff700 108.5px,#f9ff00 109.5px,#ccff00 111.5px,#02ff00 118.5px,#00ffed 125.5px,#00ebff 126.5px,#0077ff 129.5px,#003dff 131.5px,#002aff 132.5px,#0011ff 135.5px,#0000ff 140.5px,#0002ff 222.5px,#0013ff 225.5px,#002eff 227.5px,#0051ff 228.5px,#0085ff 229.5px,#00feff 231.5px,#00ffc9 232.5px,#00ff31 235.5px,#00ff0d 236.5px,#02ff00 237.5px,#1aff00 242.5px,#29ff00 243.5px,#49ff00 244.5px,#d5ff00 247.5px,#fbff00 248.5px,#ffe200 249.5px,#ffae00 251.5px,#ffa100 252.5px,#ff6f00 261.5px,#ff6600 277.5px,#ff2700 310.5px,#ff1b00 328.5px)"></i><i style="top:118px;height:2px;background:linear-gradient(90deg,#ff0000 0.5px,#ff0500 53.5px,#ff2100 64.5px,#ff8300 88.5px,#ffb800 99.5px,#fffd00 107.5px,#eeff00 108.5px,#00ff00 116.5px,#00ffec 123.5px,#00ecff 124.5px,#0070ff 127.5px,#0036ff 129.5px,#0025ff 130.5px,#0007ff 135.5px,#0000ff 140.5px,#0001ff 222.5px,#0011ff 225.5px,#0028ff 227.5px,#0045ff 228.5px,#0070ff 229.5px,#00e1ff 231.5px,#00ffe8 232.5px,#00ff2b 236.5px,#00ff09 237.5px,#08ff00 238.5px,#20ff00 242.5px,#35ff00 243.5px,#5aff00 244.5px,#e1ff00 247.5px,#fffa00 248.5px,#ffc200 250.5px,#ffb300 251.5px,#ff7500 262.5px,#ff6900 279.5px,#ff2700 312.5px,#ff1d00 328.5px)"></i><i style="top:120px;height:3px;background:linear-gradient(90deg,#ff0000 0.5px,#ff0400 52.5px,#ff2300 64.5px,#ff7f00 86.5px,#ffbb00 98.5px,#fff800 105.5px,#f7ff00 106.5px,#c5ff00 108.5px,#0aff00 114.5px,#00ff18 115.5px,#00ffe8 121.5px,#00f0ff 122.5px,#0056ff 126.5px,#0028ff 128.5px,#0015ff 130.5px,#0003ff 134.5px,#0000ff 140.5px,#0002ff 223.5px,#0013ff 226.5px,#002aff 228.5px,#0045ff 229.5px,#006cff 230.5px,#00d6ff 232.5px,#00fff3 233.5px,#00ff37 237.5px,#00ff12 238.5px,#08ff00 239.5px,#3aff00 242.5px,#59ff00 243.5px,#f5ff00 247.5px,#ffed00 248.5px,#ffc800 250.5px,#ffb500 252.5px,#ff7b00 263.5px,#ff6f00 279.5px,#ff2900 312.5px,#ff1f00 328.5px)"></i><i style="top:123px;height:3px;background:linear-gradient(90deg,#ff0000 0.5px,#ff0000 48.5px,#ff0600 52.5px,#ff2200 63.5px,#ff7f00 85.5px,#ffb800 96.5px,#fdff00 104.5px,#cdff00 106.5px,#12ff00 112.5px,#00ff0f 113.5px,#00ffe8 119.5px,#00eeff 120.5px,#0072ff 123.5px,#0052ff 124.5px,#0027ff 126.5px,#0015ff 128.5px,#0003ff 132.5px,#0000ff 140.5px,#0002ff 224.5px,#0016ff 228.5px,#0035ff 230.5px,#0056ff 231.5px,#0082ff 232.5px,#00e9ff 234.5px,#00ffe4 235.5px,#00ff0a 240.5px,#1eff00 241.5px,#daff00 246.5px,#f6ff00 247.5px,#fff500 248.5px,#ffb900 254.5px,#ff8600 263.5px,#ff7600 280.5px,#ff2c00 312.5px,#ff2100 328.5px)"></i><i style="top:126px;height:2px;background:linear-gradient(90deg,#ff0000 0.5px,#ff0000 48.5px,#ff0f00 55.5px,#ff3f00 70.5px,#ff8200 85.5px,#ffb800 95.5px,#fff600 102.5px,#f8ff00 103.5px,#c3ff00 105.5px,#05ff00 111.5px,#00ff1e 112.5px,#00fff6 118.5px,#00dfff 119.5px,#0061ff 122.5px,#002cff 124.5px,#001fff 125.5px,#0002ff 131.5px,#0000ff 140.5px,#0004ff 226.5px,#0014ff 229.5px,#002bff 231.5px,#0043ff 232.5px,#0067ff 233.5px,#00fcff 236.5px,#00ffd3 237.5px,#00ff21 241.5px,#09ff00 242.5px,#a0ff00 246.5px,#e2ff00 248.5px,#faff00 249.5px,#fff400 250.5px,#ffb900 256.5px,#ff8c00 264.5px,#ff7d00 280.5px,#ff2f00 312.5px,#ff2300 328.5px)"></i><i style="top:128px;height:3px;background:linear-gradient(90deg,#ff0000 0.5px,#ff0000 48.5px,#ff1a00 59.5px,#ff4a00 72.5px,#ffaa00 92.5px,#ffbd00 95.5px,#faff00 102.5px,#c3ff00 104.5px,#00ff05 110.5px,#00ffde 116.5px,#00f9ff 117.5px,#007bff 120.5px,#0058ff 121.5px,#003cff 122.5px,#001cff 124.5px,#0001ff 130.5px,#0000ff 140.5px,#0002ff 227.5px,#0017ff 231.5px,#0033ff 233.5px,#0051ff 234.5px,#0079ff 235.5px,#00ddff 237.5px,#00fff0 238.5px,#00ff1a 243.5px,#0dff00 244.5px,#dfff00 250.5px,#f7ff00 251.5px,#fff600 252.5px,#ffb900 258.5px,#ff9600 264.5px,#ff8500 280.5px,#ff3200 312.5px,#ff2500 328.5px)"></i><i style="top:131px;height:2px;background:linear-gradient(90deg,#ff0000 0.5px,#ff0000 47.5px,#ff1900 58.5px,#ff4c00 72.5px,#ffae00 92.5px,#ffc200 95.5px,#ffff00 101.5px,#cbff00 103.5px,#00ff02 109.5px,#00ffe6 115.5px,#00efff 116.5px,#006fff 119.5px,#0035ff 121.5px,#0023ff 122.5px,#0006ff 127.5px,#0000ff 130.5px,#0001ff 228.5px,#0012ff 232.5px,#0026ff 234.5px,#003cff 235.5px,#005cff 236.5px,#00e8ff 239.5px,#00ffe9 240.5px,#00ff1c 245.5px,#0aff00 246.5px,#dfff00 252.5px,#f8ff00 253.5px,#fff400 254.5px,#ffc000 259.5px,#ffa000 264.5px,#ff8d00 280.5px,#ff3500 312.5px,#ff2700 328.5px)"></i><i style="top:133px;height:3px;background:linear-gradient(90deg,#ff0000 0.5px,#ff0000 46.5px,#ff0600 50.5px,#ff2300 61.5px,#ff8100 83.5px,#ffb700 93.5px,#fff900 100.5px,#f4ff00 101.5px,#d8ff00 102.5px,#0bff00 108.5px,#00ff1a 109.5px,#00ffdd 114.5px,#00f7ff 115.5px,#0070ff 118.5px,#0033ff 120.5px,#0019ff 122.5px,#0005ff 126.5px,#0000ff 129.5px,#0002ff 230.5px,#0014ff 234.5px,#002aff 236.5px,#0060ff 238.5px,#00e5ff 241.5px,#00ffec 242.5px,#00ff20 247.5px,#08ff00 248.5px,#e1ff00 254.5px,#faff00 255.5px,#fff300 256.5px,#ffbe00 261.5px,#ffa700 265.5px,#ff9600 280.5px,#ff3800 312.5px,#ff2a00 328.5px)"></i><i style="top:136px;height:2px;background:linear-gradient(90deg,#ff0000 0.5px,#ff0400 49.5px,#ff2400 61.5px,#ff7f00 82.5px,#ffb400 92.5px,#fff300 99.5px,#fcff00 100.5px,#e4ff00 101.5px,#19ff00 107.5px,#00ff0b 108.5px,#00ff31 109.5px,#00fff6 114.5px,#00dcff 115.5px,#0059ff 118.5px,#0026ff 120.5px,#0015ff 122.5px,#0000ff 127.5px,#0002ff 232.5px,#001cff 237.5px,#003dff 239.5px,#0083ff 241.5px,#00e1ff 243.5px,#00ffef 244.5px,#00ff1c 249.5px,#0cff00 250.5px,#c8ff00 255.5px,#ffff00 257.5px,#ffc600 262.5px,#ffb200 265.5px,#ff9f00 280.5px,#ff3c00 312.5px,#ff2d00 328.5px)"></i><i style="top:138px;height:3px;background:linear-gradient(90deg,#ff0000 0.5px,#ff0000 46.5px,#ff1900 57.5px,#ff4900 70.5px,#ffa600 89.5px,#ffbf00 93.5px,#fffb00 99.5px,#f0ff00 100.5px,#d3ff00 101.5px,#04ff00 107.5px,#00ff48 109.5px,#00ffe5 113.5px,#00efff 114.5px,#0068ff 117.5px,#002fff 119.5px,#0017ff 121.5px,#0001ff 126.5px,#0002ff 234.5px,#001cff 239.5px,#003cff 241.5px,#0084ff 243.5px,#00e3ff 245.5px,#00ffec 246.5px,#00ff16 251.5px,#12ff00 252.5px,#ccff00 257.5px,#fffe00 259.5px,#ffcf00 263.5px,#ffbc00 266.5px,#ffb400 275.5px,#ff9900 286.5px,#ff9800 291.5px,#ff6c00 298.5px,#ff4a00 308.5px,#ff3700 317.5px,#ff3000 328.5px)"></i><i style="top:141px;height:3px;background:linear-gradient(90deg,#ff0000 0.5px,#ff0000 45.5px,#ff0600 49.5px,#ff2400 60.5px,#ff7e00 81.5px,#ffb400 91.5px,#fff400 98.5px,#fbff00 99.5px,#e2ff00 100.5px,#13ff00 106.5px,#00ff12 107.5px,#00ff60 109.5px,#00feff 113.5px,#0075ff 116.5px,#0035ff 118.5px,#0019ff 120.5px,#0000ff 126.5px,#0001ff 236.5px,#0018ff 241.5px,#0035ff 243.5px,#0052ff 244.5px,#0079ff 245.5px,#00d9ff 247.5px,#00fff5 248.5px,#00ff1f 253.5px,#09ff00 254.5px,#9fff00 258.5px,#e2ff00 260.5px,#faff00 261.5px,#fff300 262.5px,#ffcd00 266.5px,#ffb100 283.5px,#ffbd00 285.5px,#fff900 290.5px,#fffe00 292.5px,#ffec00 294.5px,#ffd900 295.5px,#ff8b00 298.5px,#ff7900 299.5px,#ff6800 301.5px,#ff4100 314.5px,#ff3400 328.5px)"></i><i style="top:144px;height:2px;background:linear-gradient(90deg,#ff0000 0.5px,#ff0000 45.5px,#ff1900 56.5px,#ff4500 68.5px,#ff8500 82.5px,#ffb700 91.5px,#fff900 98.5px,#f3ff00 99.5px,#d6ff00 100.5px,#05ff00 106.5px,#00ff70 109.5px,#00ffe7 112.5px,#00ebff 113.5px,#0063ff 116.5px,#002bff 118.5px,#0016ff 120.5px,#0001ff 125.5px,#0001ff 238.5px,#0019ff 243.5px,#0038ff 245.5px,#0057ff 246.5px,#0080ff 247.5px,#00e0ff 249.5px,#00ffef 250.5px,#00ff1b 255.5px,#0dff00 256.5px,#a1ff00 260.5px,#e4ff00 262.5px,#fcff00 263.5px,#fff300 264.5px,#ffd800 267.5px,#ffc200 280.5px,#ffc900 282.5px,#faff00 286.5px,#d7ff00 289.5px,#caff00 292.5px,#d4ff00 294.5px,#f5ff00 296.5px,#ffed00 297.5px,#ffa100 299.5px,#ff8300 300.5px,#ff6c00 302.5px,#ff4700 314.5px,#ff3900 328.5px)"></i><i style="top:146px;height:3px;background:linear-gradient(90deg,#ff0000 0.5px,#ff0000 45.5px,#ff1c00 57.5px,#ff4a00 69.5px,#ffad00 89.5px,#ffc100 92.5px,#ffff00 98.5px,#c9ff00 100.5px,#1bff00 105.5px,#00ff0a 106.5px,#00ff7f 109.5px,#00fff7 112.5px,#00daff 113.5px,#007dff 115.5px,#0056ff 116.5px,#0025ff 118.5px,#0014ff 120.5px,#0000ff 125.5px,#0002ff 240.5px,#0013ff 244.5px,#0028ff 246.5px,#003dff 247.5px,#005dff 248.5px,#00e5ff 251.5px,#00ffea 252.5px,#00ff19 257.5px,#0eff00 258.5px,#a0ff00 262.5px,#e1ff00 264.5px,#f9ff00 265.5px,#fff500 266.5px,#ffe400 268.5px,#ffd400 279.5px,#fdff00 284.5px,#ceff00 289.5px,#c2ff00 292.5px,#d2ff00 295.5px,#f1ff00 297.5px,#fff300 298.5px,#ff8800 301.5px,#ff7200 303.5px,#ff4e00 315.5px,#ff4100 328.5px)"></i><i style="top:149px;height:2px;background:linear-gradient(90deg,#ff0000 0.5px,#ff0500 48.5px,#ff2300 59.5px,#ff7e00 80.5px,#ffb500 90.5px,#fff500 97.5px,#f9ff00 98.5px,#deff00 99.5px,#0dff00 105.5px,#00ff18 106.5px,#00ff8e 109.5px,#00ffde 111.5px,#00f6ff 112.5px,#006cff 115.5px,#0030ff 117.5px,#0018ff 119.5px,#0000ff 125.5px,#0002ff 242.5px,#0014ff 246.5px,#0029ff 248.5px,#003eff 249.5px,#005eff 250.5px,#00e9ff 253.5px,#00ffe8 254.5px,#00ff19 259.5px,#0dff00 260.5px,#dfff00 266.5px,#f7ff00 267.5px,#fff800 268.5px,#ffe300 277.5px,#fffe00 283.5px,#d4ff00 290.5px,#d0ff00 292.5px,#dbff00 295.5px,#fdff00 298.5px,#ffe900 299.5px,#ffa400 301.5px,#ff8b00 302.5px,#ff8000 303.5px,#ff5b00 315.5px,#ff4d00 328.5px)"></i><i style="top:151px;height:3px;background:linear-gradient(90deg,#ff0000 0.5px,#ff0000 45.5px,#ff1700 55.5px,#ff4700 68.5px,#ff8400 81.5px,#ffb500 90.5px,#fff700 97.5px,#f5ff00 98.5px,#d9ff00 99.5px,#05ff00 105.5px,#00ff21 106.5px,#00ff98 109.5px,#00ffe9 111.5px,#00e8ff 112.5px,#005fff 115.5px,#0028ff 117.5px,#0015ff 119.5px,#0001ff 124.5px,#0002ff 244.5px,#0015ff 248.5px,#002bff 250.5px,#0062ff 252.5px,#00e8ff 255.5px,#00ffe9 256.5px,#00ff1d 261.5px,#09ff00 262.5px,#97ff00 266.5px,#d6ff00 268.5px,#faff00 270.5px,#fffd00 271.5px,#fff100 277.5px,#feff00 285.5px,#e8ff00 292.5px,#fffe00 298.5px,#fff000 299.5px,#ffa000 302.5px,#ff9200 303.5px,#ff6d00 316.5px,#ff6100 328.5px)"></i><i style="top:154px;height:2px;background:linear-gradient(90deg,#ff0000 0.5px,#ff0000 45.5px,#ff1700 55.5px,#ff4700 68.5px,#ff8400 81.5px,#ffb500 90.5px,#fff700 97.5px,#f5ff00 98.5px,#d9ff00 99.5px,#05ff00 105.5px,#00ff9a 109.5px,#00ffeb 111.5px,#00e6ff 112.5px,#005bff 115.5px,#003bff 116.5px,#0025ff 117.5px,#0014ff 119.5px,#0000ff 124.5px,#0002ff 246.5px,#0015ff 250.5px,#002aff 252.5px,#005fff 254.5px,#00e5ff 257.5px,#00ffec 258.5px,#02ff00 264.5px,#cbff00 270.5px,#e3ff00 271.5px,#f5ff00 273.5px,#ffff00 277.5px,#fff700 281.5px,#feff00 289.5px,#fffc00 297.5px,#fff100 299.5px,#ffe200 300.5px,#ffb400 302.5px,#ffa900 303.5px,#ff8600 317.5px,#ff7a00 328.5px)"></i><i style="top:156px;height:3px;background:linear-gradient(90deg,#ff0000 0.5px,#ff0000 45.5px,#ff1700 55.5px,#ff4700 68.5px,#ff8400 81.5px,#ffb500 90.5px,#fff700 97.5px,#f5ff00 98.5px,#d9ff00 99.5px,#05ff00 105.5px,#00ff99 109.5px,#00ffeb 111.5px,#00e7ff 112.5px,#005dff 115.5px,#003dff 116.5px,#0027ff 117.5px,#0015ff 119.5px,#0000ff 124.5px,#0002ff 248.5px,#0015ff 252.5px,#002aff 254.5px,#005eff 256.5px,#00dfff 259.5px,#00fff3 260.5px,#00ff12 266.5px,#10ff00 267.5px,#6bff00 270.5px,#96ff00 272.5px,#d8ff00 281.5px,#daff00 292.5px,#fdff00 298.5px,#ffee00 300.5px,#ffce00 302.5px,#ffc300 304.5px,#ffa400 318.5px,#ff9a00 328.5px)"></i><i style="top:159px;height:2px;background:linear-gradient(90deg,#ff0000 0.5px,#ff0000 44.5px,#ff0800 49.5px,#ff2300 59.5px,#ff7e00 80.5px,#ffb500 90.5px,#fff600 97.5px,#f7ff00 98.5px,#dbff00 99.5px,#09ff00 105.5px,#00ff1d 106.5px,#00ff94 109.5px,#00ffe4 111.5px,#00eeff 112.5px,#0063ff 115.5px,#0042ff 116.5px,#002aff 117.5px,#0010ff 120.5px,#0000ff 125.5px,#0001ff 249.5px,#0014ff 252.5px,#004dff 256.5px,#007eff 258.5px,#00f8ff 262.5px,#00ffb4 265.5px,#00ff8d 267.5px,#00ff05 277.5px,#28ff00 280.5px,#37ff00 282.5px,#37ff00 291.5px,#40ff00 293.5px,#ceff00 300.5px,#fdff00 303.5px,#ffec00 305.5px,#ffd000 311.5px,#ffb900 328.5px)"></i><i style="top:161px;height:3px;background:linear-gradient(90deg,#ff0000 0.5px,#ff0500 48.5px,#ff2300 59.5px,#ff7e00 80.5px,#ffb400 90.5px,#fff500 97.5px,#faff00 98.5px,#dfff00 99.5px,#0dff00 105.5px,#00ff18 106.5px,#00ff90 109.5px,#00ffe1 111.5px,#00f2ff 112.5px,#0065ff 115.5px,#0042ff 116.5px,#002aff 117.5px,#0010ff 120.5px,#0000ff 125.5px,#0002ff 249.5px,#001bff 252.5px,#0069ff 256.5px,#00f4ff 264.5px,#00fff3 265.5px,#00ffd1 267.5px,#00ff76 274.5px,#00ff04 281.5px,#01ff00 291.5px,#0bff00 293.5px,#c2ff00 301.5px,#fcff00 305.5px,#ffe700 311.5px,#ffcf00 328.5px)"></i><i style="top:164px;height:3px;background:linear-gradient(90deg,#ff0000 0.5px,#ff0500 48.5px,#ff2200 59.5px,#ff7e00 80.5px,#ffb400 90.5px,#fff400 97.5px,#faff00 98.5px,#e0ff00 99.5px,#0eff00 105.5px,#00ff18 106.5px,#00ff90 109.5px,#00ffe1 111.5px,#00f2ff 112.5px,#0065ff 115.5px,#0042ff 116.5px,#002aff 117.5px,#0010ff 120.5px,#0000ff 125.5px,#0002ff 249.5px,#001bff 252.5px,#007cff 257.5px,#00edff 264.5px,#00fff7 265.5px,#00ffd3 267.5px,#00ff77 274.5px,#00ff05 281.5px,#00ff00 291.5px,#0aff00 293.5px,#c1ff00 301.5px,#fcff00 305.5px,#ffec00 311.5px,#ffd500 328.5px)"></i><i style="top:167px;height:2px;background:linear-gradient(90deg,#ff0000 0.5px,#ff0500 48.5px,#ff2300 59.5px,#ff7e00 80.5px,#ffb400 90.5px,#fff500 97.5px,#f9ff00 98.5px,#deff00 99.5px,#0cff00 105.5px,#00ff1a 106.5px,#00ff91 109.5px,#00ffe1 111.5px,#00f1ff 112.5px,#0064ff 115.5px,#0042ff 116.5px,#002aff 117.5px,#0010ff 120.5px,#0000ff 125.5px,#0002ff 249.5px,#000dff 251.5px,#0027ff 253.5px,#0085ff 258.5px,#00f1ff 263.5px,#00fff6 264.5px,#00ffce 266.5px,#00ff66 274.5px,#00ff02 280.5px,#0eff00 282.5px,#0eff00 291.5px,#18ff00 293.5px,#caff00 301.5px,#f7ff00 304.5px,#fffc00 305.5px,#ffdb00 311.5px,#ffc300 328.5px)"></i><i style="top:169px;height:3px;background:linear-gradient(90deg,#ff0000 0.5px,#ff0000 45.5px,#ff1700 55.5px,#ff4700 68.5px,#ff8400 81.5px,#ffb500 90.5px,#fff700 97.5px,#f6ff00 98.5px,#daff00 99.5px,#06ff00 105.5px,#00ff20 106.5px,#00ff97 109.5px,#00ffe8 111.5px,#00eaff 112.5px,#0060ff 115.5px,#0028ff 117.5px,#0010ff 120.5px,#0000ff 125.5px,#0001ff 248.5px,#0011ff 252.5px,#0030ff 255.5px,#0064ff 257.5px,#00ddff 260.5px,#00fff9 261.5px,#00ff69 265.5px,#00ff0e 268.5px,#0aff00 269.5px,#42ff00 272.5px,#96ff00 280.5px,#a1ff00 282.5px,#a7ff00 293.5px,#fdff00 300.5px,#ffda00 303.5px,#ffcb00 306.5px,#ffb000 318.5px,#ffa600 328.5px)"></i><i style="top:172px;height:2px;background:linear-gradient(90deg,#ff0000 0.5px,#ff0000 45.5px,#ff1700 55.5px,#ff4700 68.5px,#ff8400 81.5px,#ffb500 90.5px,#fff700 97.5px,#f5ff00 98.5px,#d9ff00 99.5px,#05ff00 105.5px,#00ff9a 109.5px,#00ffeb 111.5px,#00e6ff 112.5px,#005cff 115.5px,#003bff 116.5px,#0025ff 117.5px,#0014ff 119.5px,#0000ff 124.5px,#0001ff 246.5px,#0016ff 251.5px,#002cff 253.5px,#0062ff 255.5px,#00e5ff 258.5px,#00ffed 259.5px,#00ff06 265.5px,#1dff00 266.5px,#caff00 271.5px,#dfff00 272.5px,#e8ff00 273.5px,#feff00 279.5px,#fff900 283.5px,#ffff00 291.5px,#fffa00 297.5px,#fff100 299.5px,#ffe600 300.5px,#ffbd00 302.5px,#ffb300 303.5px,#ff9200 317.5px,#ff8700 328.5px)"></i><i style="top:174px;height:3px;background:linear-gradient(90deg,#ff0000 0.5px,#ff0000 45.5px,#ff1700 55.5px,#ff4700 68.5px,#ff8400 81.5px,#ffb500 90.5px,#fff700 97.5px,#f5ff00 98.5px,#d9ff00 99.5px,#05ff00 105.5px,#00ff99 109.5px,#00ffeb 111.5px,#00e7ff 112.5px,#005dff 115.5px,#003dff 116.5px,#0027ff 117.5px,#0015ff 119.5px,#0000ff 124.5px,#0003ff 245.5px,#0016ff 249.5px,#002fff 251.5px,#0069ff 253.5px,#00efff 256.5px,#00ffe3 257.5px,#00ff1e 262.5px,#08ff00 263.5px,#cfff00 269.5px,#e7ff00 270.5px,#fcff00 272.5px,#fff600 278.5px,#fffd00 285.5px,#f1ff00 292.5px,#fdff00 297.5px,#fff200 299.5px,#ffdf00 300.5px,#ffa800 302.5px,#ff9b00 303.5px,#ff7700 316.5px,#ff6a00 328.5px)"></i><i style="top:177px;height:2px;background:linear-gradient(90deg,#ff0000 0.5px,#ff0000 45.5px,#ff1500 54.5px,#ff4300 67.5px,#ff8400 81.5px,#ffb500 90.5px,#fff600 97.5px,#f7ff00 98.5px,#dbff00 99.5px,#09ff00 105.5px,#00ff1d 106.5px,#00ff94 109.5px,#00ffe4 111.5px,#00efff 112.5px,#0066ff 115.5px,#002dff 117.5px,#0017ff 119.5px,#0001ff 124.5px,#0002ff 243.5px,#0016ff 247.5px,#002dff 249.5px,#0045ff 250.5px,#0067ff 251.5px,#00f2ff 254.5px,#00ffdf 255.5px,#00ff14 260.5px,#11ff00 261.5px,#ddff00 267.5px,#f4ff00 268.5px,#fffc00 269.5px,#ffe900 277.5px,#feff00 284.5px,#ddff00 290.5px,#d9ff00 292.5px,#e3ff00 295.5px,#fdff00 298.5px,#ffef00 299.5px,#ff9500 302.5px,#ff8700 303.5px,#ff6200 315.5px,#ff5400 328.5px)"></i><i style="top:179px;height:3px;background:linear-gradient(90deg,#ff0000 0.5px,#ff0500 48.5px,#ff2300 59.5px,#ff7e00 80.5px,#ffba00 91.5px,#fff300 97.5px,#fcff00 98.5px,#e4ff00 99.5px,#15ff00 105.5px,#00ff10 106.5px,#00ff85 109.5px,#00fffe 112.5px,#0076ff 115.5px,#0035ff 117.5px,#0019ff 119.5px,#0000ff 125.5px,#0002ff 241.5px,#0015ff 245.5px,#002cff 247.5px,#0044ff 248.5px,#0066ff 249.5px,#00f0ff 252.5px,#00ffe0 253.5px,#00ff11 258.5px,#16ff00 259.5px,#c6ff00 264.5px,#f9ff00 266.5px,#fff500 267.5px,#ffe800 269.5px,#ffda00 278.5px,#fffd00 283.5px,#caff00 290.5px,#c5ff00 292.5px,#d3ff00 295.5px,#fffd00 298.5px,#ff9500 301.5px,#ff8000 302.5px,#ff7700 303.5px,#ff5200 315.5px,#ff4500 328.5px)"></i><i style="top:182px;height:2px;background:linear-gradient(90deg,#ff0000 0.5px,#ff0000 45.5px,#ff1900 56.5px,#ff4900 69.5px,#ffac00 89.5px,#ffc000 92.5px,#fffb00 98.5px,#efff00 99.5px,#d1ff00 100.5px,#00ff01 106.5px,#00ff76 109.5px,#00ffee 112.5px,#00e4ff 113.5px,#005eff 116.5px,#0028ff 118.5px,#0015ff 120.5px,#0001ff 125.5px,#0002ff 239.5px,#0014ff 243.5px,#0029ff 245.5px,#003fff 246.5px,#0060ff 247.5px,#00ecff 250.5px,#00ffe3 251.5px,#00ff12 256.5px,#15ff00 257.5px,#cbff00 262.5px,#feff00 264.5px,#ffe600 266.5px,#ffdb00 268.5px,#ffca00 279.5px,#ffd100 281.5px,#f9ff00 285.5px,#cfff00 289.5px,#c3ff00 292.5px,#d5ff00 295.5px,#fcff00 297.5px,#ffe200 298.5px,#ff9400 300.5px,#ff7c00 301.5px,#ff7100 302.5px,#ff4a00 314.5px,#ff3c00 328.5px)"></i><i style="top:184px;height:3px;background:linear-gradient(90deg,#ff0000 0.5px,#ff0000 45.5px,#ff0700 49.5px,#ff2400 60.5px,#ff7f00 81.5px,#ffb500 91.5px,#fff600 98.5px,#f8ff00 99.5px,#ddff00 100.5px,#0dff00 106.5px,#00ff18 107.5px,#00ff66 109.5px,#00ffdd 112.5px,#00f6ff 113.5px,#006dff 116.5px,#0031ff 118.5px,#0018ff 120.5px,#0000ff 126.5px,#0002ff 237.5px,#001bff 242.5px,#003cff 244.5px,#005bff 245.5px,#0085ff 246.5px,#00e6ff 248.5px,#00ffe9 249.5px,#00ff15 254.5px,#13ff00 255.5px,#caff00 260.5px,#feff00 262.5px,#ffdb00 265.5px,#ffcf00 267.5px,#ffb900 281.5px,#ffbf00 283.5px,#fff700 287.5px,#f9ff00 288.5px,#e6ff00 290.5px,#e1ff00 292.5px,#efff00 294.5px,#ffff00 295.5px,#ffe800 296.5px,#ff8900 299.5px,#ff6d00 301.5px,#ff4300 314.5px,#ff3600 328.5px)"></i><i style="top:187px;height:3px;background:linear-gradient(90deg,#ff0000 0.5px,#ff0000 46.5px,#ff1a00 57.5px,#ff4a00 70.5px,#ffac00 90.5px,#ffc100 93.5px,#fffe00 99.5px,#ebff00 100.5px,#cdff00 101.5px,#00ff04 107.5px,#00ff50 109.5px,#00ffee 113.5px,#00e5ff 114.5px,#0060ff 117.5px,#002aff 119.5px,#0016ff 121.5px,#0001ff 126.5px,#0003ff 235.5px,#0015ff 239.5px,#002bff 241.5px,#0042ff 242.5px,#0064ff 243.5px,#00efff 246.5px,#00ffe1 247.5px,#00ff0b 252.5px,#1cff00 253.5px,#d4ff00 258.5px,#f0ff00 259.5px,#fffa00 260.5px,#ffcd00 264.5px,#ffc100 266.5px,#ffb900 274.5px,#ffa200 285.5px,#ffb900 290.5px,#ffb900 292.5px,#ffa900 294.5px,#ff7200 298.5px,#ff6200 301.5px,#ff3d00 314.5px,#ff3100 328.5px)"></i><i style="top:190px;height:2px;background:linear-gradient(90deg,#ff0000 0.5px,#ff0500 49.5px,#ff2500 61.5px,#ff8000 82.5px,#ffb600 92.5px,#fff600 99.5px,#f8ff00 100.5px,#deff00 101.5px,#11ff00 107.5px,#00ff14 108.5px,#00ff3a 109.5px,#00feff 114.5px,#0076ff 117.5px,#0036ff 119.5px,#0019ff 121.5px,#0000ff 127.5px,#0003ff 233.5px,#0015ff 237.5px,#002bff 239.5px,#0061ff 241.5px,#00eaff 244.5px,#00ffe6 245.5px,#00ff12 250.5px,#16ff00 251.5px,#d1ff00 256.5px,#eeff00 257.5px,#fffb00 258.5px,#ffce00 262.5px,#ffb700 265.5px,#ffa300 280.5px,#ff3d00 312.5px,#ff2e00 328.5px)"></i><i style="top:192px;height:3px;background:linear-gradient(90deg,#ff0000 0.5px,#ff0000 47.5px,#ff1800 57.5px,#ff4b00 71.5px,#ffa700 90.5px,#ffc100 94.5px,#fffc00 100.5px,#eeff00 101.5px,#d1ff00 102.5px,#02ff00 108.5px,#00ff23 109.5px,#00ffe7 114.5px,#00ecff 115.5px,#0066ff 118.5px,#002dff 120.5px,#001fff 121.5px,#0012ff 123.5px,#0004ff 126.5px,#0000ff 129.5px,#0002ff 231.5px,#0016ff 235.5px,#002eff 237.5px,#0066ff 239.5px,#00ecff 242.5px,#00ffe5 243.5px,#00ff17 248.5px,#10ff00 249.5px,#caff00 254.5px,#ffff00 256.5px,#ffc500 261.5px,#ffab00 265.5px,#ff9900 280.5px,#ff3a00 312.5px,#ff2b00 328.5px)"></i><i style="top:195px;height:2px;background:linear-gradient(90deg,#ff0000 0.5px,#ff0500 50.5px,#ff2200 61.5px,#ff8000 83.5px,#ffb500 93.5px,#fff400 100.5px,#fbff00 101.5px,#e3ff00 102.5px,#18ff00 108.5px,#00ff0c 109.5px,#00fff5 115.5px,#00deff 116.5px,#005fff 119.5px,#002bff 121.5px,#0012ff 124.5px,#0000ff 130.5px,#0001ff 229.5px,#0014ff 233.5px,#002cff 235.5px,#0044ff 236.5px,#0067ff 237.5px,#00f1ff 240.5px,#00ffe1 241.5px,#00ff16 246.5px,#10ff00 247.5px,#c6ff00 252.5px,#fdff00 254.5px,#ffbd00 260.5px,#ffa400 264.5px,#ff9000 280.5px,#ff3600 312.5px,#ff2800 328.5px)"></i><i style="top:197px;height:3px;background:linear-gradient(90deg,#ff0000 0.5px,#ff0000 47.5px,#ff1800 58.5px,#ff4700 71.5px,#ff8700 85.5px,#ffb700 94.5px,#fff900 101.5px,#f4ff00 102.5px,#b8ff00 104.5px,#10ff00 109.5px,#00ff14 110.5px,#00fff2 116.5px,#00e4ff 117.5px,#0067ff 120.5px,#0031ff 122.5px,#0021ff 123.5px,#0002ff 129.5px,#0000ff 140.5px,#0003ff 228.5px,#0019ff 232.5px,#003bff 234.5px,#005bff 235.5px,#0087ff 236.5px,#00ecff 238.5px,#00ffe3 239.5px,#00ff13 244.5px,#13ff00 245.5px,#a3ff00 249.5px,#e3ff00 251.5px,#fbff00 252.5px,#fff300 253.5px,#ffb700 259.5px,#ff9a00 264.5px,#ff8800 280.5px,#ff3300 312.5px,#ff2600 328.5px)"></i><i style="top:200px;height:2px;background:linear-gradient(90deg,#ff0000 0.5px,#ff0000 47.5px,#ff0800 52.5px,#ff2500 63.5px,#ff7f00 84.5px,#ffba00 95.5px,#fffc00 102.5px,#efff00 103.5px,#14ff00 110.5px,#00ff0d 111.5px,#00ffe5 117.5px,#00f1ff 118.5px,#0073ff 121.5px,#0051ff 122.5px,#0024ff 124.5px,#0002ff 130.5px,#0000ff 140.5px,#0002ff 226.5px,#0015ff 230.5px,#002fff 232.5px,#004bff 233.5px,#0073ff 234.5px,#00d8ff 236.5px,#00fff4 237.5px,#00ff14 242.5px,#14ff00 243.5px,#c9ff00 248.5px,#fdff00 250.5px,#ffb700 257.5px,#ff9000 264.5px,#ff8000 280.5px,#ff3000 312.5px,#ff2400 328.5px)"></i><i style="top:202px;height:3px;background:linear-gradient(90deg,#ff0000 0.5px,#ff0000 48.5px,#ff0600 52.5px,#ff2300 63.5px,#ff8000 85.5px,#ffbb00 96.5px,#fffa00 103.5px,#f3ff00 104.5px,#bcff00 106.5px,#00ff01 112.5px,#00fffd 119.5px,#005cff 123.5px,#0040ff 124.5px,#001fff 126.5px,#0002ff 132.5px,#0000ff 140.5px,#0003ff 225.5px,#0012ff 228.5px,#0027ff 230.5px,#003eff 231.5px,#0061ff 232.5px,#00f5ff 235.5px,#00ffd9 236.5px,#00ff25 240.5px,#05ff00 241.5px,#c7ff00 246.5px,#fdff00 248.5px,#ffb700 255.5px,#ff8700 264.5px,#ff7900 280.5px,#ff2d00 312.5px,#ff2200 328.5px)"></i><i style="top:205px;height:3px;background:linear-gradient(90deg,#ff0000 0.5px,#ff0500 52.5px,#ff2400 64.5px,#ff8000 86.5px,#ffb800 97.5px,#feff00 105.5px,#d1ff00 107.5px,#18ff00 113.5px,#00ff0a 114.5px,#00faff 121.5px,#005fff 125.5px,#0042ff 126.5px,#001fff 128.5px,#0004ff 133.5px,#0000ff 140.5px,#0001ff 223.5px,#0016ff 227.5px,#0035ff 229.5px,#0055ff 230.5px,#0080ff 231.5px,#00eaff 233.5px,#00ffe1 234.5px,#00ff57 237.5px,#00ff09 239.5px,#12ff00 240.5px,#46ff00 242.5px,#ddff00 246.5px,#fcff00 247.5px,#ffec00 248.5px,#ffce00 250.5px,#ffb400 253.5px,#ff7e00 263.5px,#ff7200 279.5px,#ff2a00 312.5px,#ff1f00 328.5px)"></i><i style="top:208px;height:2px;background:linear-gradient(90deg,#ff0000 0.5px,#ff0300 52.5px,#ff2200 64.5px,#ff8000 87.5px,#ffb600 98.5px,#fff800 106.5px,#f6ff00 107.5px,#c3ff00 109.5px,#08ff00 115.5px,#00ff18 116.5px,#00ffe3 122.5px,#00f6ff 123.5px,#0057ff 127.5px,#0028ff 129.5px,#0016ff 131.5px,#0007ff 134.5px,#0000ff 140.5px,#0001ff 222.5px,#0010ff 225.5px,#0023ff 227.5px,#003aff 228.5px,#005fff 229.5px,#00fdff 232.5px,#00ffcf 233.5px,#00ff44 236.5px,#00ff1c 237.5px,#01ff00 238.5px,#27ff00 242.5px,#40ff00 243.5px,#e8ff00 247.5px,#fff500 248.5px,#ffc300 250.5px,#ffb600 251.5px,#ff7800 262.5px,#ff6c00 279.5px,#ff2800 312.5px,#ff1e00 328.5px)"></i><i style="top:210px;height:3px;background:linear-gradient(90deg,#ff0000 0.5px,#ff0400 53.5px,#ff2300 65.5px,#ff8300 89.5px,#ffb900 100.5px,#ffff00 108.5px,#d3ff00 110.5px,#07ff00 117.5px,#00ff39 119.5px,#00ffe6 124.5px,#00f1ff 125.5px,#0079ff 128.5px,#003eff 130.5px,#002bff 131.5px,#000cff 135.5px,#0000ff 140.5px,#0002ff 222.5px,#0012ff 225.5px,#002cff 227.5px,#004dff 228.5px,#007fff 229.5px,#00f6ff 231.5px,#00ffd1 232.5px,#00ff3c 235.5px,#00ff16 236.5px,#00ff00 237.5px,#1bff00 242.5px,#2cff00 243.5px,#4eff00 244.5px,#d9ff00 247.5px,#feff00 248.5px,#ffc400 250.5px,#ffa500 252.5px,#ff7000 262.5px,#ff6800 277.5px,#ff2800 310.5px,#ff1c00 328.5px)"></i><i style="top:213px;height:2px;background:linear-gradient(90deg,#ff0000 0.5px,#ff0500 54.5px,#ff2300 66.5px,#ff8100 90.5px,#ffb500 101.5px,#fdff00 110.5px,#b8ff00 113.5px,#09ff00 119.5px,#00ff17 120.5px,#00fbff 127.5px,#0064ff 131.5px,#0031ff 133.5px,#0019ff 135.5px,#0002ff 140.5px,#0002ff 222.5px,#0014ff 225.5px,#0032ff 227.5px,#0057ff 228.5px,#00fff9 231.5px,#00ff2b 235.5px,#00ff09 236.5px,#03ff00 237.5px,#13ff00 241.5px,#28ff00 243.5px,#48ff00 244.5px,#d4ff00 247.5px,#faff00 248.5px,#ffe300 249.5px,#ffab00 251.5px,#ff9d00 252.5px,#ff6a00 261.5px,#ff6200 277.5px,#ff2600 310.5px,#ff1a00 328.5px)"></i><i style="top:215px;height:3px;background:linear-gradient(90deg,#ff0000 0.5px,#ff0500 55.5px,#ff2300 67.5px,#ff8300 92.5px,#ffb700 103.5px,#feff00 112.5px,#bcff00 115.5px,#0fff00 121.5px,#00ff0f 122.5px,#00ffec 129.5px,#00edff 130.5px,#0078ff 133.5px,#003cff 135.5px,#001eff 137.5px,#000cff 140.5px,#0000ff 146.5px,#0002ff 222.5px,#0013ff 225.5px,#002dff 227.5px,#004eff 228.5px,#007eff 229.5px,#00f1ff 231.5px,#00ffd7 232.5px,#00ff42 235.5px,#00ff19 236.5px,#01ff00 237.5px,#1eff00 242.5px,#31ff00 243.5px,#56ff00 244.5px,#deff00 247.5px,#fffc00 248.5px,#ffbf00 250.5px,#ff9b00 252.5px,#ff6300 261.5px,#ff5c00 277.5px,#ff2400 310.5px,#ff1900 328.5px)"></i><i style="top:218px;height:2px;background:linear-gradient(90deg,#ff0000 0.5px,#ff0300 55.5px,#ff2200 68.5px,#ff7d00 92.5px,#ffb600 105.5px,#fffc00 114.5px,#f2ff00 115.5px,#c3ff00 117.5px,#09ff00 124.5px,#00ff13 125.5px,#00ff50 127.5px,#00fff7 132.5px,#00dfff 133.5px,#006dff 136.5px,#003cff 138.5px,#0020ff 140.5px,#0009ff 144.5px,#0000ff 148.5px,#0001ff 222.5px,#0015ff 226.5px,#0034ff 228.5px,#0056ff 229.5px,#0087ff 230.5px,#00fcff 232.5px,#00ff32 236.5px,#00ff09 237.5px,#0eff00 238.5px,#21ff00 241.5px,#32ff00 242.5px,#50ff00 243.5px,#f2ff00 247.5px,#ffed00 248.5px,#ffb600 250.5px,#ffa500 251.5px,#ff7f00 256.5px,#ff5d00 262.5px,#ff5700 277.5px,#ff2200 310.5px,#ff1700 328.5px)"></i><i style="top:220px;height:3px;background:linear-gradient(90deg,#ff0000 0.5px,#ff0300 56.5px,#ff2100 69.5px,#ff8200 95.5px,#ffbb00 108.5px,#fff800 116.5px,#faff00 117.5px,#d6ff00 119.5px,#74ff00 123.5px,#08ff00 127.5px,#00ff15 128.5px,#00fff6 135.5px,#00e8ff 136.5px,#0065ff 140.5px,#0036ff 142.5px,#001cff 144.5px,#000bff 147.5px,#0001ff 151.5px,#0000ff 222.5px,#0014ff 226.5px,#0031ff 228.5px,#0053ff 229.5px,#0086ff 230.5px,#00fdff 232.5px,#00ff2e 236.5px,#00ff01 237.5px,#1dff00 238.5px,#39ff00 240.5px,#67ff00 242.5px,#f0ff00 246.5px,#fff100 247.5px,#ffbe00 249.5px,#ffa300 251.5px,#ff5b00 262.5px,#ff4f00 280.5px,#ff1e00 312.5px,#ff1600 328.5px)"></i><i style="top:223px;height:3px;background:linear-gradient(90deg,#ff0000 0.5px,#ff0400 58.5px,#ff2200 71.5px,#ff8300 98.5px,#ffb500 110.5px,#fffa00 120.5px,#e7ff00 122.5px,#bcff00 124.5px,#01ff00 131.5px,#00ff83 136.5px,#00feff 140.5px,#0075ff 144.5px,#0035ff 147.5px,#0010ff 151.5px,#0002ff 156.5px,#0003ff 222.5px,#0013ff 225.5px,#002aff 227.5px,#0047ff 228.5px,#0073ff 229.5px,#00e8ff 231.5px,#00ffdd 232.5px,#00ff0f 236.5px,#20ff00 237.5px,#70ff00 239.5px,#8cff00 240.5px,#fffa00 245.5px,#ffce00 247.5px,#ffaf00 249.5px,#ff5400 263.5px,#ff4900 280.5px,#ff1c00 312.5px,#ff1500 328.5px)"></i><i style="top:226px;height:2px;background:linear-gradient(90deg,#ff0000 0.5px,#ff0300 59.5px,#ff2300 73.5px,#ff8100 100.5px,#ffba00 114.5px,#fdff00 124.5px,#daff00 126.5px,#0bff00 135.5px,#00ff0f 136.5px,#00ff7f 140.5px,#00fff7 144.5px,#00e9ff 145.5px,#006cff 149.5px,#0051ff 150.5px,#002dff 152.5px,#0014ff 155.5px,#0002ff 162.5px,#0000ff 216.5px,#0008ff 221.5px,#0019ff 224.5px,#0037ff 226.5px,#0055ff 227.5px,#007dff 228.5px,#00e2ff 230.5px,#00ffe8 231.5px,#00ff21 235.5px,#0fff00 236.5px,#c0ff00 240.5px,#e1ff00 241.5px,#f7ff00 242.5px,#fff600 243.5px,#ffc800 246.5px,#ffb200 248.5px,#ff7a00 256.5px,#ff4e00 264.5px,#ff4500 280.5px,#ff1a00 312.5px,#ff1300 328.5px)"></i><i style="top:228px;height:3px;background:linear-gradient(90deg,#ff0000 0.5px,#ff0400 61.5px,#ff2400 75.5px,#ffaf00 115.5px,#ffce00 121.5px,#fffc00 127.5px,#e9ff00 129.5px,#b7ff00 132.5px,#00ff03 140.5px,#00ff9b 146.5px,#00fff6 149.5px,#00e7ff 150.5px,#0071ff 154.5px,#004bff 156.5px,#0028ff 159.5px,#0015ff 162.5px,#0008ff 166.5px,#0001ff 177.5px,#0001ff 210.5px,#000eff 219.5px,#001fff 222.5px,#003eff 224.5px,#005bff 225.5px,#0083ff 226.5px,#00e2ff 228.5px,#00ffee 229.5px,#00ff19 234.5px,#12ff00 235.5px,#baff00 239.5px,#fdff00 241.5px,#ffb500 247.5px,#ff7d00 255.5px,#ff4a00 264.5px,#ff4100 280.5px,#ff1800 312.5px,#ff1200 328.5px)"></i><i style="top:231px;height:2px;background:linear-gradient(90deg,#ff0000 0.5px,#ff0300 62.5px,#ff2200 76.5px,#ffa500 116.5px,#ffbe00 122.5px,#fff900 132.5px,#faff00 133.5px,#cbff00 136.5px,#0cff00 145.5px,#00ff0d 146.5px,#00ff79 150.5px,#00feff 155.5px,#006bff 161.5px,#003aff 164.5px,#0021ff 167.5px,#0010ff 175.5px,#0004ff 200.5px,#0008ff 208.5px,#0019ff 217.5px,#0026ff 219.5px,#0047ff 221.5px,#007dff 223.5px,#00efff 226.5px,#00ffe4 227.5px,#00ff16 232.5px,#10ff00 233.5px,#c7ff00 238.5px,#fffe00 240.5px,#ffcb00 244.5px,#ffaf00 247.5px,#ff4600 264.5px,#ff3d00 280.5px,#ff1700 312.5px,#ff1100 328.5px)"></i><i style="top:233px;height:3px;background:linear-gradient(90deg,#ff0000 0.5px,#ff0400 64.5px,#ff2200 78.5px,#ff8a00 112.5px,#ffc300 128.5px,#fff900 137.5px,#efff00 139.5px,#b5ff00 143.5px,#00ff00 151.5px,#00fffe 162.5px,#00b6ff 165.5px,#00a6ff 166.5px,#007cff 170.5px,#0055ff 175.5px,#0041ff 178.5px,#0033ff 182.5px,#001eff 194.5px,#0028ff 208.5px,#0043ff 213.5px,#0071ff 218.5px,#00a2ff 220.5px,#00e6ff 222.5px,#00fff7 223.5px,#00ff77 227.5px,#00ff0a 230.5px,#1bff00 231.5px,#c9ff00 236.5px,#fcff00 238.5px,#fff200 239.5px,#ffae00 246.5px,#ff4200 264.5px,#ff3a00 280.5px,#ff1600 311.5px,#ff1000 328.5px)"></i><i style="top:236px;height:2px;background:linear-gradient(90deg,#ff0000 0.5px,#ff0200 65.5px,#ff2300 81.5px,#ffb000 129.5px,#ffe600 141.5px,#fffc00 144.5px,#eaff00 146.5px,#c9ff00 148.5px,#01ff00 158.5px,#00ff15 159.5px,#00ff97 165.5px,#00fdff 175.5px,#00deff 178.5px,#009fff 187.5px,#0086ff 196.5px,#009dff 208.5px,#00f8ff 216.5px,#00ffee 218.5px,#00ffcb 220.5px,#00ff01 227.5px,#55ff00 230.5px,#d6ff00 234.5px,#f0ff00 235.5px,#fffb00 236.5px,#ffb600 243.5px,#ff3e00 264.5px,#ff3400 281.5px,#ff1500 311.5px,#ff0f00 328.5px)"></i><i style="top:238px;height:3px;background:linear-gradient(90deg,#ff0000 0.5px,#ff0200 67.5px,#ff2200 83.5px,#ffad00 134.5px,#ffc800 142.5px,#fffb00 150.5px,#efff00 152.5px,#c7ff00 155.5px,#1aff00 164.5px,#01ff00 166.5px,#00ff08 167.5px,#00ff6d 178.5px,#00ff9f 186.5px,#00ffc0 196.5px,#00ffb5 202.5px,#00ffa7 205.5px,#00ffa5 209.5px,#00ff47 219.5px,#00ff3a 220.5px,#00ff0e 222.5px,#0cff00 223.5px,#e9ff00 232.5px,#fbff00 233.5px,#fff400 234.5px,#ffb400 241.5px,#ff3600 265.5px,#ff1200 311.5px,#ff0d00 328.5px)"></i><i style="top:241px;height:2px;background:linear-gradient(90deg,#ff0000 0.5px,#ff0400 70.5px,#ff2000 85.5px,#ffaa00 141.5px,#ffdb00 153.5px,#fffd00 158.5px,#eaff00 160.5px,#a2ff00 165.5px,#3cff00 177.5px,#08ff00 186.5px,#00ff02 190.5px,#00ff16 196.5px,#00ff01 204.5px,#07ff00 210.5px,#61ff00 221.5px,#e0ff00 227.5px,#feff00 229.5px,#ffb100 239.5px,#ff3000 265.5px,#ff1000 311.5px,#ff0b00 328.5px)"></i><i style="top:243px;height:3px;background:linear-gradient(90deg,#ff0000 0.5px,#ff0300 72.5px,#ff2000 88.5px,#ff9b00 143.5px,#ffbc00 154.5px,#fff100 164.5px,#fcff00 168.5px,#9fff00 186.5px,#84ff00 196.5px,#9bff00 205.5px,#9eff00 210.5px,#d7ff00 220.5px,#fdff00 224.5px,#fff700 225.5px,#ffb500 235.5px,#ff2700 266.5px,#ff0900 328.5px)"></i><i style="top:246px;height:3px;background:linear-gradient(90deg,#ff0000 0.5px,#ff0200 75.5px,#ff7e00 141.5px,#ffd800 176.5px,#fff500 196.5px,#ffea00 210.5px,#ffd300 222.5px,#ff1e00 266.5px,#ff0700 328.5px)"></i><i style="top:249px;height:2px;background:linear-gradient(90deg,#ff0000 0.5px,#ff0100 77.5px,#ff6c00 141.5px,#ffa100 163.5px,#ffc600 196.5px,#ffbf00 210.5px,#ffac00 225.5px,#ff1600 267.5px,#ff0500 328.5px)"></i><i style="top:251px;height:3px;background:linear-gradient(90deg,#ff0000 0.5px,#ff0100 80.5px,#ff5700 139.5px,#ff8a00 163.5px,#ff9c00 177.5px,#ffa800 196.5px,#ff9300 226.5px,#ff0f00 268.5px,#ff0400 328.5px)"></i><i style="top:254px;height:2px;background:linear-gradient(90deg,#ff0000 0.5px,#ff0100 84.5px,#ff4600 139.5px,#ff7500 163.5px,#ff9100 196.5px,#ff7c00 227.5px,#ff0a00 268.5px,#ff0200 328.5px)"></i><i style="top:256px;height:3px;background:linear-gradient(90deg,#ff0000 0.5px,#ff0100 88.5px,#ff3500 138.5px,#ff4500 150.5px,#ff5e00 161.5px,#ff6e00 174.5px,#ff7b00 196.5px,#ff6700 228.5px,#ff0600 267.5px,#ff0100 328.5px)"></i><i style="top:259px;height:2px;background:linear-gradient(90deg,#ff0000 0.5px,#ff0100 93.5px,#ff2500 137.5px,#ff5b00 175.5px,#ff6600 196.5px,#ff5400 228.5px,#ff0300 266.5px,#ff0100 328.5px)"></i><i style="top:261px;height:3px;background:linear-gradient(90deg,#ff0000 0.5px,#ff0100 99.5px,#ff1e00 144.5px,#ff3b00 162.5px,#ff5200 196.5px,#ff4000 229.5px,#ff0100 264.5px,#ff0000 328.5px)"></i><i style="top:264px;height:2px;background:linear-gradient(90deg,#ff0000 0.5px,#ff0100 109.5px,#ff1400 145.5px,#ff3500 174.5px,#ff4000 196.5px,#ff2f00 229.5px,#ff0100 261.5px,#ff0000 328.5px)"></i><i style="top:266px;height:3px;background:linear-gradient(90deg,#ff0000 0.5px,#ff0200 128.5px,#ff2f00 196.5px,#ff1e00 230.5px,#ff0000 258.5px,#ff0000 328.5px)"></i><i style="top:269px;height:3px;background:linear-gradient(90deg,#ff0000 0.5px,#ff0100 144.5px,#ff1c00 196.5px,#ff1000 230.5px,#ff0000 251.5px,#ff0000 328.5px)"></i><i style="top:272px;height:2px;background:linear-gradient(90deg,#ff0000 0.5px,#ff0000 152.5px,#ff1100 196.5px,#ff0000 243.5px,#ff0000 328.5px)"></i><i style="top:274px;height:3px;background:linear-gradient(90deg,#ff0000 0.5px,#ff0000 160.5px,#ff0600 196.5px,#ff0000 328.5px)"></i><i style="top:277px;height:2px;background:linear-gradient(90deg,#ff0000 0.5px,#ff0000 328.5px)"></i><i style="top:279px;height:3px;background:linear-gradient(90deg,#ff0000 0.5px,#ff0000 328.5px)"></i><i style="top:282px;height:2px;background:linear-gradient(90deg,#ff0000 0.5px,#ff0000 328.5px)"></i><i style="top:284px;height:3px;background:linear-gradient(90deg,#ff0000 0.5px,#ff0000 328.5px)"></i><i style="top:287px;height:3px;background:linear-gradient(90deg,#ff0000 0.5px,#ff0000 328.5px)"></i><i style="top:290px;height:2px;background:linear-gradient(90deg,#ff0000 0.5px,#ff0000 328.5px)"></i><i style="top:292px;height:3px;background:linear-gradient(90deg,#ff0000 0.5px,#ff0000 328.5px)"></i><i style="top:295px;height:2px;background:linear-gradient(90deg,#ff0000 0.5px,#ff0000 328.5px)"></i><i style="top:297px;height:3px;background:linear-gradient(90deg,#ff0000 0.5px,#ff0000 328.5px)"></i><i style="top:300px;height:2px;background:linear-gradient(90deg,#ff0000 0.5px,#ff0000 328.5px)"></i><i style="top:302px;height:3px;background:linear-gradient(90deg,#ff0000 0.5px,#ff0000 328.5px)"></i><i style="top:305px;height:3px;background:linear-gradient(90deg,#ff0000 0.5px,#ff0000 328.5px)"></i><i style="top:308px;height:2px;background:linear-gradient(90deg,#ff0000 0.5px,#ff0000 328.5px)"></i><i style="top:310px;height:3px;background:linear-gradient(90deg,#ff0000 0.5px,#ff0000 328.5px)"></i><i style="top:313px;height:2px;background:linear-gradient(90deg,#ff0000 0.5px,#ff0000 328.5px)"></i><i style="top:315px;height:3px;background:linear-gradient(90deg,#ff0000 0.5px,#ff0000 328.5px)"></i><i style="top:318px;height:2px;background:linear-gradient(90deg,#ff0000 0.5px,#ff0000 328.5px)"></i><i style="top:320px;height:3px;background:linear-gradient(90deg,#ff0000 0.5px,#ff0000 328.5px)"></i><i style="top:323px;height:2px;background:linear-gradient(90deg,#ff0000 0.5px,#ff0000 328.5px)"></i><i style="top:325px;height:3px;background:linear-gradient(90deg,#ff0000 0.5px,#ff0000 328.5px)"></i></div>
<svg width="1313" height="822" viewBox="0 0 1313 822">
<defs>
<linearGradient id="hot" x1="0" y1="0" x2="0" y2="1"><stop offset="0" stop-color="#f00"/><stop offset=".25" stop-color="#ff0"/><stop offset=".5" stop-color="#0f0"/><stop offset=".75" stop-color="#0ff"/><stop offset="1" stop-color="#00f"/></linearGradient>
<linearGradient id="tg" gradientUnits="userSpaceOnUse" x1="263" y1="0" x2="361" y2="0"><stop offset="0" stop-color="#0078ff"/><stop offset="1" stop-color="#00b4ff"/></linearGradient>
<g id="tau" fill="none" stroke-width="1" shape-rendering="crispEdges"><path d="M166.0 -88.0 L68.5 -88.0 L59.1 -88.0 L48.4 -87.3 L33.0 -87.0 L15.6 -84.9 L4.2 -83.0 L-7.8 -79.5 L-19.9 -74.6 L-33.2 -65.9 L-39.9 -61.2 L-48.0 -53.2 L-54.0 -45.6 L-59.1 -37.1 L-62.9 -30.4 L-66.0 -19.7 L-67.2 -13.7 L-68.6 -4.3 L-68.8 0.0 L-68.6 4.3 L-67.2 13.7 L-66.0 19.7 L-62.9 30.4 L-59.1 37.1 L-54.0 45.6 L-48.0 53.2 L-39.9 61.2 L-33.2 65.9 L-19.9 74.6 L-7.8 79.5 L4.2 83.0 L15.6 84.9 L33.0 87.0 L48.4 87.3 L59.1 88.0 L68.5 88.0 L166.0 88.0" stroke="#000" stroke-dasharray="10 8"/><path d="M166.0 -69.0 L68.5 -69.0 L60.4 -68.8 L48.4 -68.2 L33.0 -67.0 L18.9 -64.6 L12.3 -63.2 L4.2 -60.6 L-7.8 -55.2 L-16.5 -49.6 L-23.9 -44.2 L-31.9 -35.1 L-37.0 -28.4 L-41.0 -19.1 L-42.3 -12.4 L-43.8 -3.0 L-43.9 0.0 L-43.8 3.0 L-42.3 12.4 L-41.0 19.1 L-37.0 28.4 L-31.9 35.1 L-23.9 44.2 L-16.5 49.6 L-7.8 55.2 L4.2 60.6 L12.3 63.2 L18.9 64.6 L33.0 67.0 L48.4 68.2 L60.4 68.8 L68.5 69.0 L166.0 69.0" stroke="#f0f" stroke-dasharray="10 8"/><circle r="105.1" stroke="#930"/><circle r="29.6" stroke="#fff"/></g>
<clipPath id="c1"><rect x="263" y="42" width="329" height="328"/></clipPath>
<clipPath id="c2"><rect x="715" y="42" width="327" height="328"/></clipPath>
<clipPath id="c3"><rect x="263" y="370" width="329" height="328"/></clipPath>
<clipPath id="out"><path clip-rule="evenodd" d="M0 0H1313V822H0Z M263 42H592V698H263Z M715 42H1042V370H715Z"/></clipPath>
<clipPath id="in"><path d="M263 42H592V698H263Z M715 42H1042V370H715Z"/></clipPath>
</defs>
<g clip-path="url(#c1)"><use href="#tau" x="427.4" y="205.5"/></g>
<g clip-path="url(#c2)"><use href="#tau" x="879.5" y="205.5"/></g>
<g clip-path="url(#c3)"><use href="#tau" x="427.4" y="534.5"/></g>
<rect x="66" y="114" width="52" height="152" fill="url(#hot)"/>
<rect x="604" y="114" width="52" height="152" fill="url(#hot)"/>
<rect x="66" y="426" width="52" height="152" fill="url(#hot)"/>
<rect x="66" y="328" width="52" height="18" fill="#f0f"/>
<rect x="66" y="346" width="52" height="17" fill="#000"/>
<rect x="66" y="648" width="52" height="18" fill="#930"/>
<path d="M118 113.5H131 M118 151.5H131 M118 189.5H131 M118 227.5H131 M118 265.5H131 M118 336.5H131 M118 354.5H131 M118 425.5H131 M118 463.5H131 M118 539.5H131 M118 577.5H131 M118 656.5H131 M118 674.5H131 M656 113.5H669 M656 151.5H669 M656 189.5H669 M656 227.5H669 M656 265.5H669" stroke="#000" stroke-width="1" fill="none"/>
<path d="M261.5 41.5H1042.5V698.5H261.5Z M257 698.5H261 M257 690.5H261 M257 682.5H261 M257 674.5H261 M257 666.5H261 M257 658.5H261 M257 649.5H261 M257 641.5H261 M257 633.5H261 M257 625.5H261 M252 617.5H261 M257 608.5H261 M257 600.5H261 M257 592.5H261 M257 584.5H261 M257 575.5H261 M257 567.5H261 M257 559.5H261 M257 551.5H261 M257 543.5H261 M252 534.5H261 M257 526.5H261 M257 518.5H261 M257 510.5H261 M257 502.5H261 M257 493.5H261 M257 485.5H261 M257 477.5H261 M257 469.5H261 M257 460.5H261 M252 452.5H261 M257 444.5H261 M257 436.5H261 M257 428.5H261 M257 419.5H261 M257 411.5H261 M257 403.5H261 M257 395.5H261 M257 387.5H261 M257 378.5H261 M252 370.5H261 M257 362.5H261 M257 354.5H261 M257 345.5H261 M257 337.5H261 M257 329.5H261 M257 321.5H261 M257 313.5H261 M257 304.5H261 M257 296.5H261 M252 288.5H261 M257 280.5H261 M257 272.5H261 M257 263.5H261 M257 255.5H261 M257 247.5H261 M257 239.5H261 M257 230.5H261 M257 222.5H261 M257 214.5H261 M252 206.5H261 M257 198.5H261 M257 189.5H261 M257 181.5H261 M257 173.5H261 M257 165.5H261 M257 157.5H261 M257 148.5H261 M257 140.5H261 M257 132.5H261 M252 124.5H261 M257 115.5H261 M257 107.5H261 M257 99.5H261 M257 91.5H261 M257 83.5H261 M257 74.5H261 M257 66.5H261 M257 58.5H261 M257 50.5H261 M257 41.5H261 M262.5 699V704 M270.5 699V704 M278.5 699V704 M286.5 699V704 M294.5 699V704 M303.5 699V704 M311.5 699V704 M319.5 699V704 M327.5 699V704 M335.5 699V704 M344.5 699V709 M352.5 699V704 M360.5 699V704 M368.5 699V704 M377.5 699V704 M385.5 699V704 M393.5 699V704 M401.5 699V704 M409.5 699V704 M418.5 699V704 M426.5 699V709 M434.5 699V704 M442.5 699V704 M451.5 699V704 M459.5 699V704 M467.5 699V704 M475.5 699V704 M483.5 699V704 M492.5 699V704 M500.5 699V704 M508.5 699V709 M516.5 699V704 M525.5 699V704 M533.5 699V704 M541.5 699V704 M549.5 699V704 M557.5 699V704 M566.5 699V704 M574.5 699V704 M582.5 699V704 M590.5 699V709 M599.5 699V704 M607.5 699V704 M615.5 699V704 M623.5 699V704 M631.5 699V704 M640.5 699V704 M648.5 699V704 M656.5 699V704 M664.5 699V704 M673.5 699V709 M681.5 699V704 M689.5 699V704 M697.5 699V704 M705.5 699V704 M714.5 699V704 M722.5 699V704 M730.5 699V704 M738.5 699V704 M746.5 699V704 M755.5 699V709 M763.5 699V704 M771.5 699V704 M779.5 699V704 M788.5 699V704 M796.5 699V704 M804.5 699V704 M812.5 699V704 M820.5 699V704 M829.5 699V704 M837.5 699V709 M845.5 699V704 M853.5 699V704 M862.5 699V704 M870.5 699V704 M878.5 699V704 M886.5 699V704 M894.5 699V704 M903.5 699V704 M911.5 699V704 M919.5 699V709 M927.5 699V704 M936.5 699V704 M944.5 699V704 M952.5 699V704 M960.5 699V704 M968.5 699V704 M977.5 699V704 M985.5 699V704 M993.5 699V704 M1001.5 699V709 M1010.5 699V704 M1018.5 699V704 M1026.5 699V704 M1034.5 699V704 M1042.5 699V704" stroke="#000" stroke-width="1" fill="none" shape-rendering="crispEdges"/>
<text class="m" x="233.2" y="622.3" font-size="14.5" text-anchor="middle">1.<tspan class="z">0</tspan></text>
<text class="m" x="233.2" y="539.3" font-size="14.5" text-anchor="middle">2.<tspan class="z">0</tspan></text>
<text class="m" x="233.2" y="457.3" font-size="14.5" text-anchor="middle">3.<tspan class="z">0</tspan></text>
<text class="m" x="233.2" y="375.3" font-size="14.5" text-anchor="middle">4.<tspan class="z">0</tspan></text>
<text class="m" x="233.2" y="293.3" font-size="14.5" text-anchor="middle">5.<tspan class="z">0</tspan></text>
<text class="m" x="233.2" y="211.3" font-size="14.5" text-anchor="middle">6.<tspan class="z">0</tspan></text>
<text class="m" x="233.2" y="129.3" font-size="14.5" text-anchor="middle">7.<tspan class="z">0</tspan></text>
<text class="m" x="344.5" y="722.9" font-size="14.5" text-anchor="middle">1.<tspan class="z">0</tspan></text>
<text class="m" x="426.5" y="722.9" font-size="14.5" text-anchor="middle">2.<tspan class="z">0</tspan></text>
<text class="m" x="508.5" y="722.9" font-size="14.5" text-anchor="middle">3.<tspan class="z">0</tspan></text>
<text class="m" x="590.5" y="722.9" font-size="14.5" text-anchor="middle">4.<tspan class="z">0</tspan></text>
<text class="m" x="673.5" y="722.9" font-size="14.5" text-anchor="middle">5.<tspan class="z">0</tspan></text>
<text class="m" x="755.5" y="722.9" font-size="14.5" text-anchor="middle">6.<tspan class="z">0</tspan></text>
<text class="m" x="837.5" y="722.9" font-size="14.5" text-anchor="middle">7.<tspan class="z">0</tspan></text>
<text class="m" x="919.5" y="722.9" font-size="14.5" text-anchor="middle">8.<tspan class="z">0</tspan></text>
<text class="m" x="1001.5" y="722.9" font-size="14.5" text-anchor="middle">9.<tspan class="z">0</tspan></text>
<text class="m" x="653.4" y="739.9" font-size="13.4" text-anchor="middle" style="letter-spacing:2px">X-Axis</text>
<text class="m" font-size="13.4" text-anchor="middle" style="letter-spacing:2px" transform="translate(209.2 369.8) rotate(-90)">Z-Axis</text>
<g clip-path="url(#out)" stroke="#fff">
<text class="s" x="66.6" y="38.2" font-size="25" textLength="287.4" lengthAdjust="spacingAndGlyphs" stroke-width="0.52">DB: chombo00236.hdf</text>
<text class="s" x="66.6" y="64.0" font-size="25" textLength="133.4" lengthAdjust="spacingAndGlyphs" stroke-width="0.52">Cycle: 236</text>
<text class="s" x="243.3" y="64.0" font-size="25" textLength="11.6" lengthAdjust="spacingAndGlyphs" stroke-width="0.10">T</text>
<text class="s" x="255.6" y="64.0" font-size="25" stroke-width="0.30">i</text>
<text class="s" x="262.2" y="64.0" font-size="25" textLength="98.8" lengthAdjust="spacingAndGlyphs" stroke-width="0.52">me:2.36</text>
<text class="s" x="984.3" y="786.7" font-size="20" textLength="149.5" lengthAdjust="spacingAndGlyphs" stroke-width="0.32">user: adebrech</text>
<text class="s" x="984.3" y="808.6" font-size="20" textLength="246.3" lengthAdjust="spacingAndGlyphs" stroke-width="0.32">Wed Jun 28 11:04:59 2017</text>
<text class="s" x="66.3" y="93.9" font-size="12" textLength="72.7" lengthAdjust="spacingAndGlyphs" stroke-width="0.00">Pseudocolor</text>
<text class="s" x="66.3" y="106.9" font-size="12" textLength="44.1" lengthAdjust="spacingAndGlyphs" stroke-width="0.00">Var: rho</text>
<text class="s" x="66.3" y="283.0" font-size="12" textLength="63.9" lengthAdjust="spacingAndGlyphs" stroke-width="0.00">Max:&#160;&#160;632.2</text>
<text class="s" x="66.3" y="295.7" font-size="12" textLength="79.3" lengthAdjust="spacingAndGlyphs" stroke-width="0.00">Min:&#160;&#160;0.005967</text>
<text class="s" x="66.3" y="307.8" font-size="12" textLength="47.6" lengthAdjust="spacingAndGlyphs" stroke-width="0.00">Contour</text>
<text class="s" x="66.3" y="320.7" font-size="12" textLength="45.9" lengthAdjust="spacingAndGlyphs" stroke-width="0.00">Var: Tau</text>
<text class="s" x="66.3" y="379.7" font-size="12" textLength="64.7" lengthAdjust="spacingAndGlyphs" stroke-width="0.00">Max:&#160;&#160;975.3</text>
<text class="s" x="66.3" y="392.6" font-size="12" textLength="84.8" lengthAdjust="spacingAndGlyphs" stroke-width="0.00">Min:&#160;&#160;1.139e-05</text>
<text class="s" x="66.3" y="405.6" font-size="12" textLength="72.7" lengthAdjust="spacingAndGlyphs" stroke-width="0.00">Pseudocolor</text>
<text class="s" x="66.3" y="418.6" font-size="12" textLength="32.7" lengthAdjust="spacingAndGlyphs" stroke-width="0.00">Var: X</text>
<text class="s" x="66.3" y="594.6" font-size="12" textLength="70.8" lengthAdjust="spacingAndGlyphs" stroke-width="0.00">Max:&#160;&#160;0.9992</text>
<text class="s" x="66.3" y="607.7" font-size="12" textLength="78.6" lengthAdjust="spacingAndGlyphs" stroke-width="0.00">Min:&#160;&#160;0.008621</text>
<text class="s" x="66.3" y="627.7" font-size="12" textLength="47.1" lengthAdjust="spacingAndGlyphs" stroke-width="0.00">Contour</text>
<text class="s" x="66.3" y="640.7" font-size="12" textLength="29.6" lengthAdjust="spacingAndGlyphs" stroke-width="0.00">Var: r</text>
<text class="s" x="66.3" y="699.7" font-size="12" textLength="64.2" lengthAdjust="spacingAndGlyphs" stroke-width="0.00">Max:&#160;&#160;3.464</text>
<text class="s" x="66.3" y="712.7" font-size="12" textLength="58.7" lengthAdjust="spacingAndGlyphs" stroke-width="0.00">Min:&#160;&#160;0.000</text>
<text class="s" x="604.6" y="91.9" font-size="12" textLength="72.2" lengthAdjust="spacingAndGlyphs" stroke-width="0.00">Pseudocolor</text>
<text class="s" x="604.6" y="104.7" font-size="12" textLength="56.4" lengthAdjust="spacingAndGlyphs" stroke-width="0.00">Var: temp</text>
<text class="s" x="604.6" y="282.6" font-size="12" textLength="92.4" lengthAdjust="spacingAndGlyphs" stroke-width="0.00">Max:&#160;&#160;2.226e+05</text>
<text class="s" x="604.6" y="295.7" font-size="12" textLength="58.8" lengthAdjust="spacingAndGlyphs" stroke-width="0.00">Min:&#160;&#160;1583.</text>
<text class="s" x="133.8" y="117.9" font-size="12" textLength="30.3" lengthAdjust="spacingAndGlyphs" stroke-width="0.00">20.00</text>
<text class="s" x="133.8" y="155.9" font-size="12" textLength="28.9" lengthAdjust="spacingAndGlyphs" stroke-width="0.00">2.991</text>
<text class="s" x="133.8" y="193.9" font-size="12" textLength="37.4" lengthAdjust="spacingAndGlyphs" stroke-width="0.00">0.4472</text>
<text class="s" x="133.8" y="231.9" font-size="12" textLength="44.1" lengthAdjust="spacingAndGlyphs" stroke-width="0.00">0.06687</text>
<text class="s" x="133.8" y="269.9" font-size="12" textLength="44.3" lengthAdjust="spacingAndGlyphs" stroke-width="0.00">0.01000</text>
<text class="s" x="133.8" y="429.9" font-size="12" textLength="37.4" lengthAdjust="spacingAndGlyphs" stroke-width="0.00">0.9000</text>
<text class="s" x="133.8" y="467.9" font-size="12" textLength="37.4" lengthAdjust="spacingAndGlyphs" stroke-width="0.00">0.2922</text>
<text class="s" x="133.8" y="505.9" font-size="12" textLength="44.2" lengthAdjust="spacingAndGlyphs" stroke-width="0.00">0.09487</text>
<text class="s" x="133.8" y="543.9" font-size="12" textLength="44.2" lengthAdjust="spacingAndGlyphs" stroke-width="0.00">0.03080</text>
<text class="s" x="133.8" y="581.9" font-size="12" textLength="44.3" lengthAdjust="spacingAndGlyphs" stroke-width="0.00">0.01000</text>
<text class="s" x="671.0" y="117.9" font-size="12" textLength="59.0" lengthAdjust="spacingAndGlyphs" stroke-width="0.00">7.000e+06</text>
<text class="s" x="671.0" y="155.9" font-size="12" textLength="59.0" lengthAdjust="spacingAndGlyphs" stroke-width="0.00">6.735e+05</text>
<text class="s" x="671.0" y="193.9" font-size="12" textLength="59.8" lengthAdjust="spacingAndGlyphs" stroke-width="0.00">6.481e+04</text>
<text class="s" x="671.0" y="231.9" font-size="12" textLength="30.3" lengthAdjust="spacingAndGlyphs" stroke-width="0.00">6236.</text>
<text class="s" x="671.0" y="269.9" font-size="12" textLength="30.0" lengthAdjust="spacingAndGlyphs" stroke-width="0.00">600.0</text>
<text class="s" x="131.9" y="340.7" font-size="12" textLength="12.3" lengthAdjust="spacingAndGlyphs" stroke-width="0.00">10</text>
<text class="s" x="132.9" y="358.7" font-size="12" stroke-width="0.00">1</text>
<text class="s" x="134.3" y="660.7" font-size="12" textLength="29.7" lengthAdjust="spacingAndGlyphs" stroke-width="0.00">1.280</text>
<text class="s" x="133.8" y="678.7" font-size="12" textLength="37.3" lengthAdjust="spacingAndGlyphs" stroke-width="0.00">0.3595</text>
</g>
<g clip-path="url(#in)" stroke="url(#tg)">
<text class="s" x="262.2" y="64.0" font-size="25" textLength="98.8" lengthAdjust="spacingAndGlyphs" stroke-width="0.52">me:2.36</text>
<text class="s" x="604.6" y="282.6" font-size="12" textLength="92.4" lengthAdjust="spacingAndGlyphs" stroke-width="0.00">Max:&#160;&#160;2.226e+05</text>
<text class="s" x="671.0" y="117.9" font-size="12" textLength="59.0" lengthAdjust="spacingAndGlyphs" stroke-width="0.00">7.000e+06</text>
<text class="s" x="671.0" y="155.9" font-size="12" textLength="59.0" lengthAdjust="spacingAndGlyphs" stroke-width="0.00">6.735e+05</text>
<text class="s" x="671.0" y="193.9" font-size="12" textLength="59.8" lengthAdjust="spacingAndGlyphs" stroke-width="0.00">6.481e+04</text>
</g>
</svg>
</body></html>
